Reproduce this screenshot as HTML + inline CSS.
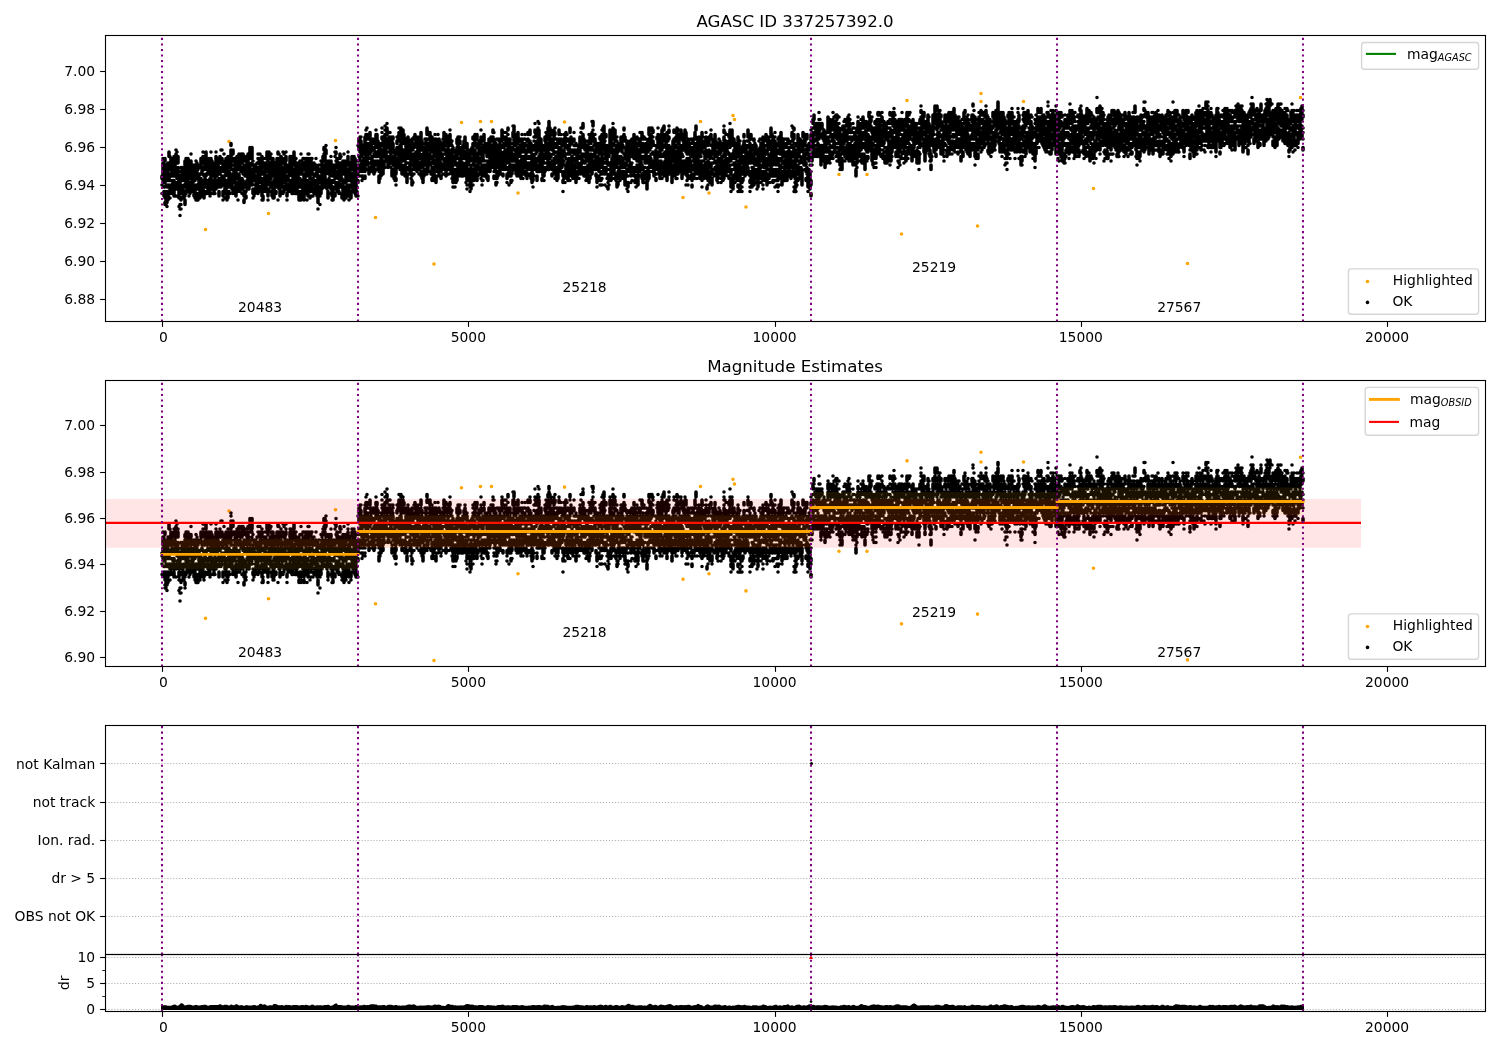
<!DOCTYPE html>
<html><head><meta charset="utf-8"><title>AGASC ID 337257392.0</title>
<style>html,body{margin:0;padding:0;background:#fff;overflow:hidden}svg{display:block}</style>
</head><body>
<svg width="1500" height="1050" viewBox="0 0 1500 1050" font-family="'DejaVu Sans', 'Liberation Sans', sans-serif" fill="#000">
<rect width="1500" height="1050" fill="#fff"/>
<defs>
<clipPath id="c0"><rect x="105.5" y="35.5" width="1380.0" height="286.0"/></clipPath>
<clipPath id="c1"><rect x="105.5" y="380.5" width="1380.0" height="286.0"/></clipPath>
<clipPath id="c2"><rect x="105.5" y="725.5" width="1380.0" height="229.0"/></clipPath>
<clipPath id="c3"><rect x="105.5" y="954.5" width="1380.0" height="57.0"/></clipPath>
</defs>
<g clip-path="url(#c0)">
<path d="M205.5 229.5h0M229 141.5h0M268.5 213.5h0M335.5 140.5h0M375.5 217.5h0M434 264h0M461.5 122.5h0M480.5 121.5h0M491.5 121.5h0M518 193h0M564.5 122h0M683 197.5h0M700.5 121.5h0M709 193h0M733 115.5h0M734.5 119.5h0M746 207h0M811 194h0M839 174.5h0M867 174.5h0M901.5 234h0M907 100.5h0M977.5 226h0M981 93.5h0M981 101.5h0M1023.5 101.5h0M1093.5 188.5h0M1187.5 263.5h0M1300.5 97.5h0" stroke="#ffa500" stroke-width="3.58" stroke-linecap="round" fill="none"/>
<path d="M162 176v2.5m0 6.5h0m0 8.5h0M163 158.5h0m0 4.5v11m0 6.5h0M164 163h0m0 6.5h0m0 4.5v4.5m0 4h0m0 4.5h0m0 4.5v4.5M165 158.5v2.5m0 4h0m0 6.5h0m0 11h0m0 4.5h0m0 9v2m0 4.5v2M166 165v4.5m0 4.5v6.5m0 4.5h0m0 6.5v4.5m0 4v4.5M167 165v9m0 4.5v2m0 4.5v2m0 6.5v2.5m0 4v2.5m0 4h0M168 163v2m0 6.5h0m0 4.5h0m0 4.5h0m0 6.5h0m0 4.5v8.5M169 152v4.5m0 6.5v2m0 4.5h0m0 4.5v6.5m0 4.5v2M170 156.5h0m0 6.5v6.5m0 4.5v2m0 4.5h0m0 6.5v2m0 4.5h0m0 4.5h0M171 158.5v4.5m0 4.5v2m0 6.5h0m0 4.5h0m0 4.5v8.5M172 161v13m0 13h0M173 165v2.5m0 4v4.5m0 4.5v6.5m0 4.5v2M174 156.5v4.5m0 4v2.5m0 4h0m0 4.5h0m0 4.5v2m0 4.5v9M175 158.5v17.5m0 9v2M176 150h0m0 4v4.5m0 4.5h0m0 8.5v4.5m0 9v4m0 7h0M177 152h0m0 9v2m0 6.5v2m0 4.5v2.5m0 4h0m0 4.5h0M178 156.5v6.5m0 4.5v11m0 4h0m0 4.5h0M179 180.5v4.5m0 4v9m0 8.5h0M180 176h0m0 4.5v4.5m0 6.5h0m0 6.5h0m0 6.5h0m0 4.5h0m0 6.5h0M181 167.5h0m0 4h0m0 4.5v4.5m0 4.5v2m0 11v2m0 4.5h0m0 4.5h0M182 167.5v8.5m0 4.5h0m0 8.5v4.5m0 4.5h0M183 167.5v2m0 4.5v6.5m0 6.5v4.5m0 4.5h0M184 171.5v9m0 4.5v2m0 4.5v6.5M185 161v4m0 4.5v6.5m0 9h0m0 6.5h0m0 4.5h0m0 4v4.5M186 158.5h0m0 4.5h0m0 4.5h0m0 4h0m0 4.5h0m0 6.5v4.5m0 4.5v2M187 158.5h0m0 4.5h0m0 6.5v2m0 4.5v15.5M188 158.5v11m0 4.5v2m0 4.5h0m0 4.5h0m0 4v2.5M189 161v6.5m0 4v2.5m0 4.5h0m0 4v9m0 4.5h0M190 161v2m0 4.5h0m0 4h0m0 4.5v2.5m0 13v2M191 154h0m0 7v4m0 4.5v2m0 7h0m0 4v6.5M192 165v2.5m0 6.5h0m0 4.5v2m0 4.5h0m0 4h0M193 167.5h0m0 8.5h0m0 4.5v2m0 4.5v4.5M194 165h0m0 4.5v4.5m0 4.5v2m0 4.5v4m0 4.5v2.5M195 165v15.5m0 11h0m0 4.5v2M196 161h0m0 4h0m0 4.5h0m0 6.5h0m0 9v4m0 4.5v6.5M197 163h0m0 4.5v4m0 7h0m0 6.5h0m0 4h0m0 4.5v6.5M198 165v4.5m0 4.5v2m0 9h0m0 4h0m0 7h0m0 4h0M199 174v2m0 4.5v8.5m0 4.5v2.5M200 165h0m0 9h0m0 4.5v2m0 4.5v2m0 4.5v6.5M201 158.5v9m0 11h0m0 4v13.5M202 161h0m0 6.5v6.5m0 6.5v4.5m0 4v4.5M203 152h0m0 4.5h0m0 4.5v2m0 4.5h0m0 6.5h0m0 11h0m0 4v2.5m0 4.5h0M204 158.5h0m0 9v2m0 6.5h0m0 4.5v6.5m0 6.5v4.5M205 163v6.5m0 6.5v4.5m0 4.5v2m0 4.5h0M206 152v11m0 4.5h0m0 6.5v2m0 4.5h0m0 4.5v2m0 6.5h0M207 158.5v11m0 4.5h0m0 6.5v2m0 11h0M208 161h0m0 4v2.5m0 4v2.5m0 6.5v2m0 4.5v4.5M209 158.5h0m0 4.5v4.5m0 17.5v8.5M210 161v4m0 4.5v4.5m0 4.5v2m0 4.5v6.5m0 4.5h0M211 152h0m0 6.5v2.5m0 4v4.5m0 6.5v2.5m0 4v4.5m0 6.5h0M212 161v4m0 4.5v2m0 4.5h0m0 6.5v6.5M213 163v11m0 6.5v2m0 6.5h0m0 4.5h0M214 169.5v2m0 4.5h0m0 4.5v13M215 163v2m0 4.5v4.5m0 4.5h0m0 4v2.5m0 4h0m0 4.5h0M216 152h0m0 4.5v17.5m0 8.5v2.5m0 4h0M217 161h0m0 4v11m0 4.5h0m0 4.5v2M218 158.5v9m0 4v2.5m0 6.5h0m0 6.5h0M219 169.5v4.5m0 4.5v8.5m0 4.5v4.5M220 156.5v6.5m0 4.5h0m0 4v2.5M221 150h0m0 11v2m0 8.5h0m0 9v6.5M222 150h0m0 8.5v2.5m0 6.5v2m0 6.5v9M223 161h0m0 4v6.5m0 13.5h0m0 6.5v4.5m0 4h0M224 154h0m0 9v2m0 6.5h0m0 4.5v4.5m0 4.5h0M225 163v4.5m0 4h0m0 4.5h0m0 6.5h0m0 4.5v6.5m0 4.5h0M226 158.5v2.5m0 4h0m0 4.5v4.5m0 6.5v8.5M227 161v13m0 6.5h0m0 11v8.5M228 156.5v11m0 8.5h0m0 6.5h0m0 4.5h0m0 4.5h0m0 4.5v2M229 158.5h0m0 6.5v2.5m0 4v2.5m0 4.5v8.5m0 4.5h0M230 158.5h0m0 4.5h0m0 4.5h0m0 11v8.5m0 6.5h0M231 143.5v2m0 4.5v6.5m0 4.5v8.5m0 4.5v4.5m0 6.5h0M232 152h0m0 6.5h0m0 11h0m0 6.5h0m0 4.5v8.5M233 150v4m0 4.5h0m0 15.5v4.5m0 4h0m0 4.5v6.5M234 158.5v2.5m0 4h0m0 4.5v4.5m0 4.5h0m0 4h0M235 158.5h0m0 4.5v4.5m0 11v2m0 6.5v6.5M236 158.5h0m0 4.5h0m0 6.5v2m0 4.5h0m0 6.5v13.5M237 156.5v8.5m0 9v4.5M238 167.5v2m0 4.5v2m0 9v6.5m0 8.5h0M239 154v7m0 8.5h0m0 4.5v8.5M240 163v6.5m0 11v11M241 154v4.5m0 4.5h0m0 4.5h0m0 4h0m0 7h0m0 6.5v4M242 154h0m0 4.5v4.5m0 4.5v2m0 9v4m0 11h0M243 154v4.5m0 9v2m0 4.5h0m0 6.5v8.5m0 4.5h0M244 158.5v2.5m0 4h0m0 4.5v4.5m0 8.5v2.5m0 6.5v4.5m0 4v2.5M245 156.5v4.5m0 6.5h0m0 6.5v2m0 6.5v2.5m0 6.5v2m0 4.5h0M246 161h0m0 4v2.5m0 6.5v2m0 6.5v4.5m0 4.5h0m0 4.5v2M247 158.5v15.5m0 6.5h0m0 6.5v2M248 154v2.5m0 4.5v8.5m0 6.5v6.5M249 163h0m0 4.5h0m0 6.5v15M250 147.5v11m0 6.5v13.5M251 150v4m0 4.5h0m0 6.5h0m0 6.5h0m0 4.5v9M252 147.5v11m0 4.5h0m0 8.5h0m0 4.5h0m0 6.5v2.5M253 161h0m0 4h0m0 4.5v6.5m0 4.5h0m0 8.5v4.5m0 4.5h0M254 165v2.5m0 4v7m0 13h0m0 4.5h0M255 165v2.5m0 4h0m0 4.5v2.5m0 6.5h0m0 4v4.5M256 165h0m0 4.5v2m0 4.5v6.5m0 4.5v4.5M257 163h0m0 4.5v4m0 4.5v2.5m0 4v4.5M258 154h0m0 4.5h0m0 4.5h0m0 8.5v2.5m0 4.5v2m0 4.5v8.5M259 161h0m0 6.5v4m0 4.5h0m0 4.5v2m0 4.5v4.5M260 154h0m0 4.5v6.5m0 4.5v2m0 4.5h0m0 4.5h0m0 6.5v2M261 161v13m0 4.5v4M262 156.5v4.5m0 4v2.5m0 6.5h0m0 6.5h0m0 4.5v2m0 4.5v4.5m0 4h0M263 165v2.5m0 4v2.5m0 4.5v2m0 8.5v2.5m0 4.5v4M264 163v4.5m0 4h0m0 7h0m0 4v6.5M265 158.5h0m0 4.5v19.5m0 4.5h0m0 4.5h0M266 158.5h0m0 4.5v4.5m0 4h0m0 7h0m0 4h0m0 4.5v2M267 152v6.5m0 6.5h0m0 4.5v2m0 4.5v9m0 4h0M268 156.5v4.5m0 4v4.5m0 6.5h0m0 4.5h0m0 8.5v7m0 4h0M269 152h0m0 4.5v2m0 6.5v2.5m0 6.5h0m0 4.5v6.5m0 4h0M270 154v2.5m0 6.5v4.5m0 4h0m0 4.5v4.5m0 4.5h0M271 154h0m0 9v2m0 4.5v9m0 4v4.5m0 4.5h0M272 158.5v2.5m0 4v4.5m0 4.5h0m0 8.5h0m0 4.5h0m0 4.5v4.5M273 158.5v13m0 13.5v6.5m0 6.5h0M274 165v2.5m0 8.5h0m0 4.5h0m0 4.5v13M275 163v15.5m0 4h0m0 9h0M276 167.5h0m0 6.5v8.5m0 4.5h0m0 4.5v2M277 158.5v11m0 4.5v11M278 152v2m0 4.5v2.5m0 4h0m0 4.5v2m0 4.5h0m0 9v2m0 13h0M279 154h0m0 4.5v9m0 8.5h0m0 4.5v2m0 6.5h0M280 171.5v9m0 4.5v11M281 156.5v13m0 6.5v4.5m0 4.5h0M282 167.5v2m0 4.5v13M283 152h0m0 6.5h0m0 4.5h0m0 8.5v11m0 4.5h0m0 4.5v2M284 154h0m0 7v2m0 8.5h0m0 4.5h0m0 4.5v2m0 4.5v4.5M285 161v19.5m0 6.5h0M286 152h0m0 4.5v4.5m0 4v2.5m0 8.5v2.5m0 4v6.5M287 165v6.5m0 9h0m0 6.5v2m0 4.5v2.5m0 4h0M288 176v4.5m0 4.5v6.5M289 165v11m0 9h0m0 6.5h0M290 156.5v6.5m0 6.5v2m0 9v4.5m0 4h0M291 156.5v11m0 4v2.5m0 6.5h0m0 6.5h0m0 4.5h0M292 161v2m0 4.5v2m0 6.5h0m0 9v8.5M293 156.5v2m0 4.5v2m0 6.5h0m0 7v15M294 152v13m0 4.5h0m0 4.5v2m0 6.5h0m0 4.5h0M295 161v2m0 6.5v17.5m0 4.5v2M296 158.5h0m0 4.5v6.5m0 4.5v2m0 6.5h0m0 4.5v6.5M297 174v19.5M298 163v2m0 4.5v11m0 4.5h0M299 163h0m0 4.5v4m0 7v8.5m0 6.5v6.5M300 161h0m0 4v9m0 4.5v8.5m0 4.5v2M301 154h0m0 7h0m0 4h0m0 6.5v2.5m0 6.5h0m0 11h0m0 4.5v4M302 161h0m0 4v9m0 6.5v4.5m0 8.5h0M303 158.5h0m0 4.5v4.5m0 6.5h0m0 6.5v11M304 158.5h0m0 4.5h0m0 6.5h0m0 6.5v2.5m0 4h0m0 4.5h0m0 4.5v8.5M305 163v6.5m0 4.5v17.5M306 158.5v15.5m0 6.5h0m0 4.5h0m0 4v4.5M307 158.5v2.5m0 4v4.5m0 6.5h0m0 6.5v2.5m0 6.5v2m0 6.5h0M308 154h0m0 9h0m0 4.5h0m0 13h0m0 4.5v11M309 154h0m0 4.5v17.5M310 165h0m0 4.5h0m0 4.5v4.5m0 4v9m0 6.5h0M311 158.5v2.5m0 4v2.5m0 11h0m0 4v9m0 4.5h0M312 158.5h0m0 4.5v4.5m0 4h0m0 7v4m0 4.5v2M313 165v4.5m0 4.5h0m0 4.5v6.5m0 11h0M314 163h0m0 4.5v2m0 4.5v2m0 4.5v4.5m0 4v4.5M315 169.5h0m0 4.5v2m0 4.5v4.5m0 4v4.5M316 158.5h0m0 6.5v4.5m0 6.5h0m0 4.5v2m0 4.5v2m0 4.5h0M317 167.5v8.5m0 6.5v13.5M318 167.5h0m0 4h0m0 4.5v2.5m0 6.5h0m0 6.5h0m0 6.5v4.5m0 6.5h0M319 165h0m0 4.5v2m0 4.5v4.5m0 8.5v4.5M320 169.5v2m0 7v4m0 4.5v4.5m0 4.5h0m0 8.5h0M321 161h0m0 8.5v2m0 4.5v6.5m0 4.5v6.5M322 163v11m0 4.5v6.5m0 4h0M323 156.5v2m0 6.5v11m0 4.5v6.5M324 147.5v2.5m0 4h0m0 7h0m0 8.5v4.5m0 4.5v4m0 4.5h0M325 147.5v11m0 6.5h0m0 4.5h0m0 4.5v6.5M326 145.5h0m0 4.5v4m0 7v2m0 4.5h0m0 4v2.5m0 8.5v2.5M327 161h0m0 6.5h0m0 4h0m0 9v2m0 4.5v2M328 165v4.5m0 11v4.5m0 6.5v6.5M329 161v4m0 4.5v4.5m0 4.5v2M330 167.5v8.5m0 6.5v4.5M331 156.5h0m0 4.5v10.5m0 13.5v4m0 4.5h0M332 165h0m0 4.5v6.5m0 4.5h0m0 8.5v7m0 4h0M333 167.5h0m0 6.5v2m0 6.5h0m0 4.5v13M334 165v11m0 4.5h0M335 152h0m0 4.5h0m0 11v2m0 4.5h0m0 4.5h0m0 4h0m0 4.5v2m0 4.5v2.5M336 147.5h0m0 4.5v2m0 7h0m0 4h0m0 9h0m0 8.5v2.5m0 4h0M337 158.5v4.5m0 8.5h0m0 4.5h0m0 9v2m0 4.5h0M338 163h0m0 4.5h0m0 4h0m0 7h0m0 4v9M339 163v15.5m0 4v4.5m0 4.5v2M340 154v4.5m0 4.5v2m0 4.5v2m0 4.5h0m0 4.5h0m0 4.5v2M341 156.5h0m0 6.5v4.5m0 4v9m0 4.5h0M342 163v8.5m0 7h0m0 6.5v2m0 6.5v4.5M343 161h0m0 4h0m0 6.5h0m0 9v15.5M344 154h0m0 9v2m0 4.5h0m0 4.5h0m0 6.5v2m0 9h0m0 4.5v4M345 161v10.5m0 9v2m0 6.5v4.5m0 4.5h0M346 163v4.5m0 4h0m0 4.5v2.5m0 4h0m0 4.5v4.5m0 4.5v2M347 165h0m0 6.5v2.5m0 4.5h0m0 6.5v8.5M348 152h0m0 4.5v6.5m0 6.5v4.5m0 4.5v2m0 6.5v2m0 4.5h0M349 163h0m0 8.5h0m0 4.5h0m0 4.5h0m0 4.5h0m0 4v7m0 4h0M350 163v11m0 4.5v2M351 174v2m0 4.5h0m0 4.5v2m0 4.5v6.5M352 156.5v6.5m0 4.5h0m0 6.5v4.5m0 4h0m0 4.5h0M353 161h0m0 4h0m0 4.5h0m0 6.5h0m0 4.5v11M354 156.5v17.5m0 4.5v4M355 158.5v6.5m0 4.5v6.5m0 9v8.5M356 167.5h0m0 4h0m0 4.5v9m0 4v7M357 167.5v2m0 4.5v2m0 6.5h0m0 4.5h0m0 4.5v4.5M358 145.5h0m0 15.5h0m0 4v4.5m0 4.5v2m0 4.5v2m0 13.5h0M359 139v11m0 6.5h0m0 4.5h0m0 4h0m0 4.5v2m0 4.5h0M360 137v2m0 4.5v8.5m0 4.5v2m0 6.5v2.5M361 137h0m0 4v6.5m0 6.5h0m0 7h0m0 8.5v2m0 4.5h0M362 145.5h0m0 4.5h0m0 4v2.5m0 4.5v4m0 11h0m0 4.5h0M363 145.5h0m0 6.5v2m0 7v6.5m0 4h0m0 4.5v2.5M364 145.5v6.5m0 6.5v6.5m0 4.5h0M365 137v8.5m0 4.5h0m0 4h0m0 11v2.5m0 4h0m0 4.5v2.5M366 130h0m0 4.5v2.5m0 6.5h0m0 4v13.5M367 128h0m0 6.5v4.5m0 4.5h0m0 4v2.5m0 4v9m0 6.5h0M368 139h0m0 4.5v8.5m0 4.5v2m0 6.5h0m0 4.5h0M369 145.5h0m0 4.5v4m0 4.5h0m0 4.5h0m0 4.5v6.5M370 132.5v6.5m0 6.5v2m0 6.5h0m0 4.5h0m0 4.5h0m0 4.5h0M371 139v8.5m0 4.5h0m0 11h0M372 150h0m0 6.5v15M373 139v4.5m0 4v2.5m0 15v4.5M374 141v2.5m0 4v2.5m0 4h0m0 9v4.5m0 4v2.5M375 139h0m0 4.5h0m0 4h0m0 4.5h0m0 4.5h0m0 4.5h0m0 4h0m0 4.5v2M376 130h0m0 4.5v13m0 4.5v4.5M377 134.5v4.5m0 6.5v2m0 4.5h0m0 4.5h0m0 4.5v2M378 141v6.5m0 4.5h0m0 4.5h0m0 4.5v8.5M379 150v4m0 9v2m0 6.5h0m0 4.5v6.5M380 147.5v6.5m0 9v2m0 4.5v2m0 7h0M381 143.5v2m0 6.5h0m0 4.5v4.5m0 4v11M382 128h0m0 4.5h0m0 4.5v2m0 4.5v2m0 4.5h0m0 8.5v2.5m0 6.5h0m0 4h0M383 137h0m0 4h0m0 9v4m0 9v11M384 139h0m0 4.5v4m0 4.5h0m0 4.5h0m0 6.5v4.5M385 126h0m0 4h0m0 4.5v6.5m0 6.5v4.5m0 9h0m0 6.5h0M386 145.5h0m0 4.5v11M387 123.5h0m0 4.5v6.5m0 4.5h0m0 4.5v2M388 141h0m0 4.5v2m0 9v11M389 132.5h0m0 4.5h0m0 4h0m0 11h0m0 4.5h0m0 4.5h0m0 4h0M390 132.5h0m0 4.5v8.5m0 4.5v2m0 4.5v2M391 141h0m0 4.5v2m0 4.5v6.5m0 4.5h0m0 4.5h0M392 137h0m0 4v6.5m0 4.5h0m0 4.5h0m0 4.5h0m0 8.5v6.5M393 137v2m0 4.5v8.5m0 6.5v6.5m0 9h0M394 150h0m0 6.5v8.5m0 9h0m0 4.5h0M395 152v4.5m0 4.5v2m0 4.5v13M396 150v4m0 4.5h0m0 4.5h0m0 4.5v6.5m0 4.5v2m0 4.5h0M397 137h0m0 4v2.5m0 4v6.5m0 4.5v2.5m0 4v2.5M398 139v2m0 6.5v6.5m0 4.5h0m0 4.5v2M399 128h0m0 4.5v6.5m0 11v11M400 134.5v4.5m0 6.5h0m0 11h0m0 6.5h0m0 4.5v2M401 128v4.5m0 4.5h0m0 4v11m0 6.5h0m0 6.5h0M402 134.5v2.5m0 6.5h0m0 6.5h0m0 4v7m0 4v9M403 130v11m0 9h0m0 4v7M404 134.5v2.5m0 4v2.5m0 6.5v4m0 4.5h0M405 152h0m0 4.5h0m0 4.5h0m0 4v11M406 139v8.5m0 6.5h0m0 4.5h0m0 4.5h0m0 6.5v2M407 145.5h0m0 4.5v2m0 4.5v2m0 4.5h0m0 4.5v2m0 4.5v8.5M408 137v8.5m0 6.5v2m0 9h0m0 4.5h0M409 141h0m0 4.5v13m0 9v2M410 141v11m0 6.5h0m0 4.5v11M411 143.5v4m0 9v4.5m0 8.5v4.5m0 4.5h0M412 139v6.5m0 4.5h0m0 4h0m0 4.5v2.5m0 4h0m0 4.5h0m0 6.5h0m0 4.5v4.5M413 143.5v2m0 4.5h0m0 4v7m0 4h0m0 17.5h0M414 137h0m0 8.5v2m0 6.5h0m0 4.5v11m0 4.5h0M415 134.5v4.5m0 4.5h0m0 10.5v2.5m0 6.5v6.5M416 137v6.5m0 8.5h0m0 4.5v2m0 4.5h0M417 139v8.5m0 4.5h0m0 4.5v4.5m0 8.5v2M418 137v2m0 4.5v10.5m0 7h0m0 4v4.5M419 141v11m0 4.5h0m0 6.5v6.5m0 4.5h0M420 145.5v4.5m0 4v4.5m0 4.5v6.5M421 132.5v6.5m0 6.5v4.5m0 6.5h0m0 6.5h0m0 4.5h0m0 4h0m0 4.5h0M422 141v9m0 8.5v6.5m0 9v4.5M423 154v2.5m0 6.5v4.5m0 4v11M424 147.5v11m0 6.5h0m0 4.5v6.5M425 139h0m0 4.5h0m0 4v17.5M426 139v8.5m0 4.5v2m0 7h0m0 8.5v2M427 128v6.5m0 4.5h0m0 6.5v2m0 4.5h0m0 6.5v4.5m0 4.5h0m0 6.5h0M428 150h0m0 6.5v2m0 6.5v6.5M429 132.5v2m0 4.5h0m0 4.5h0m0 4h0m0 6.5v7M430 132.5v8.5m0 4.5h0m0 8.5v2.5m0 6.5h0M431 143.5v2m0 4.5v2m0 4.5v2m0 4.5v2m0 6.5v2.5M432 137h0m0 4v9m0 8.5h0m0 9v4m0 7v2M433 139v8.5m0 4.5h0m0 6.5v4.5m0 13h0M434 143.5v4m0 4.5v4.5m0 11v6.5m0 4.5v2M435 134.5h0m0 4.5v4.5m0 4v9m0 4.5h0m0 4v4.5M436 139h0m0 6.5v4.5m0 4h0m0 9h0m0 6.5v2m0 4.5v6.5M437 141v4.5m0 4.5v11m0 4v4.5M438 134.5h0m0 6.5h0m0 6.5v2.5m0 4h0m0 4.5h0m0 4.5v6.5m0 6.5h0M439 139v2m0 6.5h0m0 4.5h0m0 4.5v8.5m0 6.5v2.5M440 141v13m0 4.5v2.5m0 4h0m0 4.5h0M441 156.5v2m0 4.5v8.5m0 4.5v2.5M442 143.5v6.5m0 4v4.5m0 9v2M443 139h0m0 4.5v4m0 6.5h0m0 4.5h0m0 6.5v4.5m0 4.5h0M444 132.5v17.5m0 8.5v2.5M445 134.5v9m0 6.5h0m0 4h0m0 7v8.5M446 134.5v2.5m0 4h0m0 9v2m0 6.5h0m0 6.5h0m0 4.5v6.5M447 141v4.5m0 4.5v8.5m0 4.5v4.5M448 137v2m0 6.5v2m0 4.5h0m0 4.5h0m0 4.5v2m0 4.5v2M449 139v2m0 9h0m0 6.5v13m0 4.5h0M450 130h0m0 4.5v11m0 6.5v2M451 141v2.5m0 6.5h0m0 4v4.5m0 4.5v8.5M452 141h0m0 4.5h0m0 6.5v4.5m0 4.5v13m0 4.5h0M453 147.5v4.5m0 6.5h0m0 6.5h0m0 6.5v11m0 4.5h0M454 150v2m0 4.5v8.5m0 4.5v2m0 11h0M455 156.5h0m0 4.5v2m0 6.5v11m0 6.5h0M456 154v2.5m0 6.5v2m0 4.5h0m0 4.5h0m0 4.5v4M457 139v4.5m0 4v11m0 11h0m0 4.5h0m0 4.5v2M458 137v8.5m0 6.5v2m0 4.5h0m0 4.5v4.5m0 4h0m0 4.5h0M459 137v2m0 4.5h0m0 10.5h0m0 4.5h0m0 4.5v13M460 137h0m0 4v2.5m0 4v2.5m0 8.5v2.5m0 4h0M461 152h0m0 4.5h0m0 4.5v15M462 147.5v2.5m0 4v4.5m0 6.5v4.5m0 4.5v2M463 145.5v8.5m0 4.5h0m0 4.5h0m0 4.5v8.5M464 141v6.5m0 4.5v6.5m0 6.5h0m0 4.5v4.5M465 137v10.5m0 4.5h0m0 6.5h0m0 6.5v9M466 143.5h0m0 8.5v6.5m0 4.5h0m0 4.5v8.5m0 6.5h0M467 143.5v6.5m0 6.5h0m0 4.5h0m0 6.5h0m0 8.5v4.5m0 4.5h0m0 4h0M468 150h0m0 4v11m0 4.5h0M469 169.5v11m0 4.5h0M470 150v11m0 4h0m0 4.5v4.5m0 8.5h0m0 4.5h0m0 4.5h0M471 152v2m0 4.5v2.5m0 6.5v2m0 4.5v2m0 6.5h0m0 4.5v2M472 147.5v2.5m0 4h0m0 4.5h0m0 6.5h0m0 6.5h0m0 4.5v4.5m0 4.5h0M473 137v2m0 4.5v4m0 4.5h0m0 6.5v2.5m0 4h0m0 4.5v6.5m0 4.5h0m0 4.5h0M474 145.5h0m0 4.5h0m0 4v11m0 6.5v9M475 134.5v11m0 4.5v2m0 6.5h0m0 9v2M476 137v2m0 6.5h0m0 11h0m0 4.5h0m0 8.5v6.5M477 134.5v4.5m0 6.5v2m0 6.5h0m0 4.5v2.5m0 4v4.5m0 4.5h0m0 4.5v2M478 143.5v2m0 11v2m0 4.5v6.5m0 4.5v2M479 141v13m0 7v2m0 6.5h0M480 147.5v2.5m0 4h0m0 4.5v4.5m0 4.5h0m0 4h0M481 130h0m0 7v6.5m0 4h0m0 4.5v2m0 4.5h0m0 15.5h0m0 4.5h0M482 150h0m0 4v2.5m0 4.5h0m0 4v11m0 4.5h0m0 4.5h0M483 145.5v15.5m0 6.5h0m0 4h0m0 9h0M484 134.5v6.5m0 6.5v4.5m0 13v2.5m0 6.5v2M485 143.5v8.5m0 9h0m0 4h0m0 4.5h0m0 6.5h0M486 145.5v6.5m0 13h0m0 4.5v6.5M487 143.5v4m0 6.5v2.5m0 4.5h0m0 4v2.5m0 4h0m0 4.5v2.5M488 145.5v11m0 6.5h0m0 13v4.5M489 139v2m0 4.5v6.5m0 9h0m0 4v6.5M490 143.5h0m0 4h0m0 4.5h0m0 4.5v15M491 137h0m0 4h0m0 4.5v8.5m0 4.5v4.5M492 137v4m0 4.5v11m0 4.5h0M493 130v2.5m0 4.5h0m0 4h0m0 9v2m0 4.5v4.5m0 4v2.5M494 132.5h0m0 6.5h0m0 4.5h0m0 4v9m0 6.5v2m0 6.5h0m0 4.5v2.5M495 141h0m0 4.5v2m0 6.5h0m0 4.5v2.5m0 4v6.5M496 143.5h0m0 4v6.5m0 4.5v4.5m0 4.5h0m0 4h0m0 4.5v2.5m0 4v2.5M497 139h0m0 6.5v6.5m0 4.5h0m0 4.5h0m0 6.5h0m0 4v7m0 4h0M498 145.5h0m0 8.5v4.5m0 4.5v4.5m0 4v4.5M499 139v2m0 4.5v2m0 4.5h0m0 4.5v4.5m0 4h0M500 143.5v8.5m0 4.5h0m0 4.5v13M501 139v2m0 4.5v2m0 4.5v4.5m0 4.5v8.5M502 130v11m0 4.5v2m0 11v2.5M503 158.5v11m0 4.5v2M504 132.5h0m0 4.5v2m0 4.5v4m0 4.5v6.5m0 4.5h0M505 150h0m0 4v15.5M506 132.5h0m0 4.5v6.5m0 6.5h0m0 6.5h0M507 143.5v2m0 4.5v8.5m0 4.5h0m0 6.5h0m0 4.5v4.5m0 4h0M508 128v2m0 4.5h0m0 4.5h0m0 4.5v4m0 4.5h0m0 9h0m0 6.5h0M509 141h0m0 4.5v6.5m0 11h0m0 6.5v6.5m0 9h0M510 139v2m0 4.5h0m0 6.5v9m0 4v6.5m0 4.5h0M511 143.5h0m0 4h0m0 4.5v6.5m0 6.5h0m0 4.5v2m0 4.5h0m0 4.5v2M512 147.5v2.5m0 6.5v4.5m0 4v9m0 6.5h0M513 126h0m0 6.5v4.5m0 6.5h0m0 4v2.5m0 4v7M514 126v6.5m0 4.5v4m0 4.5h0m0 4.5h0m0 6.5v2m0 6.5h0m0 4.5h0M515 134.5v2.5m0 6.5h0m0 6.5h0m0 11h0m0 6.5v2M516 143.5v2m0 6.5v6.5m0 6.5v9M517 139v2m0 6.5v2.5m0 4h0m0 4.5v13m0 4.5h0M518 132.5v4.5m0 4v2.5m0 6.5v2M519 154v2.5m0 6.5v13M520 139v2m0 4.5v8.5m0 7h0M521 163v15.5M522 134.5h0m0 4.5v11m0 6.5v4.5M523 147.5h0m0 4.5h0m0 6.5v11m0 4.5h0m0 4.5h0M524 139h0m0 4.5v6.5m0 6.5v2m0 4.5h0m0 4.5h0m0 4v2.5M525 134.5h0m0 4.5h0m0 4.5v2m0 4.5v2m0 4.5v11M526 145.5h0m0 8.5h0m0 4.5h0m0 6.5v2.5m0 4v4.5M527 141h0m0 4.5h0m0 4.5h0m0 6.5v2m0 4.5v6.5m0 9h0M528 132.5v2m0 4.5v2m0 4.5v2m0 4.5h0m0 11v6.5m0 4.5v2M529 141v4.5m0 4.5h0m0 6.5v2m0 4.5v6.5m0 4.5h0M530 130v4.5m0 6.5h0m0 4.5v2m0 4.5h0m0 4.5h0m0 6.5v4.5m0 6.5h0M531 143.5v2m0 4.5v2m0 4.5h0m0 6.5v2m0 4.5h0m0 4.5v4.5M532 145.5v4.5m0 4h0m0 4.5v4.5m0 4.5h0m0 4v11M533 147.5v2.5m0 6.5h0m0 4.5v6.5m0 6.5h0m0 4.5v2m0 6.5h0M534 137h0m0 4h0m0 4.5v4.5m0 6.5v2m0 4.5v2m0 4.5h0m0 6.5h0M535 123.5h0m0 6.5v2.5m0 4.5h0m0 8.5v2m0 6.5h0m0 7v2M536 132.5v4.5m0 6.5v2m0 4.5h0m0 4h0m0 4.5v4.5m0 4.5h0M537 130v2.5m0 4.5h0m0 4v2.5m0 8.5h0m0 6.5h0m0 6.5v6.5m0 4.5v4.5M538 121.5h0m0 6.5h0m0 4.5h0m0 4.5h0m0 4v9m0 8.5v2.5m0 6.5v4M539 123.5h0m0 6.5v9m0 4.5v6.5m0 6.5h0m0 8.5h0m0 4.5v2M540 154v17.5M541 139v13m0 9v2m0 4.5h0M542 145.5v2m0 4.5h0m0 4.5v2m0 6.5v6.5m0 7v2M543 145.5v4.5m0 4v7m0 8.5v6.5M544 145.5v2m0 9h0m0 6.5h0m0 4.5v8.5m0 4.5h0M545 137v4m0 4.5v4.5m0 4v2.5m0 6.5h0m0 4.5v4M546 132.5h0m0 4.5v15m0 6.5h0M547 134.5v2.5m0 8.5v13M548 128v2m0 4.5v4.5m0 4.5h0m0 4v4.5m0 6.5v11M549 121.5v6.5m0 4.5h0m0 6.5h0m0 6.5h0m0 4.5h0m0 15h0m0 4.5h0M550 128h0m0 4.5v4.5m0 4v2.5m0 4h0m0 6.5v4.5m0 4.5v4.5M551 130v4.5m0 4.5v2m0 4.5v2m0 9h0m0 6.5v2M552 143.5v6.5m0 11h0m0 4v4.5m0 4.5v2M553 132.5v2m0 4.5v4.5m0 4v2.5m0 4h0m0 7v8.5m0 4.5h0M554 130v7m0 8.5h0m0 6.5v2m0 4.5h0m0 4.5v8.5M555 128h0m0 4.5v2m0 9h0m0 8.5h0m0 6.5v2.5m0 8.5v4.5m0 4.5h0M556 139h0m0 4.5v4m0 4.5h0m0 4.5h0m0 6.5h0m0 4.5v4m0 4.5h0M557 139h0m0 4.5v2m0 11h0m0 4.5h0m0 8.5v4.5m0 6.5h0M558 141v2.5m0 4h0m0 4.5v6.5m0 4.5h0m0 6.5h0m0 4.5v4.5M559 130v4.5m0 4.5h0m0 4.5h0m0 4v2.5m0 15v4.5M560 154v17.5M561 134.5h0m0 4.5v2m0 6.5h0m0 6.5v7M562 143.5v2m0 4.5v13m0 4.5h0M563 145.5h0m0 6.5h0m0 9v4m0 6.5v4.5m0 4.5v2m0 9h0M564 134.5h0m0 4.5v4.5m0 6.5v6.5m0 4.5h0m0 13v4.5M565 137v10.5m0 9h0m0 17.5v2m0 6.5h0M566 132.5v2m0 4.5v2m0 4.5v2m0 6.5h0m0 4.5h0m0 6.5v6.5M567 134.5h0m0 4.5v2m0 4.5h0m0 8.5h0m0 9v6.5m0 4.5v4.5M568 139v2m0 4.5h0m0 4.5h0m0 11h0m0 6.5h0m0 6.5v6.5M569 145.5v8.5m0 4.5h0m0 4.5v8.5M570 128v4.5m0 6.5h0m0 4.5v2m0 4.5h0m0 4h0m0 7h0m0 6.5h0m0 6.5h0m0 6.5h0M571 137h0m0 4v2.5m0 6.5v2m0 6.5h0m0 4.5h0m0 4.5v2m0 6.5h0M572 139h0m0 4.5h0m0 6.5v2m0 4.5v8.5m0 6.5v4.5M573 158.5h0m0 6.5v13.5M574 132.5h0m0 6.5v2m0 4.5h0m0 4.5v4m0 4.5v2.5m0 4h0M575 145.5h0m0 4.5v2m0 6.5v2.5m0 4h0m0 4.5h0m0 4.5h0M576 143.5v2m0 6.5v2m0 9h0m0 4.5h0m0 4h0m0 4.5v6.5M577 145.5h0m0 4.5v6.5m0 4.5h0m0 4h0m0 9v2M578 145.5h0m0 6.5v6.5m0 4.5h0M579 147.5v4.5m0 4.5v2m0 6.5v9m0 4.5h0M580 137v8.5m0 4.5v2m0 4.5h0M581 128h0m0 4.5h0m0 8.5v2.5m0 4h0m0 9v2m0 4.5v11M582 139v4.5m0 4h0m0 6.5v9m0 4.5v4M583 123.5v4.5m0 6.5v2.5m0 4v6.5m0 9h0M584 139v4.5m0 4h0m0 6.5h0m0 7v2m0 4.5v2m0 4.5v2M585 143.5v6.5m0 4h0m0 7v2m0 4.5h0m0 4v4.5M586 145.5v4.5m0 4v4.5m0 9v2m0 4.5h0m0 6.5h0M587 141h0m0 4.5h0m0 4.5v6.5m0 4.5h0m0 8.5v2m0 4.5v2.5M588 145.5v2m0 6.5h0m0 4.5v2.5m0 4v9M589 134.5h0m0 6.5v2.5m0 4v2.5m0 4v4.5m0 6.5h0m0 6.5h0m0 4.5v6.5M590 137v4m0 6.5v2.5m0 6.5h0m0 6.5h0m0 4.5v4m0 4.5v2.5M591 134.5v4.5m0 4.5h0m0 4h0m0 6.5h0m0 7v4M592 121.5h0m0 11h0m0 4.5v4m0 6.5v2.5m0 8.5h0m0 4.5v11M593 121.5v4.5m0 4h0m0 4.5v6.5m0 9h0m0 6.5h0m0 4.5v2m0 6.5h0M594 145.5h0m0 4.5h0m0 4v2.5m0 4.5v6.5M595 134.5h0m0 4.5v6.5m0 6.5v4.5m0 4.5h0m0 6.5v2M596 143.5h0m0 4h0m0 4.5h0m0 4.5v4.5m0 4v4.5m0 4.5v2M597 143.5v2m0 4.5h0m0 8.5h0m0 4.5h0m0 13v6.5m0 4.5h0M598 143.5v8.5m0 4.5v2m0 4.5h0m0 4.5h0M599 152v2m0 4.5v2.5m0 4v6.5m0 4.5h0M600 137v2m0 4.5v8.5m0 9h0m0 4h0m0 6.5h0m0 7v2m0 4.5h0M601 137h0m0 4h0m0 4.5v8.5m0 9h0m0 11h0m0 4.5v2m0 4.5h0M602 130h0m0 4.5v4.5m0 6.5h0m0 11v11m0 4v2.5m0 4.5h0m0 6.5h0M603 128v2m0 4.5h0m0 4.5h0m0 4.5v4m0 6.5h0m0 7v2m0 4.5h0M604 126v6.5m0 4.5v6.5m0 4v2.5m0 8.5h0m0 4.5h0m0 4.5v2m0 4.5h0M605 137h0m0 4h0m0 4.5v2m0 4.5h0m0 6.5h0m0 4.5h0m0 4.5h0m0 4v2.5m0 11h0M606 134.5v2.5m0 13h0m0 4v4.5m0 4.5h0m0 4.5v4M607 145.5v2m0 4.5v11m0 11h0m0 4.5h0m0 8.5h0M608 150v4m0 9v2m0 4.5h0m0 6.5h0m0 6.5h0m0 4.5v2M609 145.5v11m0 6.5v2m0 11v4.5m0 4.5h0M610 130v15.5m0 6.5h0m0 11h0m0 11v4.5M611 141v4.5m0 4.5v2m0 13v15.5M612 137v2m0 4.5h0m0 4h0m0 11v13M613 123.5h0m0 4.5v6.5m0 9v2m0 8.5v4.5m0 4.5h0m0 4.5h0m0 6.5h0M614 132.5v4.5m0 6.5h0m0 6.5v6.5m0 6.5v11m0 4.5h0M615 130v4.5m0 4.5v2m0 4.5h0m0 6.5h0m0 4.5v4.5M616 141h0m0 6.5h0m0 4.5h0m0 4.5h0m0 8.5v2.5m0 6.5v6.5M617 137h0m0 4h0m0 4.5v4.5m0 4h0m0 4.5h0m0 4.5v2m0 9v2m0 6.5v4.5M618 143.5v2m0 4.5v2m0 4.5v6.5m0 8.5h0m0 11v2.5M619 163h0m0 4.5v11M620 145.5v4.5m0 6.5v2m0 4.5h0m0 8.5v9M621 137v10.5m0 9v11m0 4h0M622 137v2m0 4.5h0m0 6.5v2m0 6.5h0m0 4.5v4.5m0 4v2.5M623 137v4m0 4.5h0m0 13v9m0 4v7M624 128v2m0 4.5v2.5m0 4h0m0 6.5h0m0 6.5h0m0 9v2m0 6.5v2.5M625 137v4m0 15.5v2m0 6.5v2.5m0 8.5v9M626 147.5v4.5m0 4.5v2m0 4.5h0m0 8.5v2.5m0 8.5v2.5M627 141v6.5m0 4.5v2m0 4.5v2.5m0 8.5v2m0 4.5h0m0 6.5v2.5m0 4h0M628 152h0m0 4.5v2m0 6.5h0m0 4.5h0m0 6.5h0m0 6.5v4.5m0 4.5h0M629 147.5v13.5m0 4v2.5m0 4h0M630 141v15.5m0 8.5h0M631 152h0m0 4.5h0m0 6.5v6.5m0 4.5v2m0 6.5h0M632 139v4.5m0 4v2.5m0 6.5h0m0 6.5h0m0 4.5v4m0 9h0M633 145.5h0m0 4.5v6.5m0 13h0m0 4.5h0M634 134.5v2.5m0 6.5v4m0 6.5h0m0 4.5h0m0 9h0m0 4v4.5M635 139v13m0 6.5h0m0 11h0m0 6.5h0m0 4.5v2M636 150v8.5m0 9h0m0 8.5v2.5m0 4h0m0 4.5h0M637 137v2m0 4.5v4m0 4.5h0m0 4.5v4.5m0 4h0m0 6.5h0m0 7h0M638 143.5h0m0 6.5v2m0 6.5v2.5m0 6.5v2m0 4.5v11M639 139v2m0 9h0m0 4v7m0 4h0m0 4.5h0M640 132.5h0m0 6.5v6.5m0 4.5h0m0 4h0m0 9h0m0 4.5v4m0 4.5h0M641 139h0m0 8.5v4.5m0 4.5v8.5m0 11h0M642 132.5v6.5m0 4.5h0m0 6.5h0m0 8.5h0m0 6.5v2.5m0 6.5h0m0 4.5h0M643 143.5v2m0 4.5v2m0 4.5h0m0 13h0m0 4.5v8.5M644 137v2m0 8.5h0m0 9h0m0 11h0m0 4v2.5m0 4.5h0m0 4h0M645 145.5h0m0 4.5v2m0 4.5v6.5m0 4.5h0m0 6.5v4.5M646 139h0m0 4.5v6.5m0 4v4.5m0 4.5h0m0 8.5v2.5m0 4.5h0m0 4h0M647 143.5v2m0 4.5v2m0 6.5h0m0 13v4.5m0 4.5v8.5M648 141v6.5m0 4.5h0m0 6.5v4.5m0 4.5v2m0 4.5h0m0 6.5h0M649 128v6.5m0 4.5v2m0 15.5v2m0 9h0m0 6.5v4.5M650 137h0m0 6.5h0m0 6.5h0m0 6.5v11m0 4h0M651 128v2m0 4.5v4.5m0 4.5v4m0 6.5h0m0 4.5h0M652 128v2m0 11h0m0 4.5h0m0 15.5v6.5m0 4h0M653 130v2.5m0 4.5h0m0 4v4.5m0 6.5v2m0 7h0m0 4v2.5M654 163h0m0 4.5v8.5M655 145.5h0m0 6.5v6.5m0 4.5h0m0 4.5h0M656 150h0m0 11v8.5m0 4.5h0m0 4.5v2M657 137v2m0 6.5v2m0 4.5h0m0 6.5h0m0 4.5v4.5m0 6.5h0M658 128h0m0 6.5h0m0 4.5v4.5m0 10.5v2.5m0 6.5h0m0 4.5v2M659 137h0m0 4v2.5m0 8.5v4.5m0 4.5v10.5M660 137v2m0 6.5v11m0 8.5h0m0 4.5v9M661 134.5h0m0 4.5v8.5m0 9h0m0 4.5h0m0 4v4.5m0 4.5h0M662 130v2.5m0 4.5v8.5m0 4.5h0m0 6.5h0m0 6.5h0m0 4.5h0m0 6.5h0m0 4.5h0M663 128h0m0 6.5v6.5m0 4.5v2m0 6.5h0m0 9v4.5m0 4h0M664 126v4m0 4.5v2.5m0 8.5h0m0 11h0m0 13h0m0 6.5h0M665 134.5v6.5m0 4.5h0m0 6.5v2m0 7h0m0 4v9M666 139v8.5m0 6.5v4.5m0 4.5v4.5m0 4v4.5M667 132.5v4.5m0 8.5v4.5m0 6.5h0m0 8.5v2.5m0 4v9M668 137v4m0 4.5v6.5m0 9v10.5M669 126h0m0 4v2.5m0 4.5v2m0 6.5v2m0 6.5h0m0 4.5h0m0 6.5h0m0 4.5h0m0 4.5h0M670 154v20M671 147.5v15.5m0 4.5h0m0 4v2.5M672 154v4.5m0 6.5h0m0 4.5v13M673 141v6.5m0 11v2.5m0 6.5v2m0 6.5h0M674 130v2.5m0 6.5v4.5m0 6.5v8.5M675 154v4.5m0 4.5v13M676 137v4m0 4.5v2m0 4.5h0m0 4.5v8.5m0 13.5h0M677 128v11m0 8.5h0m0 6.5v2.5m0 11h0m0 4v2.5m0 4.5h0M678 134.5v4.5m0 4.5h0m0 4v2.5m0 6.5v17.5M679 130h0m0 4.5h0m0 4.5v4.5m0 6.5v6.5m0 4.5h0m0 4h0M680 145.5v2m0 9v15M681 130v9m0 8.5h0m0 4.5h0m0 11v8.5M682 139h0m0 6.5v4.5m0 4v2.5m0 6.5v2m0 6.5v7M683 134.5v6.5m0 6.5h0m0 9h0m0 4.5h0m0 4h0m0 4.5h0M684 134.5v11m0 4.5h0m0 11v10.5M685 130v4.5m0 6.5v9m0 11h0m0 6.5v6.5M686 132.5v4.5m0 4h0m0 6.5v4.5m0 9h0m0 10.5v2.5m0 11h0M687 141v2.5m0 10.5h0m0 4.5h0m0 4.5v13m0 4.5h0M688 139h0m0 4.5v6.5m0 8.5h0m0 9h0m0 8.5v2.5m0 6.5h0M689 141h0m0 4.5v8.5m0 4.5v2.5m0 4v2.5m0 4h0m0 4.5v2.5M690 150h0m0 8.5h0m0 4.5v8.5m0 4.5h0M691 139h0m0 4.5h0m0 4v9m0 4.5h0m0 6.5v4M692 165h0m0 4.5h0m0 4.5v6.5m0 4.5v2M693 139v4.5m0 4v6.5m0 7h0M694 139h0m0 4.5h0m0 13v4.5m0 4v4.5m0 4.5v2M695 132.5v6.5m0 6.5v2m0 4.5v2m0 9h0m0 4.5v4m0 7h0M696 126v4m0 7h0m0 6.5v2m0 4.5v4m0 4.5h0m0 6.5h0m0 4.5h0M697 152v15.5m0 4v2.5m0 4.5h0M698 139v8.5m0 4.5v6.5m0 4.5v4.5M699 137v6.5m0 4v4.5m0 13v4.5M700 143.5h0m0 8.5v4.5m0 4.5v2m0 6.5v9M701 139v8.5m0 4.5h0m0 4.5h0m0 6.5h0m0 4.5h0m0 4h0M702 132.5v4.5m0 8.5v4.5m0 11h0m0 4h0m0 9v6.5m0 6.5h0M703 137h0m0 4v2.5m0 4h0m0 4.5h0m0 9h0m0 6.5v8.5M704 145.5v2m0 4.5v2m0 7h0m0 4v13.5M705 143.5v4m0 4.5v6.5m0 6.5h0m0 4.5v6.5M706 132.5h0m0 4.5v6.5m0 6.5v2m0 6.5h0m0 4.5v6.5m0 4.5h0M707 141h0m0 15.5h0m0 8.5v2.5m0 4v7m0 8.5v2M708 145.5h0m0 8.5v2.5m0 4.5v4m0 4.5h0m0 4.5v2m0 4.5h0m0 4.5h0M709 137v6.5m0 6.5v2m0 11v2m0 6.5v4.5M710 154v4.5m0 4.5h0m0 4.5h0m0 4v11M711 130h0m0 4.5v4.5m0 6.5h0m0 6.5v4.5m0 8.5v2.5M712 152v2m0 9h0m0 6.5v4.5m0 4.5v6.5M713 141v13m0 4.5h0m0 4.5h0M714 139h0m0 4.5v4m0 4.5h0m0 6.5h0m0 4.5h0m0 6.5h0m0 4.5v2M715 134.5v9m0 4v2.5m0 4v2.5m0 4.5h0m0 6.5v2M716 141v2.5m0 4h0m0 4.5h0m0 11h0m0 6.5v2m0 4.5h0M717 145.5h0m0 6.5v4.5m0 4.5h0m0 4v9m0 4.5v2M718 143.5v4m0 4.5h0m0 6.5v2.5m0 4h0m0 6.5v7m0 4h0M719 139h0m0 4.5v6.5m0 4h0m0 4.5v6.5m0 6.5h0M720 141v4.5m0 4.5v4m0 4.5h0m0 6.5v6.5M721 143.5v4m0 4.5h0m0 6.5v4.5m0 6.5h0m0 4.5h0m0 4.5h0m0 4h0M722 147.5h0m0 9v2m0 4.5v15.5M723 143.5v2m0 4.5h0m0 6.5h0m0 4.5h0m0 6.5v13M724 126h0m0 4v2.5m0 4.5v4m0 4.5v4.5m0 4v2.5m0 4.5v2m0 6.5h0m0 4.5h0m0 4.5h0M725 132.5h0m0 11v4m0 4.5v4.5m0 4.5v4m0 6.5v4.5M726 134.5h0m0 6.5v2.5m0 8.5h0m0 6.5v4.5m0 4.5v2m0 4.5h0M727 145.5v8.5m0 4.5v4.5m0 4.5v2M728 134.5h0m0 9v4m0 4.5v2m0 7v6.5m0 4h0m0 4.5h0M729 134.5v2.5m0 4v4.5m0 13v2.5m0 4v6.5m0 4.5v2.5M730 123.5h0m0 6.5v11m0 4.5v2m0 6.5v4.5M731 161h0m0 4h0m0 4.5v4.5m0 4.5v8.5m0 4.5h0M732 130v13.5m0 10.5v4.5m0 11h0M733 141h0m0 4.5h0m0 11h0m0 19.5v13M734 139v4.5m0 6.5v8.5m0 4.5v2m0 4.5h0m0 9h0M735 147.5h0m0 4.5v2m0 4.5h0m0 4.5v4.5m0 6.5v4.5m0 4h0M736 143.5v2m0 4.5v2m0 6.5h0m0 11v9M737 143.5v8.5m0 4.5h0m0 4.5h0m0 4v2.5m0 6.5h0m0 6.5h0M738 137v4m0 6.5v2.5m0 4v2.5m0 4.5h0m0 8.5v2m0 4.5h0m0 9v2m0 4.5h0M739 143.5v4m0 4.5h0m0 11h0m0 6.5v4.5m0 4.5v2M740 141h0m0 6.5v2.5m0 6.5v2m0 6.5v4.5m0 4.5v6.5m0 4.5h0m0 4v2.5M741 147.5h0m0 6.5v7m0 6.5v4m0 7h0m0 4h0M742 150v2m0 11h0m0 4.5v6.5m0 6.5v2m0 4.5h0m0 4.5h0M743 145.5v6.5m0 4.5h0m0 6.5h0m0 6.5v4.5m0 4.5v2M744 134.5v2.5m0 4v4.5m0 4.5v2m0 6.5v2.5m0 4v2.5m0 4h0M745 156.5v2m0 6.5v11M746 145.5v19.5m0 6.5h0M747 141h0m0 4.5v2m0 4.5v6.5m0 6.5v9M748 130v7m0 4h0m0 17.5h0m0 9v6.5M749 141h0m0 4.5v2m0 4.5v2m0 7v2m0 8.5v2.5M750 139h0m0 4.5v2m0 4.5h0m0 4v4.5m0 4.5h0m0 11v2m0 4.5v2m0 4.5h0m0 4.5h0M751 134.5v4.5m0 6.5v6.5m0 6.5v4.5m0 8.5h0m0 7h0M752 158.5v2.5m0 6.5h0m0 4v2.5m0 4.5v8.5M753 145.5h0m0 4.5h0m0 4v2.5m0 4.5v2m0 4.5v13M754 139v2m0 4.5v4.5m0 6.5v2m0 4.5h0m0 11v2m0 4.5v4.5M755 143.5h0m0 4v6.5m0 7v4m0 4.5v2M756 145.5v8.5m0 9v2m0 4.5v4.5m0 4.5h0m0 4h0M757 150h0m0 8.5v4.5m0 8.5h0m0 4.5v2.5m0 4h0m0 6.5h0M758 150v11m0 8.5h0m0 6.5h0m0 4.5v6.5M759 141h0m0 9h0m0 6.5h0m0 4.5v17.5m0 4h0M760 139h0m0 8.5v9m0 4.5h0m0 8.5v9M761 143.5v8.5m0 4.5v4.5m0 6.5h0m0 4v7m0 4h0M762 139h0m0 4.5v17.5m0 4h0m0 11h0M763 137v8.5m0 13h0m0 13v9m0 4.5h0m0 4h0M764 147.5v20m0 4v2.5M765 145.5h0m0 4.5v2m0 11v4.5m0 4v2.5m0 4.5v2M766 134.5v6.5m0 4.5h0m0 8.5h0m0 4.5h0m0 6.5h0m0 6.5v7M767 141h0m0 4.5h0m0 4.5v4m0 7v2m0 4.5v2m0 4.5h0m0 4.5v6.5M768 137v13M769 143.5v2m0 11v2m0 4.5v2m0 4.5h0m0 4.5v4.5M770 137h0m0 4h0m0 4.5v2m0 6.5v9m0 6.5v2m0 4.5h0m0 6.5h0M771 128v6.5m0 6.5h0m0 6.5v2.5m0 4h0m0 4.5h0m0 6.5v2.5M772 134.5v2.5m0 6.5h0m0 6.5v6.5m0 4.5h0m0 10.5v4.5M773 139v2m0 4.5h0m0 8.5h0m0 7v4m0 4.5v6.5m0 4.5v2M774 137h0m0 4h0m0 4.5v2m0 4.5v11m0 6.5v2M775 132.5h0m0 4.5h0m0 4v4.5m0 4.5v2m0 4.5h0m0 6.5h0m0 8.5h0m0 4.5h0m0 4.5h0m0 6.5h0M776 145.5v2m0 4.5h0m0 4.5v8.5m0 4.5v4.5m0 6.5h0M777 145.5h0m0 4.5h0m0 4h0m0 4.5v2.5m0 8.5h0m0 4.5v2m0 4.5h0m0 4.5h0M778 139h0m0 4.5v2m0 6.5h0m0 6.5h0m0 4.5v2m0 9h0m0 4.5v2m0 4.5v2m0 4.5h0M779 137h0m0 4v2.5m0 6.5v2m0 9h0m0 4h0m0 4.5v9m0 6.5h0M780 139v4.5m0 4v2.5m0 4h0m0 4.5v2.5m0 4v6.5M781 132.5v13m0 8.5h0m0 4.5v2.5m0 4h0m0 6.5h0M782 143.5h0m0 6.5v2m0 6.5h0m0 9h0m0 4v13.5M783 139v4.5m0 4v9m0 4.5v2m0 4.5h0m0 4h0m0 4.5h0M784 139h0m0 6.5v2m0 4.5v4.5m0 4.5v2m0 8.5v4.5m0 4.5h0M785 154h0m0 7v19.5M786 139h0m0 4.5v4m0 4.5v9m0 4v2.5M787 152h0m0 9h0m0 4v2.5m0 4v9M788 139v4.5m0 4h0m0 6.5h0m0 4.5v6.5M789 141v2.5m0 6.5v6.5m0 6.5h0m0 4.5v4M790 143.5h0m0 4h0m0 6.5v2.5m0 6.5v2m0 9v2M791 154v7m0 4h0m0 6.5v7M792 126h0m0 6.5v4.5m0 4h0m0 4.5v2m0 4.5h0m0 4.5h0m0 4.5v2m0 4.5h0M793 128h0m0 6.5h0m0 4.5v2m0 11v2m0 9v2m0 4.5v6.5M794 128v2m0 4.5v4.5m0 4.5h0m0 4v2.5m0 6.5h0m0 6.5h0m0 4.5h0m0 6.5v2m0 11h0m0 4.5h0M795 152v2m0 4.5v9m0 4h0m0 7h0m0 4h0m0 6.5v2.5M796 143.5v2m0 8.5v2.5m0 4.5h0m0 13v2m0 4.5v6.5m0 4.5h0M797 145.5h0m0 4.5h0m0 4v7m0 6.5v4m0 9h0m0 4.5h0M798 134.5v6.5m0 6.5h0m0 13.5h0m0 4h0m0 4.5v4.5m0 4.5v2M799 139v4.5m0 4v6.5m0 13.5v4m0 7h0M800 139v8.5m0 4.5h0m0 4.5h0m0 6.5h0m0 4.5h0m0 4h0m0 4.5v2.5M801 141v2.5m0 6.5h0m0 8.5v2.5m0 6.5v2m0 4.5h0m0 4.5h0M802 141v2.5m0 4h0m0 11h0m0 11v15.5M803 132.5v4.5m0 4v6.5m0 4.5h0m0 4.5v2m0 4.5h0M804 143.5h0m0 6.5h0m0 4v11M805 134.5v9m0 6.5h0m0 4v2.5m0 4.5h0m0 4h0m0 4.5h0M806 139h0m0 6.5h0m0 8.5h0m0 9v2m0 4.5v2m0 7v2M807 134.5v4.5m0 8.5v6.5m0 4.5h0m0 9v2m0 4.5h0M808 169.5v9m0 4v4.5m0 4.5h0M809 143.5v6.5m0 4v7m0 8.5h0m0 4.5h0m0 6.5v2M810 150h0m0 4v4.5m0 6.5h0m0 6.5v7m0 4v6.5M811 130h0m0 4.5v6.5m0 4.5h0m0 11h0m0 15h0m0 9v4.5m0 8.5v2.5M812 137h0m0 4h0m0 6.5h0m0 6.5v7m0 4h0M813 119.5v4m0 4.5h0m0 4.5v4.5m0 4v2.5m0 8.5h0m0 4.5h0M814 115v4.5m0 8.5h0m0 11h0m0 6.5v8.5M815 123.5v2.5m0 8.5h0m0 6.5h0m0 4.5h0m0 4.5v6.5M816 123.5v9m0 6.5h0m0 6.5h0m0 4.5v2M817 123.5h0m0 4.5v2m0 4.5v2.5m0 4h0m0 9h0m0 4v2.5M818 123.5v6.5m0 4.5h0m0 4.5h0m0 4.5v8.5M819 112.5h0m0 7h0m0 4h0m0 6.5v2.5m0 4.5v2m0 8.5v9M820 119.5h0m0 6.5v4m0 4.5v2.5m0 8.5v4.5m0 4h0M821 123.5v4.5m0 6.5h0m0 11h0m0 8.5v11M822 123.5v4.5m0 6.5v2.5m0 8.5h0m0 4.5v11M823 132.5v6.5m0 6.5v8.5M824 130v2.5m0 4.5h0m0 4h0m0 4.5h0m0 4.5v2m0 4.5v4.5M825 134.5h0m0 4.5v4.5m0 4h0m0 9h0m0 4.5v6.5M826 132.5h0m0 4.5v10.5m0 4.5h0m0 4.5h0m0 4.5v2M827 132.5h0m0 4.5v2m0 11v2m0 4.5v6.5M828 117v15.5m0 6.5v2M829 119.5h0m0 4v2.5m0 11h0m0 6.5h0m0 4v4.5m0 9h0M830 119.5h0m0 6.5h0m0 6.5h0m0 4.5h0m0 8.5v2m0 4.5v6.5m0 4.5h0M831 121.5h0m0 4.5v4m0 4.5v2.5m0 4h0m0 6.5h0m0 4.5v6.5M832 123.5v6.5m0 7h0m0 4h0m0 6.5h0m0 6.5v2.5M833 112.5h0m0 7v2m0 4.5v2m0 6.5h0m0 4.5v2m0 4.5v2m0 4.5v2m0 4.5h0M834 117h0m0 6.5h0m0 4.5v2m0 4.5h0m0 6.5v6.5M835 117h0m0 4.5v2m0 4.5h0m0 4.5v4.5m0 6.5h0m0 4v4.5M836 115v2m0 4.5h0m0 4.5v6.5m0 11h0m0 4h0m0 9h0M837 115h0m0 4.5h0m0 4v4.5m0 4.5h0m0 4.5v2m0 4.5h0m0 4h0m0 6.5h0m0 7h0M838 128v11m0 4.5h0m0 4h0m0 4.5h0m0 4.5h0m0 4.5h0M839 117h0m0 6.5h0m0 4.5v2m0 4.5v6.5m0 6.5v4.5m0 4.5v2M840 132.5h0m0 4.5v6.5m0 4v2.5m0 4v2.5m0 4.5v4m0 4.5h0M841 130h0m0 4.5v15.5m0 4h0m0 13.5h0M842 128h0m0 9v2m0 8.5h0m0 6.5h0m0 4.5v11M843 126v4m0 4.5v6.5m0 4.5v6.5M844 121.5h0m0 4.5v2m0 4.5v4.5m0 4v2.5m0 4v2.5m0 4h0M845 119.5h0m0 6.5h0m0 4h0m0 4.5v4.5m0 13v4.5m0 4.5h0M846 126h0m0 4h0m0 4.5v2.5m0 4h0m0 9v2m0 4.5v2M847 121.5v4.5m0 4v4.5m0 4.5v2m0 4.5v4.5M848 117v2.5m0 4h0m0 13.5h0m0 6.5v2m0 4.5v4m0 4.5h0M849 115h0m0 6.5h0m0 4.5v2m0 9v2m0 8.5v2.5m0 4v7M850 119.5h0m0 4v2.5m0 4v2.5m0 4.5h0m0 6.5v2m0 6.5v6.5M851 130v2.5m0 4.5v2m0 6.5v6.5m0 4.5h0m0 4.5h0M852 137h0m0 4h0m0 4.5v15.5M853 123.5h0m0 4.5h0m0 4.5h0m0 4.5v2m0 8.5v2.5m0 4v2.5m0 4.5v4M854 128h0m0 4.5h0m0 6.5h0m0 6.5v2m0 4.5h0m0 4.5v2M855 132.5v6.5m0 4.5v6.5m0 8.5h0m0 4.5v2M856 139v2m0 6.5h0m0 4.5v4.5m0 8.5h0m0 4.5v6.5M857 128v4.5m0 4.5h0m0 4v4.5m0 6.5h0m0 4.5v6.5m0 4.5h0M858 117h0m0 4.5v6.5m0 4.5h0m0 4.5h0m0 4h0m0 9h0m0 4v2.5m0 4.5h0M859 128h0m0 4.5v2m0 4.5v2m0 4.5v6.5m0 4.5h0M860 130v4.5m0 4.5v4.5m0 4v2.5m0 4v2.5m0 4.5h0M861 119.5h0m0 4v4.5m0 6.5v2.5m0 4h0m0 4.5v4.5m0 6.5h0M862 134.5v4.5m0 6.5v2m0 6.5v9M863 117v6.5m0 4.5h0m0 4.5v4.5m0 6.5h0m0 4h0M864 121.5h0m0 4.5v2m0 4.5v6.5m0 6.5v2m0 6.5v4.5M865 121.5v2m0 4.5h0m0 6.5h0m0 4.5h0m0 4.5h0m0 4h0m0 9v13M866 121.5v11m0 6.5v2m0 6.5v2.5M867 130h0m0 4.5v4.5m0 4.5v8.5m0 4.5h0m0 4.5h0M868 123.5v6.5m0 4.5v6.5m0 6.5h0m0 4.5h0m0 4.5v2M869 112.5v4.5m0 4.5v4.5m0 4h0m0 7h0m0 6.5v2M870 112.5h0m0 4.5v6.5m0 6.5h0m0 7v2m0 4.5v6.5M871 117v4.5m0 4.5v4m0 9v6.5M872 117h0m0 11h0m0 4.5h0m0 13v15.5M873 130v9m0 4.5h0m0 6.5h0m0 4v2.5m0 6.5v2M874 128v6.5m0 4.5h0m0 6.5h0m0 4.5h0m0 4h0m0 4.5h0m0 4.5h0m0 4.5h0M875 121.5v2m0 4.5v6.5m0 6.5h0m0 4.5h0m0 6.5h0M876 137v4m0 4.5v13m0 4.5h0m0 4.5h0M877 119.5v6.5m0 4v7m0 10.5h0M878 112.5v2.5m0 4.5v8.5m0 4.5v2m0 4.5h0m0 4.5v4M879 112.5h0m0 7h0m0 10.5h0m0 7h0m0 4v13M880 115h0m0 6.5v6.5m0 4.5h0m0 6.5v2m0 4.5h0m0 4.5h0M881 134.5v4.5m0 4.5v2m0 4.5h0m0 4v2.5M882 112.5h0m0 4.5v4.5m0 4.5h0m0 4v9M883 134.5h0m0 6.5v4.5m0 4.5h0m0 4v4.5M884 121.5v15.5m0 4v2.5m0 8.5h0M885 147.5h0m0 4.5h0m0 4.5v6.5M886 123.5v15.5m0 13h0M887 137h0m0 10.5v15.5M888 121.5v2m0 4.5h0m0 6.5v6.5m0 11v4.5M889 128h0m0 4.5v4.5m0 4v11m0 4.5v2M890 112.5v2.5m0 4.5h0m0 4h0m0 4.5h0m0 6.5h0m0 11v2m0 4.5h0m0 9h0m0 4h0M891 130v2.5m0 4.5h0m0 4h0m0 4.5v2m0 4.5v2m0 4.5v2.5M892 121.5v2m0 11h0m0 4.5v4.5m0 4v4.5m0 4.5h0M893 112.5v9m0 4.5h0m0 6.5h0m0 4.5h0m0 4v6.5M894 108.5h0m0 4v2.5m0 4.5v2m0 8.5v2.5m0 6.5v2M895 115h0m0 4.5h0m0 4v4.5m0 4.5h0m0 13v2M896 130h0m0 7h0m0 4v6.5m0 4.5v4.5M897 121.5v4.5m0 4v15.5M898 128v2m0 4.5v2.5m0 4h0m0 4.5v4.5m0 4v2.5m0 4.5h0m0 6.5h0M899 119.5v6.5m0 4v2.5m0 13h0m0 4.5v2m0 4.5h0m0 4.5v2M900 119.5h0m0 4v4.5m0 11v4.5m0 4v4.5m0 4.5h0m0 8.5h0M901 119.5v10.5m0 4.5h0m0 4.5h0m0 4.5v2m0 11v2M902 112.5h0m0 7v6.5m0 4h0m0 15.5v2m0 6.5h0m0 4.5h0M903 126h0m0 4h0m0 7v10.5m0 4.5h0M904 121.5v2m0 4.5v2m0 4.5v2.5m0 4h0m0 4.5h0m0 4.5v2m0 6.5h0m0 4.5h0M905 119.5h0m0 10.5v2.5m0 6.5h0m0 4.5v2m0 6.5v2m0 4.5h0M906 123.5v2.5m0 6.5v2m0 6.5h0m0 6.5h0m0 4.5v9M907 112.5v13.5m0 4v13.5m0 10.5h0M908 121.5h0m0 4.5v6.5m0 8.5h0m0 6.5v6.5m0 4.5h0M909 112.5v2.5m0 4.5v2m0 4.5v6.5m0 6.5h0m0 4.5h0m0 4h0M910 112.5h0m0 9h0m0 6.5v9m0 8.5v8.5M911 121.5h0m0 4.5v4m0 9h0m0 6.5v8.5M912 121.5v6.5m0 6.5h0m0 17.5v9M913 119.5v2m0 4.5v8.5m0 6.5h0m0 6.5v4.5m0 4.5h0M914 123.5h0m0 4.5h0m0 4.5v15M915 123.5v2.5m0 4v4.5m0 6.5v2.5m0 8.5v4.5M916 123.5v9m0 4.5v2m0 4.5h0m0 8.5v2M917 128h0m0 4.5v2m0 6.5h0m0 9v13M918 123.5h0m0 9v8.5m0 6.5h0M919 128h0m0 9h0m0 6.5h0m0 8.5v11m0 6.5h0M920 119.5v4m0 4.5v6.5m0 4.5v8.5m0 6.5h0M921 106h0m0 4.5v2m0 4.5h0m0 4.5v2m0 9h0m0 6.5h0m0 4.5v2M922 117v2.5m0 4v2.5m0 4v9M923 112.5v15.5m0 11h0M924 112.5v4.5m0 6.5h0m0 9h0m0 8.5v11M925 126v2m0 6.5h0m0 6.5v4.5m0 4.5v11M926 121.5h0m0 4.5v17.5m0 4v4.5M927 123.5v9m0 4.5v2m0 4.5v2M928 115v6.5m0 4.5h0m0 6.5h0m0 4.5h0m0 8.5v4.5M929 117h0m0 6.5v4.5m0 4.5h0m0 4.5v13m0 4h0M930 128v2m0 4.5v4.5m0 4.5h0m0 6.5v6.5m0 4.5h0M931 130h0m0 4.5v6.5m0 13h0m0 4.5v2.5m0 4v4.5M932 126v11m0 6.5v2m0 11h0M933 115v17.5m0 6.5v2M934 121.5h0m0 6.5h0m0 6.5h0m0 6.5v11M935 106v17.5m0 4.5h0M936 139v11m0 4v2.5M937 106v4.5m0 4.5v11m0 4h0m0 4.5h0M938 115h0m0 8.5h0m0 4.5h0m0 4.5v15M939 110.5v9m0 4h0m0 9v2M940 110.5h0m0 4.5v11m0 8.5v2.5m0 4v4.5M941 115v2m0 4.5v4.5m0 4h0m0 11h0m0 6.5v6.5M942 123.5v6.5m0 7h0m0 6.5v2m0 4.5v4M943 134.5v6.5m0 4.5v2m0 4.5v2M944 121.5h0m0 4.5h0m0 6.5v6.5m0 4.5v2m0 4.5h0m0 6.5h0m0 4.5h0M945 115v6.5m0 6.5v4.5m0 6.5h0m0 4.5h0M946 119.5h0m0 4h0m0 6.5v9m0 6.5h0M947 115h0m0 6.5h0m0 4.5v2m0 9h0m0 13v6.5M948 117v4.5m0 4.5v6.5m0 6.5v2m0 6.5v2.5M949 112.5v2.5m0 6.5h0m0 11v11m0 4v6.5M950 115v4.5m0 4h0m0 6.5v2.5m0 4.5h0m0 13h0m0 4h0M951 112.5h0m0 4.5v13m0 7h0m0 6.5v2M952 112.5h0m0 7h0m0 4v2.5m0 15v6.5m0 6.5h0M953 115v4.5m0 4v6.5m0 4.5v2.5m0 4h0m0 4.5h0m0 4.5h0M954 108.5v4m0 7v4m0 13.5h0m0 6.5v6.5M955 115v15m0 4.5h0m0 13h0m0 4.5h0M956 117v4.5m0 8.5h0m0 4.5v2.5m0 4v6.5M957 121.5v11m0 6.5h0m0 4.5h0M958 117v2.5m0 4h0m0 4.5h0m0 4.5v2m0 4.5v2m0 6.5h0m0 4.5v2M959 117h0m0 6.5v2.5m0 6.5h0m0 6.5h0m0 4.5v4M960 121.5h0m0 4.5v8.5m0 4.5h0m0 6.5h0M961 132.5h0m0 6.5v13m0 4.5v4.5M962 119.5h0m0 4v13.5M963 123.5h0m0 9v4.5m0 4v6.5m0 4.5v4.5M964 112.5v7m0 4h0m0 4.5h0m0 4.5v6.5m0 6.5v2M965 110.5v2m0 4.5v4.5m0 6.5v4.5m0 4.5v4M966 119.5h0m0 4v2.5m0 4v2.5m0 4.5h0m0 4v9M967 117h0m0 4.5v2m0 4.5h0m0 4.5v6.5m0 4.5v4m0 4.5h0M968 115h0m0 4.5v2m0 6.5h0m0 6.5h0m0 11v8.5M969 123.5v2.5m0 4h0m0 7v13M970 128v2m0 7v2m0 4.5h0m0 4v9M971 119.5h0m0 6.5v4m0 7h0m0 6.5v2M972 115v6.5m0 4.5h0m0 8.5v4.5m0 4.5h0m0 4v2.5M973 104v2m0 9v2m0 6.5v2.5m0 4v9m0 4.5h0M974 110.5h0m0 6.5v4.5m0 4.5v2m0 4.5h0m0 4.5v2m0 4.5v6.5M975 117v6.5m0 4.5v2m0 9h0m0 13v4.5m0 8.5h0M976 119.5h0m0 4v4.5m0 4.5v4.5m0 8.5h0m0 11v2M977 123.5v6.5m0 9v4.5m0 4v2.5m0 4h0M978 145.5v4.5m0 4v4.5M979 112.5h0m0 4.5v9m0 4v4.5m0 4.5v2M980 128h0m0 4.5v15M981 110.5v4.5m0 4.5h0m0 4h0m0 9h0m0 8.5h0m0 6.5h0m0 4.5h0M982 115h0m0 4.5v4m0 4.5h0m0 4.5v4.5m0 4h0m0 9h0M983 112.5v2.5m0 4.5h0m0 4h0m0 4.5v15.5M984 112.5h0m0 13.5v6.5m0 6.5v8.5M985 115v2m0 4.5v2m0 6.5v9m0 6.5h0M986 106h0m0 4.5v6.5m0 4.5v2m0 6.5v7M987 115v19.5m0 4.5h0m0 4.5h0M988 117h0m0 9h0m0 4v13.5m0 6.5v2M989 134.5v4.5m0 6.5v8.5M990 119.5v13m0 6.5h0M991 126v6.5m0 6.5h0m0 4.5v8.5m0 4.5h0M992 132.5h0m0 4.5v10.5m0 4.5h0M993 112.5v4.5m0 4.5h0m0 4.5v2m0 4.5v6.5M994 117v9m0 8.5v4.5m0 4.5v6.5M995 119.5v2m0 11v13m0 4.5h0M996 110.5v11m0 8.5v2.5M997 112.5v7m0 4v6.5m0 4.5v2.5M998 102v10.5m0 4.5h0m0 6.5h0m0 11h0m0 6.5h0M999 115v13m0 9v6.5M1000 121.5h0m0 4.5h0m0 6.5h0m0 6.5h0m0 4.5v8.5M1001 112.5v20m0 4.5h0M1002 123.5h0m0 11h0m0 4.5h0m0 4.5v8.5m0 4.5h0M1003 112.5v2.5m0 4.5v2m0 4.5h0m0 4v2.5m0 6.5h0m0 4.5v4M1004 117v4.5m0 6.5h0m0 11v4.5m0 4v4.5M1005 119.5v6.5m0 6.5v4.5m0 4v2.5m0 8.5h0m0 6.5h0m0 6.5h0M1006 128v6.5m0 4.5v6.5m0 4.5v4m0 9h0M1007 134.5h0m0 9v2m0 6.5v6.5m0 4.5h0m0 6.5h0M1008 115v2m0 4.5v2m0 9v6.5m0 4.5h0m0 4h0M1009 112.5h0m0 7v2m0 4.5v6.5m0 4.5h0m0 4h0m0 4.5v4.5m0 4h0M1010 115h0m0 4.5v2m0 4.5v2m0 6.5h0m0 4.5h0m0 4.5v4m0 11h0M1011 112.5v7m0 4h0m0 4.5v6.5m0 4.5v4.5m0 6.5h0M1012 108.5h0m0 4v2.5m0 4.5h0m0 4h0m0 9h0m0 6.5v11M1013 117h0m0 4.5v2m0 4.5h0m0 4.5v2m0 4.5v8.5M1014 117h0m0 4.5v11m0 4.5v2M1015 137h0m0 4v2.5m0 4v4.5m0 6.5h0M1016 121.5v15.5m0 4h0M1017 126h0m0 4v2.5m0 4.5v15M1018 108.5h0m0 4h0m0 7v24M1019 115v6.5m0 4.5h0m0 6.5v4.5m0 4h0m0 6.5v2.5m0 8.5h0M1020 128h0m0 4.5v2m0 4.5h0m0 4.5v8.5M1021 128h0m0 4.5v6.5m0 4.5h0m0 4v2.5m0 6.5v8.5M1022 130v4.5m0 4.5h0m0 4.5v2m0 4.5h0m0 6.5v4.5m0 4h0M1023 108.5h0m0 6.5h0m0 4.5h0m0 6.5v2m0 4.5v4.5m0 8.5h0m0 6.5h0M1024 112.5v4.5m0 4.5h0m0 4.5v4m0 7h0m0 4v2.5m0 6.5v2M1025 112.5v4.5m0 6.5h0m0 4.5h0m0 4.5h0m0 4.5h0m0 4v2.5m0 4h0m0 9h0M1026 119.5v2m0 4.5h0m0 11v2m0 4.5v10.5M1027 117h0m0 4.5v2m0 9v8.5M1028 110.5v4.5m0 4.5v2m0 11h0m0 4.5v2m0 4.5v4M1029 115v8.5m0 4.5h0m0 4.5v4.5m0 4h0M1030 123.5h0m0 6.5v4.5m0 9v8.5M1031 115h0m0 6.5v4.5m0 4v2.5m0 4.5v8.5M1032 117h0m0 9v13M1033 137h0m0 6.5v10.5m0 4.5h0M1034 132.5v4.5m0 6.5v4m0 4.5v2m0 4.5h0M1035 119.5h0m0 4h0m0 4.5h0m0 15.5v4m0 4.5v9m0 6.5h0M1036 115h0m0 4.5v4m0 4.5v6.5m0 9h0m0 4v6.5M1037 121.5v4.5m0 8.5v9m0 4h0M1038 108.5v4m0 4.5v2.5m0 4h0m0 4.5v2m0 7h0m0 4h0M1039 123.5v6.5m0 4.5v4.5m0 8.5h0M1040 110.5v2m0 4.5v4.5m0 4.5h0m0 4v11M1041 108.5v4m0 4.5v2.5m0 4v6.5M1042 117h0m0 4.5h0m0 4.5v2m0 4.5v11M1043 115v4.5m0 4v4.5m0 11h0m0 4.5v2M1044 115v11m0 4v4.5m0 4.5h0m0 4.5v4M1045 119.5h0m0 8.5v4.5m0 6.5v11M1046 123.5h0m0 6.5v9m0 6.5v6.5M1047 112.5h0m0 4.5h0m0 4.5v2m0 4.5v4.5m0 4.5h0m0 4v6.5M1048 102h0m0 4h0m0 6.5v4.5m0 4.5h0m0 4.5h0m0 4v2.5m0 6.5h0m0 6.5h0m0 6.5h0M1049 115h0m0 6.5v4.5m0 4v4.5m0 4.5v8.5m0 4.5h0M1050 128h0m0 4.5v4.5m0 4v2.5m0 4h0m0 4.5v2M1051 110.5h0m0 4.5v8.5m0 6.5h0m0 9h0m0 4.5v2m0 6.5v2M1052 117h0m0 4.5v8.5m0 4.5h0m0 4.5h0m0 4.5v6.5M1053 110.5v9m0 4v2.5m0 4h0m0 7v2M1054 126v17.5M1055 117v13m0 4.5v2.5m0 4v4.5M1056 106h0m0 4.5h0m0 4.5h0m0 4.5v2m0 6.5v2m0 4.5v6.5m0 6.5v6.5M1057 112.5h0m0 9v6.5m0 4.5h0m0 4.5v2m0 4.5h0M1058 112.5v2.5m0 4.5v4m0 6.5h0m0 4.5v2.5m0 4h0m0 4.5v4.5m0 8.5h0M1059 112.5v7m0 8.5v2m0 4.5v2.5m0 6.5v4m0 4.5v2m0 7h0M1060 121.5h0m0 4.5v2m0 6.5v4.5m0 4.5v6.5M1061 112.5h0m0 4.5h0m0 4.5v4.5m0 6.5h0m0 4.5v2m0 4.5v2m0 6.5h0m0 4.5h0M1062 115v2m0 6.5h0m0 11h0m0 4.5v2m0 4.5v8.5m0 4.5v2.5M1063 123.5v2.5m0 4v7m0 4h0m0 4.5h0M1064 123.5v4.5m0 9v2m0 4.5v2m0 8.5v9M1065 115h0m0 4.5v4m0 4.5h0m0 4.5v4.5m0 6.5h0m0 10.5h0m0 4.5h0m0 4.5h0M1066 123.5v4.5m0 9h0m0 8.5h0m0 4.5v2m0 4.5h0M1067 126v2m0 4.5v4.5m0 6.5h0m0 4v4.5M1068 115v13m0 4.5v4.5m0 8.5h0M1069 115v2m0 11h0m0 6.5v4.5m0 4.5v4m0 4.5v2m0 4.5h0M1070 104h0m0 6.5v2m0 4.5h0m0 4.5v2m0 4.5h0m0 11h0m0 4.5v6.5M1071 115h0m0 4.5h0m0 8.5v2m0 4.5v9M1072 110.5h0m0 4.5v2m0 4.5v2m0 11h0m0 4.5v2m0 6.5v4.5M1073 112.5v2.5m0 4.5v2m0 4.5h0m0 4v4.5m0 4.5v2m0 9v2M1074 117v2.5m0 8.5h0m0 9h0m0 4v9m0 8.5h0M1075 112.5h0m0 4.5h0m0 4.5h0m0 4.5h0m0 4v7m0 13h0m0 4v2.5M1076 126v2m0 6.5v6.5m0 4.5v6.5M1077 128v2m0 7h0m0 6.5v8.5m0 4.5h0M1078 115v2m0 4.5h0m0 4.5h0m0 8.5v6.5m0 4.5v2M1079 115v2m0 6.5v2.5m0 11h0m0 4v4.5m0 4.5v6.5M1080 108.5v2m0 4.5h0m0 4.5v4m0 4.5v13M1081 106h0m0 4.5v4.5m0 8.5v4.5m0 6.5v9M1082 115v2m0 6.5v2.5m0 4v2.5m0 8.5v2.5m0 8.5h0M1083 119.5v13m0 4.5h0m0 4v2.5m0 6.5h0M1084 117v6.5m0 6.5h0m0 11v6.5m0 6.5h0m0 4.5h0M1085 126v2m0 6.5h0m0 6.5h0m0 6.5v6.5M1086 115v6.5m0 6.5v4.5m0 6.5v2m0 11v4.5M1087 108.5v6.5m0 4.5v4m0 6.5h0m0 13.5h0m0 4h0m0 4.5h0M1088 115h0m0 4.5h0m0 4h0m0 4.5v13m0 4.5h0M1089 110.5v2m0 4.5v4.5m0 11h0m0 4.5h0m0 4h0m0 11v4.5M1090 112.5v7m0 8.5h0m0 6.5v2.5m0 4h0m0 6.5v4.5m0 4.5v4.5M1091 112.5v2.5m0 4.5h0m0 6.5h0m0 6.5h0m0 4.5h0m0 6.5h0m0 4v9M1092 115h0m0 4.5v8.5m0 6.5v4.5m0 8.5h0M1093 132.5v6.5m0 6.5v4.5m0 4v4.5M1094 117v4.5m0 6.5v4.5m0 11h0m0 6.5h0m0 4v2.5m0 6.5h0M1095 121.5v4.5m0 6.5v2m0 6.5v4.5m0 4.5v2M1096 119.5v6.5m0 6.5v2m0 6.5v6.5m0 11h0M1097 97.5h0m0 11v4m0 15.5h0m0 4.5v6.5m0 6.5v4.5M1098 108.5h0m0 4h0m0 4.5v2.5m0 4v6.5m0 7v2m0 6.5v2M1099 110.5v2m0 4.5h0m0 6.5v6.5m0 4.5v4.5m0 4.5h0M1100 106v2.5m0 8.5h0m0 4.5h0m0 8.5v2.5m0 8.5v9m0 4h0M1101 110.5v13m0 6.5v7m0 6.5h0M1102 108.5h0m0 4v11m0 4.5h0m0 4.5v2M1103 112.5v7m0 6.5h0m0 4h0m0 4.5v6.5m0 4.5h0M1104 115h0m0 4.5h0m0 4v9m0 6.5h0m0 4.5h0m0 8.5h0m0 9h0M1105 123.5v6.5m0 7v4m0 9v4m0 4.5h0M1106 123.5v15.5m0 4.5v2M1107 119.5h0m0 4v13.5m0 4v4.5m0 4.5v2m0 4.5v2M1108 117h0m0 4.5v4.5m0 4v4.5m0 9v4m0 6.5v4.5M1109 115v2m0 6.5v2.5m0 6.5h0m0 4.5v8.5m0 8.5h0M1110 119.5h0m0 4v22M1111 115v2m0 6.5h0m0 4.5v4.5m0 6.5h0m0 4.5v6.5m0 4h0m0 7h0M1112 110.5v4.5m0 4.5v4m0 9v4.5m0 4h0m0 4.5h0M1113 110.5v4.5m0 4.5h0m0 4h0m0 4.5h0m0 4.5v4.5m0 4v2.5m0 10.5h0M1114 110.5h0m0 11v4.5m0 6.5v11M1115 112.5h0m0 4.5v9m0 4v2.5m0 6.5h0m0 6.5v2M1116 112.5v9m0 11v4.5m0 4h0m0 4.5h0m0 4.5h0M1117 119.5v2m0 11h0m0 6.5h0m0 4.5v4m0 6.5v2.5M1118 110.5v2m0 4.5h0m0 4.5v2m0 6.5h0m0 11h0m0 4.5v11M1119 112.5v2.5m0 4.5v2m0 4.5v2m0 6.5v4.5m0 4.5v2m0 4.5v2m0 4.5h0M1120 117h0m0 4.5v4.5m0 4h0m0 4.5v2.5m0 4v2.5m0 4h0M1121 115v2m0 9h0m0 6.5h0m0 8.5v9M1122 115h0m0 4.5v10.5m0 7v2m0 4.5v2M1123 119.5v6.5m0 4v11m0 4.5h0M1124 119.5h0m0 4h0m0 9v8.5m0 4.5v6.5m0 4.5h0M1125 112.5v7m0 4v2.5m0 4v2.5m0 4.5h0m0 4h0m0 4.5h0m0 4.5v2M1126 123.5h0m0 11h0m0 4.5v4.5m0 4v6.5M1127 117h0m0 6.5v11M1128 119.5h0m0 6.5h0m0 6.5v11m0 4v2.5m0 6.5h0M1129 112.5v11m0 4.5h0m0 9v2m0 6.5v2M1130 130h0m0 4.5h0m0 4.5h0m0 4.5v6.5m0 4h0M1131 117v17.5M1132 132.5v6.5m0 4.5v4m0 4.5v2M1133 112.5h0m0 4.5v11m0 4.5h0m0 4.5h0M1134 117v2.5m0 4v2.5m0 4v13.5M1135 106v6.5m0 7v2m0 13v2.5m0 6.5v2M1136 119.5v2m0 4.5v4m0 4.5h0m0 4.5v2m0 6.5v2.5m0 6.5h0M1137 117v6.5m0 4.5h0m0 4.5v2m0 6.5h0m0 6.5h0m0 4.5v6.5m0 6.5h0M1138 117v4.5m0 6.5v2m0 4.5h0m0 4.5h0m0 4.5v4m0 4.5v4.5M1139 119.5v2m0 4.5h0m0 4h0m0 4.5v4.5m0 4.5h0m0 4h0m0 6.5v4.5M1140 117v2.5m0 8.5v2m0 11h0m0 6.5h0m0 4.5v4.5m0 4.5h0M1141 115v11m0 4h0m0 4.5v2.5m0 6.5v4M1142 126v4m0 4.5h0m0 4.5v11M1143 117h0m0 4.5v6.5m0 4.5v2m0 13v2.5M1144 102h0m0 6.5v2m0 4.5h0m0 6.5h0m0 4.5h0m0 8.5h0m0 6.5v6.5m0 4.5h0M1145 102h0m0 8.5h0m0 15.5v2m0 4.5v17.5M1146 112.5v4.5m0 9h0m0 4v2.5M1147 128v15.5m0 4h0M1148 112.5v15.5m0 6.5h0M1149 130h0m0 4.5v2.5m0 4v13M1150 117v13m0 9v4.5M1151 130v4.5m0 6.5v9M1152 112.5h0m0 4.5v6.5m0 4.5v2m0 9h0m0 4.5h0M1153 112.5h0m0 4.5h0m0 4.5v4.5m0 8.5h0m0 9v10.5M1154 119.5v6.5m0 4v2.5m0 4.5h0m0 4v4.5M1155 115v8.5m0 4.5v4.5m0 6.5v2M1156 112.5v4.5m0 4.5h0m0 6.5v2m0 7h0m0 4v4.5m0 4.5h0M1157 121.5v4.5m0 4h0m0 4.5v2.5m0 6.5v2M1158 110.5h0m0 4.5v6.5m0 4.5v6.5m0 4.5h0M1159 115v6.5m0 4.5v2m0 9h0m0 4v11M1160 121.5h0m0 4.5v2m0 6.5v2.5m0 4v4.5m0 4.5h0m0 4v2.5M1161 117v9m0 4h0m0 13.5h0m0 8.5h0M1162 115v4.5m0 4v6.5m0 13.5h0M1163 126v6.5m0 4.5h0m0 4h0m0 4.5v8.5M1164 119.5v8.5m0 6.5h0m0 6.5v9M1165 117h0m0 9v15M1166 115v13m0 4.5h0m0 8.5h0M1167 128v6.5m0 4.5h0m0 6.5v4.5m0 4h0M1168 110.5v4.5m0 4.5v4m0 4.5v2M1169 132.5v2m0 6.5v13m0 4.5h0M1170 112.5v13.5m0 6.5h0m0 4.5h0m0 6.5h0m0 4h0M1171 117v6.5m0 4.5h0m0 15.5h0m0 4v9m0 4.5h0M1172 121.5v4.5m0 4h0m0 4.5v4.5m0 4.5v4m0 4.5h0M1173 102h0m0 10.5h0m0 4.5v2.5m0 6.5h0m0 6.5h0m0 13h0m0 4.5v4M1174 119.5h0m0 4v6.5m0 9v8.5M1175 110.5v4.5m0 4.5v2m0 6.5v2m0 4.5v2.5m0 6.5v2m0 4.5h0M1176 110.5h0m0 4.5v4.5m0 8.5h0m0 11v6.5m0 4.5v2M1177 110.5v4.5m0 6.5h0m0 4.5h0m0 6.5v2m0 9v6.5M1178 123.5v2.5m0 4v4.5m0 4.5h0m0 6.5v6.5M1179 115h0m0 4.5v2m0 4.5h0m0 4v2.5m0 4.5v2m0 6.5v2m0 4.5h0M1180 117v15.5m0 6.5h0m0 4.5h0M1181 121.5v2m0 4.5v2m0 4.5v9M1182 123.5v2.5m0 4h0m0 4.5v13M1183 110.5v6.5m0 6.5v2.5m0 6.5h0m0 6.5h0m0 4.5h0m0 4h0M1184 117v2.5m0 4v2.5m0 6.5h0m0 8.5v2.5m0 4v4.5m0 4.5h0M1185 121.5v8.5m0 4.5v2.5M1186 110.5v6.5m0 4.5h0m0 13h0m0 4.5v6.5M1187 117v6.5m0 4.5v2m0 4.5v9M1188 110.5v2m0 4.5v11m0 4.5h0m0 4.5h0M1189 130v7m0 4v4.5M1190 119.5v4m0 4.5v2m0 7v2m0 4.5h0m0 6.5h0m0 4v4.5M1191 117v4.5m0 6.5v2m0 4.5v4.5m0 4.5v4M1192 115v4.5m0 4v17.5M1193 117v2.5m0 4v4.5m0 6.5h0m0 6.5v4.5m0 4.5v2M1194 128v9m0 4v2.5m0 4v2.5m0 4v2.5M1195 123.5v4.5m0 4.5h0m0 4.5h0m0 4v2.5m0 4h0m0 4.5h0M1196 112.5v13.5m0 4h0m0 4.5v4.5M1197 110.5v2m0 4.5h0m0 4.5h0m0 4.5h0m0 8.5h0m0 6.5v9m0 4h0M1198 115h0m0 4.5h0m0 4v2.5m0 4v9m0 4.5h0M1199 106h0m0 6.5v2.5m0 6.5v2m0 9h0m0 4.5v6.5m0 4h0M1200 110.5v13m0 4.5v2m0 7v2M1201 112.5v2.5m0 4.5h0m0 4v2.5m0 4v2.5m0 6.5v4.5m0 4v2.5M1202 110.5v4.5m0 4.5h0m0 4v4.5m0 4.5v8.5m0 4.5h0M1203 108.5h0m0 4v9m0 6.5h0m0 13h0M1204 112.5h0m0 7v2m0 13v6.5m0 9h0M1205 112.5v2.5m0 4.5v4m0 4.5h0m0 6.5v2.5m0 4h0m0 4.5h0m0 6.5h0M1206 102v6.5m0 13v4.5m0 11v4M1207 106v2.5m0 4v4.5m0 9v15M1208 102h0m0 4h0m0 4.5v2m0 4.5v4.5m0 8.5v2.5m0 6.5v2m0 4.5v2M1209 112.5v15.5m0 6.5h0m0 6.5v2.5m0 4h0M1210 117h0m0 4.5v2m0 4.5v11m0 6.5h0M1211 108.5h0m0 4v4.5m0 4.5v2m0 11v6.5m0 6.5h0m0 4.5h0M1212 115v2m0 4.5v2m0 4.5h0m0 4.5v8.5m0 4.5v2M1213 119.5v4m0 9v11m0 4h0M1214 119.5v6.5m0 4v2.5m0 4.5h0m0 6.5v2M1215 117v11m0 4.5h0m0 4.5v2m0 4.5h0M1216 115v2m0 4.5v2m0 6.5v4.5m0 6.5v11m0 4.5h0M1217 108.5v11m0 6.5v11M1218 108.5h0m0 4v2.5m0 4.5h0m0 4h0m0 6.5v11M1219 115v11m0 4v2.5m0 4.5h0M1220 117h0m0 4.5v4.5m0 6.5h0m0 6.5v8.5m0 4.5v2M1221 115h0m0 6.5h0m0 4.5v2m0 6.5v9m0 4h0M1222 134.5v11M1223 110.5h0m0 4.5v2m0 4.5v11m0 6.5h0M1224 121.5v17.5m0 4.5v2M1225 108.5v15m0 4.5h0m0 4.5v2M1226 110.5v13m0 4.5v4.5M1227 108.5h0m0 6.5h0m0 6.5h0m0 4.5h0m0 4v2.5m0 4.5v6.5M1228 110.5v22M1229 115h0m0 4.5v2m0 6.5v13M1230 110.5h0m0 4.5v2m0 11v19.5M1231 117v4.5m0 4.5v15m0 6.5h0M1232 110.5v2m0 4.5v4.5m0 4.5h0m0 4v4.5m0 6.5h0m0 4.5h0m0 4.5h0M1233 121.5h0m0 4.5v8.5m0 6.5v2.5M1234 128h0m0 6.5v11M1235 110.5v6.5m0 4.5v2m0 11h0m0 6.5v9M1236 106h0m0 4.5v2m0 4.5h0m0 4.5h0m0 4.5v2m0 4.5h0m0 4.5h0M1237 106v4.5m0 4.5h0m0 11v6.5m0 4.5v2M1238 104h0m0 4.5v2m0 4.5v4.5m0 6.5h0m0 4v2.5m0 6.5h0M1239 106h0m0 6.5v9m0 13v11M1240 112.5h0m0 4.5v4.5m0 4.5h0m0 4v2.5m0 4.5v6.5M1241 106v13.5m0 10.5v4.5M1242 106h0m0 4.5v2m0 9h0m0 4.5v2m0 4.5v6.5M1243 112.5h0m0 7h0m0 4h0m0 11h0m0 4.5v13M1244 112.5v4.5m0 4.5h0m0 4.5h0m0 4v4.5m0 4.5h0m0 4.5h0M1245 115h0m0 4.5v2m0 4.5v13m0 4.5h0m0 4h0M1246 117v11m0 6.5v6.5m0 6.5h0M1247 115v11m0 6.5h0M1248 115v2m0 4.5h0m0 4.5h0m0 4h0m0 7v4m0 4.5h0m0 4.5v4M1249 112.5h0m0 4.5h0m0 4.5h0m0 4.5v2m0 4.5v11M1250 110.5v6.5m0 6.5v2.5m0 4v2.5m0 4.5h0m0 6.5h0M1251 104h0m0 4.5v8.5m0 4.5v2m0 4.5v4.5m0 4.5h0M1252 97.5h0m0 6.5v8.5m0 7h0m0 4h0m0 4.5h0m0 6.5h0M1253 104v8.5m0 9v2m0 4.5v2m0 4.5h0M1254 115h0m0 4.5h0m0 4v6.5m0 4.5h0m0 4.5v4.5M1255 110.5v4.5m0 11h0m0 6.5v6.5M1256 115v4.5m0 4v2.5m0 4v2.5m0 4.5h0m0 4h0M1257 108.5v2m0 4.5h0m0 4.5v4m0 4.5v13M1258 115v2m0 4.5h0m0 4.5h0m0 6.5h0m0 4.5v10.5M1259 110.5v9m0 4v2.5m0 4h0m0 4.5v2.5m0 8.5h0M1260 115v6.5m0 4.5h0m0 6.5v6.5m0 4.5v2M1261 104v6.5m0 4.5h0m0 4.5v2m0 4.5h0m0 4h0M1262 119.5v2m0 8.5v9M1263 115v13m0 11h0M1264 132.5h0m0 6.5v6.5M1265 110.5v11m0 8.5v7m0 4h0M1266 104h0m0 4.5h0m0 4h0m0 4.5v2.5m0 8.5h0m0 4.5h0m0 4.5h0m0 4h0M1267 99.5h0m0 4.5v2m0 4.5h0m0 11v4.5m0 4h0m0 4.5v4.5M1268 102h0m0 8.5h0m0 4.5h0m0 4.5v4m0 6.5v2.5m0 4.5v2M1269 106v9m0 13v9M1270 99.5v6.5m0 6.5v4.5m0 6.5v4.5m0 4.5h0M1271 115v17.5M1272 104h0m0 8.5v7m0 8.5v6.5M1273 110.5v4.5m0 6.5v2m0 6.5h0m0 4.5v2.5m0 4v4.5M1274 110.5h0m0 4.5h0m0 6.5v11m0 4.5h0m0 6.5h0M1275 112.5h0m0 4.5v2.5m0 8.5v2m0 9h0m0 4.5v4M1276 108.5v4m0 7h0m0 4v4.5m0 4.5h0m0 4.5v8.5M1277 108.5v6.5m0 11h0m0 4h0m0 4.5h0m0 4.5v6.5M1278 104v19.5m0 4.5v2m0 4.5h0M1279 112.5v4.5m0 4.5v2m0 6.5v9M1280 104h0m0 4.5v8.5m0 6.5h0m0 6.5h0M1281 104h0m0 6.5h0m0 9v6.5m0 4v7M1282 110.5v11m0 4.5h0m0 8.5v2.5M1283 117h0m0 4.5v4.5m0 4v2.5m0 4.5v4M1284 115v8.5m0 4.5v2M1285 108.5h0m0 4h0m0 4.5h0m0 9h0m0 4v7m0 4v2.5M1286 119.5v8.5m0 4.5v6.5m0 4.5h0M1287 108.5v2m0 4.5v4.5m0 6.5v2m0 9h0m0 4h0M1288 110.5h0m0 9v8.5m0 6.5v11M1289 121.5v4.5m0 6.5v2m0 4.5v6.5m0 4.5v2m0 4.5h0M1290 119.5v2m0 6.5v2m0 4.5h0m0 4.5v2m0 4.5v4.5M1291 112.5v11m0 4.5h0m0 6.5v2.5m0 6.5v2M1292 104h0m0 6.5h0m0 4.5h0m0 4.5h0m0 10.5h0m0 4.5v2.5m0 4h0m0 6.5h0M1293 112.5h0m0 4.5v2.5m0 6.5h0m0 6.5h0m0 4.5h0m0 4v2.5m0 8.5h0M1294 110.5h0m0 4.5v6.5m0 6.5v2m0 4.5v11M1295 119.5h0m0 4v2.5m0 4v2.5m0 8.5v4.5m0 4.5h0M1296 115v4.5m0 4v2.5m0 8.5h0m0 6.5v4.5M1297 110.5h0m0 4.5v6.5m0 4.5v2m0 4.5v2m0 6.5h0M1298 126v2m0 6.5v9m0 4h0M1299 110.5h0m0 4.5v6.5m0 4.5v2m0 4.5h0m0 4.5h0M1300 119.5v19.5M1301 108.5v11m0 6.5h0m0 4v2.5M1302 106v6.5m0 7h0m0 6.5v2m0 4.5v4.5M1303 110.5h0m0 4.5v2m0 11h0m0 4.5h0m0 6.5h0m0 8.5v2.5" stroke="#000" stroke-width="3.58" stroke-linecap="round" fill="none"/>
<path d="M162 321.5V35.5M358 321.5V35.5M811 321.5V35.5M1057 321.5V35.5M1303 321.5V35.5" stroke="#800080" stroke-width="2.083" stroke-dasharray="2.083 3.4375" fill="none"/>
</g>
<text x="260.1" y="311.78" font-size="13.889" text-anchor="middle">20483</text>
<text x="584.6" y="291.76" font-size="13.889" text-anchor="middle">25218</text>
<text x="934.1" y="271.74" font-size="13.889" text-anchor="middle">25219</text>
<text x="1179.21" y="311.78" font-size="13.889" text-anchor="middle">27567</text>
<rect x="105.5" y="35.5" width="1380.0" height="286.0" fill="none" stroke="#000" stroke-width="1.111"/>
<path d="M162.5 321.5V326.86" stroke="#000" stroke-width="1.111"/>
<text x="163.3" y="341.78" font-size="13.889" text-anchor="middle">0</text>
<path d="M468.5 321.5V326.86" stroke="#000" stroke-width="1.111"/>
<text x="468.35" y="341.78" font-size="13.889" text-anchor="middle">5000</text>
<path d="M775.5 321.5V326.86" stroke="#000" stroke-width="1.111"/>
<text x="774.6" y="341.78" font-size="13.889" text-anchor="middle">10000</text>
<path d="M1081.5 321.5V326.86" stroke="#000" stroke-width="1.111"/>
<text x="1080.85" y="341.78" font-size="13.889" text-anchor="middle">15000</text>
<path d="M1387.5 321.5V326.86" stroke="#000" stroke-width="1.111"/>
<text x="1387.1" y="341.78" font-size="13.889" text-anchor="middle">20000</text>
<path d="M100.14 299.5H105.5" stroke="#000" stroke-width="1.111"/>
<text x="95.2" y="304.2" font-size="13.889" text-anchor="end">6.88</text>
<path d="M100.14 261.5H105.5" stroke="#000" stroke-width="1.111"/>
<text x="95.2" y="266.2" font-size="13.889" text-anchor="end">6.90</text>
<path d="M100.14 223.5H105.5" stroke="#000" stroke-width="1.111"/>
<text x="95.2" y="228.2" font-size="13.889" text-anchor="end">6.92</text>
<path d="M100.14 185.5H105.5" stroke="#000" stroke-width="1.111"/>
<text x="95.2" y="190.2" font-size="13.889" text-anchor="end">6.94</text>
<path d="M100.14 147.5H105.5" stroke="#000" stroke-width="1.111"/>
<text x="95.2" y="152.2" font-size="13.889" text-anchor="end">6.96</text>
<path d="M100.14 109.5H105.5" stroke="#000" stroke-width="1.111"/>
<text x="95.2" y="114.2" font-size="13.889" text-anchor="end">6.98</text>
<path d="M100.14 71.5H105.5" stroke="#000" stroke-width="1.111"/>
<text x="95.2" y="76.2" font-size="13.889" text-anchor="end">7.00</text>
<text x="795.05" y="26.9" font-size="16.667" text-anchor="middle">AGASC ID 337257392.0</text>
<rect x="1348.4" y="268.9" width="130.2" height="45.4" rx="2.78" ry="2.78" fill="#fff" fill-opacity="0.8" stroke="#ccc" stroke-opacity="0.8" stroke-width="1.389"/>
<circle cx="1367.5" cy="281.5" r="1.79" fill="#ffa500"/>
<circle cx="1367.5" cy="302.4" r="1.79" fill="#000"/>
<text x="1392.8" y="284.7" font-size="13.889" text-anchor="start">Highlighted</text>
<text x="1392.43" y="305.9" font-size="13.889" text-anchor="start">OK</text>
<rect x="1361.6" y="42.5" width="117" height="26.7" rx="2.78" ry="2.78" fill="#fff" fill-opacity="0.8" stroke="#ccc" stroke-opacity="0.8" stroke-width="1.389"/>
<path d="M1366.94 53.9H1394.96" stroke="#008000" stroke-width="2.083" stroke-linecap="square"/>
<text x="1407" y="59.44" font-size="13.889">mag<tspan dy="2.0" font-size="9.722" font-style="oblique">AGASC</tspan></text>
<g clip-path="url(#c1)">
<path d="M205.5 618.37h0M229 510.92h0M268.5 598.83h0M335.5 509.7h0M375.5 603.72h0M434 660.5h0M461.5 487.72h0M480.5 486.5h0M491.5 486.5h0M518 573.8h0M564.5 487.11h0M683 579.3h0M700.5 486.5h0M709 573.8h0M733 479.17h0M734.5 484.05h0M746 590.9h0M811 575.02h0M839 551.21h0M867 551.21h0M901.5 623.87h0M907 460.85h0M977.5 614.1h0M981 452.31h0M981 462.08h0M1023.5 462.08h0M1093.5 568.31h0M1187.5 659.89h0M1300.5 457.19h0" stroke="#ffa500" stroke-width="3.58" stroke-linecap="round" fill="none"/>
<path d="M162 553h0m0 3h0m0 8h0m0 10.5h0M163 532h0m0 5h0m0 3v5m0 3v2.5m0 8h0M164 537h0m0 8h0m0 5.5v2.5m0 3h0m0 5h0m0 5.5h0m0 5.5v5M165 532v2.5m0 5.5h0m0 8h0m0 13h0m0 5.5h0m0 10.5h0m0 3h0m0 5h0m0 3h0M166 540v5m0 5.5v2.5m0 3v2.5m0 5.5h0m0 8v5m0 5.5v2.5m0 3h0M167 540v5m0 3v2.5m0 5.5v2.5m0 5.5v2.5m0 8v2.5m0 5.5v2.5m0 5.5h0M168 537h0m0 3h0m0 8h0m0 5h0m0 5.5h0m0 8h0m0 5.5v5m0 3v2.5M169 524v5m0 8h0m0 3h0m0 5h0m0 5.5v2.5m0 3v2.5m0 5.5v2.5M170 529h0m0 8h0m0 3v5m0 5.5v2.5m0 5.5h0m0 8v2.5m0 5.5h0m0 5.5h0M171 532v5m0 5.5v2.5m0 8h0m0 5.5h0m0 5.5v5m0 3v2.5M172 534.5v2.5m0 3v5m0 3v2.5m0 16h0M173 540v2.5m0 5.5v5m0 5.5v2.5m0 3v2.5m0 5.5v2.5M174 529h0m0 3v2.5m0 5.5v2.5m0 5.5h0m0 5h0m0 5.5v2.5m0 5.5v2.5m0 3v5M175 532v5m0 3v5m0 3v5m0 11v2.5M176 521h0m0 5.5v2.5m0 3h0m0 5h0m0 11v5m0 11v5m0 8h0M177 524h0m0 10.5v2.5m0 8h0m0 3h0m0 5h0m0 3h0m0 5h0m0 5.5h0M178 529h0m0 3v5m0 5.5v2.5m0 3v5m0 3h0m0 5h0m0 5.5h0M179 558.5v2.5m0 3h0m0 5h0m0 3v5m0 3h0m0 10.5h0M180 553h0m0 5.5v2.5m0 3h0m0 8h0m0 8h0m0 8h0m0 5h0m0 8h0M181 542.5h0m0 5.5h0m0 5h0m0 3v2.5m0 5.5v2.5m0 13.5v2.5m0 5.5h0m0 5h0M182 542.5v2.5m0 3v5m0 5.5h0m0 10.5h0m0 3v2.5m0 5.5h0M183 542.5v2.5m0 5.5v2.5m0 3v2.5m0 8v2.5m0 3h0m0 5h0M184 548v5m0 3v2.5m0 5.5v2.5m0 5.5v5m0 3h0M185 534.5v2.5m0 3h0m0 5h0m0 3v5m0 11h0m0 8h0m0 5h0m0 5.5v2.5m0 3h0M186 532h0m0 5h0m0 5.5h0m0 5.5h0m0 5h0m0 8h0m0 3v2.5m0 5.5v2.5M187 532h0m0 5h0m0 8h0m0 3h0m0 5h0m0 3v5m0 3v5m0 3h0M188 532v5m0 3v5m0 5.5v2.5m0 5.5h0m0 5.5h0m0 5h0m0 3h0M189 534.5v2.5m0 3v2.5m0 5.5v2.5m0 5.5h0m0 5h0m0 3v5m0 3h0m0 5h0M190 534.5v2.5m0 5.5h0m0 5.5h0m0 5h0m0 3h0m0 16v2.5M191 526.5h0m0 8v2.5m0 3h0m0 5h0m0 3h0m0 8h0m0 5h0m0 3v5M192 540v2.5m0 8h0m0 5.5v2.5m0 5.5h0m0 5h0M193 542.5h0m0 10.5h0m0 5.5v2.5m0 5.5v2.5m0 3h0M194 540h0m0 5h0m0 3v2.5m0 5.5v2.5m0 5.5v5m0 5.5v2.5M195 540v5m0 3v5m0 3v2.5m0 13.5h0m0 5h0m0 3h0M196 534.5h0m0 5.5h0m0 5h0m0 8h0m0 11v5m0 5.5v2.5m0 3v2.5M197 537h0m0 5.5v2.5m0 3h0m0 8h0m0 8h0m0 5h0m0 5.5v2.5m0 3v2.5M198 540v5m0 5.5v2.5m0 11h0m0 5h0m0 8h0m0 5.5h0M199 550.5v2.5m0 5.5v2.5m0 3v5m0 5.5v2.5M200 540h0m0 10.5h0m0 5.5v2.5m0 5.5v2.5m0 5.5v5m0 3h0M201 532v5m0 3v2.5m0 13.5h0m0 5h0m0 3v5m0 3v5M202 534.5h0m0 8v2.5m0 3v2.5m0 8v2.5m0 3h0m0 5h0m0 3v2.5M203 524h0m0 5h0m0 5.5v2.5m0 5.5h0m0 8h0m0 13.5h0m0 5h0m0 3h0m0 5h0M204 532h0m0 10.5v2.5m0 8h0m0 5.5v2.5m0 3v2.5m0 8v2.5m0 3h0M205 537h0m0 3v5m0 8h0m0 3v2.5m0 5.5v2.5m0 5.5h0M206 524v5m0 3v5m0 5.5h0m0 8v2.5m0 5.5h0m0 5.5v2.5m0 8h0M207 532v5m0 3v5m0 5.5h0m0 8v2.5m0 13.5h0M208 534.5h0m0 5.5v2.5m0 5.5v2.5m0 8v2.5m0 5.5v2.5m0 3h0M209 532h0m0 5h0m0 3v2.5m0 21.5v5m0 3v2.5M210 534.5v2.5m0 3h0m0 5h0m0 3v2.5m0 5.5v2.5m0 5.5v5m0 3h0m0 5h0M211 524h0m0 8v2.5m0 5.5v5m0 8h0m0 3h0m0 5h0m0 3v2.5m0 8h0M212 534.5v2.5m0 3h0m0 5h0m0 3h0m0 5h0m0 8h0m0 3v5M213 537h0m0 3v5m0 3v2.5m0 8v2.5m0 8h0m0 5.5h0M214 545h0m0 3h0m0 5h0m0 5.5v2.5m0 3v5m0 3v2.5M215 537h0m0 3h0m0 5h0m0 3v2.5m0 5.5h0m0 5h0m0 3h0m0 5h0m0 5.5h0M216 524h0m0 5h0m0 3v5m0 3v5m0 3v2.5m0 10.5h0m0 3h0m0 5h0M217 534.5h0m0 5.5v5m0 3v5m0 5.5h0m0 5.5v2.5M218 532v5m0 3v2.5m0 5.5v2.5m0 8h0m0 8h0M219 545h0m0 3v2.5m0 5.5v5m0 3v2.5m0 5.5v5M220 529h0m0 3v5m0 5.5h0m0 5.5v2.5M221 521h0m0 13.5v2.5m0 11h0m0 10.5v2.5m0 3v2.5M222 521h0m0 11v2.5m0 8v2.5m0 8h0m0 3v5m0 3h0M223 534.5h0m0 5.5v5m0 3h0m0 16h0m0 8v5m0 5.5h0M224 526.5h0m0 10.5h0m0 3h0m0 8h0m0 5h0m0 3v2.5m0 5.5h0M225 537h0m0 3v2.5m0 5.5h0m0 5h0m0 8h0m0 5.5v2.5m0 3v2.5m0 5.5h0M226 532v2.5m0 5.5h0m0 5h0m0 3v2.5m0 8v2.5m0 3v5M227 534.5v2.5m0 3v5m0 3v2.5m0 8h0m0 13.5v5m0 3v2.5M228 529h0m0 3v5m0 3v2.5m0 10.5h0m0 8h0m0 5.5h0m0 5.5h0m0 5h0m0 3h0M229 532h0m0 8v2.5m0 5.5v2.5m0 5.5v5m0 3v2.5m0 5.5h0M230 532h0m0 5h0m0 5.5h0m0 13.5v5m0 3v2.5m0 8h0M231 513h0m0 3h0m0 5h0m0 3v5m0 5.5v2.5m0 3v5m0 5.5v2.5m0 3h0m0 8h0M232 524h0m0 8h0m0 13h0m0 8h0m0 5.5v2.5m0 3v5M233 521h0m0 3v2.5m0 5.5h0m0 18.5v2.5m0 3h0m0 5h0m0 5.5v2.5m0 3v2.5M234 532v2.5m0 5.5h0m0 5h0m0 3v2.5m0 5.5h0m0 5h0M235 532h0m0 5h0m0 3v2.5m0 13.5v2.5m0 8v2.5m0 3v2.5M236 532h0m0 5h0m0 8h0m0 3h0m0 5h0m0 8h0m0 3v5m0 3v5M237 529h0m0 3v5m0 3h0m0 10.5v2.5m0 3h0M238 542.5v2.5m0 5.5v2.5m0 11v5m0 3h0m0 10.5h0M239 526.5v2.5m0 3v2.5m0 10.5h0m0 5.5v2.5m0 3v5M240 537h0m0 3v5m0 13.5v2.5m0 3v5m0 3h0M241 526.5v2.5m0 3h0m0 5h0m0 5.5h0m0 5.5h0m0 8h0m0 8v5M242 526.5h0m0 5.5v5m0 5.5v2.5m0 11v5m0 13.5h0M243 526.5v2.5m0 3h0m0 10.5v2.5m0 5.5h0m0 8v2.5m0 3v5m0 5.5h0M244 532v2.5m0 5.5h0m0 5h0m0 3v2.5m0 10.5h0m0 3h0m0 8v5m0 5.5v2.5M245 529h0m0 3v2.5m0 8h0m0 8v2.5m0 8h0m0 3h0m0 8v2.5m0 5.5h0M246 534.5h0m0 5.5v2.5m0 8v2.5m0 8h0m0 3v2.5m0 5.5h0m0 5h0m0 3h0M247 532v5m0 3v5m0 3v2.5m0 8h0m0 8v2.5M248 526.5v2.5m0 5.5v2.5m0 3v5m0 8h0m0 3v5M249 537h0m0 5.5h0m0 8v2.5m0 3v5m0 3v5M250 518.5v2.5m0 3v5m0 3h0m0 8v5m0 3v5m0 3h0M251 521h0m0 3v2.5m0 5.5h0m0 8h0m0 8h0m0 5h0m0 3v5m0 3h0M252 518.5v2.5m0 3v5m0 3h0m0 5h0m0 11h0m0 5h0m0 8h0m0 3h0M253 534.5h0m0 5.5h0m0 5h0m0 3v5m0 5.5h0m0 10.5h0m0 3v2.5m0 5.5h0M254 540v2.5m0 5.5v5m0 3h0m0 16h0m0 5h0M255 540v2.5m0 5.5h0m0 5h0m0 3h0m0 8h0m0 5h0m0 3v2.5M256 540h0m0 5h0m0 3h0m0 5h0m0 3v5m0 5.5v2.5m0 3h0M257 537h0m0 5.5v2.5m0 3h0m0 5h0m0 3h0m0 5h0m0 3v2.5M258 526.5h0m0 5.5h0m0 5h0m0 11v2.5m0 5.5v2.5m0 5.5v5m0 3v2.5M259 534.5h0m0 8v2.5m0 3h0m0 5h0m0 5.5v2.5m0 5.5v2.5m0 3h0M260 526.5h0m0 5.5v5m0 3h0m0 5h0m0 3h0m0 5h0m0 5.5h0m0 8v2.5M261 534.5v2.5m0 3v5m0 3v2.5m0 5.5v5M262 529h0m0 3v2.5m0 5.5v2.5m0 8h0m0 8h0m0 5.5v2.5m0 5.5v5m0 5.5h0M263 540v2.5m0 5.5v2.5m0 5.5v2.5m0 10.5h0m0 3h0m0 5h0m0 3v2.5M264 537h0m0 3v2.5m0 5.5h0m0 8h0m0 5h0m0 3v5M265 532h0m0 5h0m0 3v5m0 3v5m0 3v5m0 5.5h0m0 5.5h0M266 532h0m0 5h0m0 3v2.5m0 5.5h0m0 8h0m0 5h0m0 5.5v2.5M267 524v5m0 3h0m0 8h0m0 5h0m0 3h0m0 5h0m0 3v5m0 3h0m0 5h0M268 529h0m0 3v2.5m0 5.5v5m0 8h0m0 5.5h0m0 10.5h0m0 3v5m0 5.5h0M269 524h0m0 5h0m0 3h0m0 8v2.5m0 8h0m0 5.5v5m0 3h0m0 5h0M270 526.5v2.5m0 8h0m0 3v2.5m0 5.5h0m0 5h0m0 3v2.5m0 5.5h0M271 526.5h0m0 10.5h0m0 3h0m0 5h0m0 3v5m0 3h0m0 5h0m0 3v2.5m0 5.5h0M272 532v2.5m0 5.5v5m0 5.5h0m0 10.5h0m0 5.5h0m0 5.5v5M273 532v5m0 3v5m0 3h0m0 16v5m0 3h0m0 8h0M274 540v2.5m0 10.5h0m0 5.5h0m0 5.5v5m0 3v5m0 3h0M275 537h0m0 3v5m0 3v5m0 3h0m0 5h0m0 11h0M276 542.5h0m0 8v2.5m0 3v5m0 5.5h0m0 5.5v2.5M277 532v5m0 3v5m0 5.5v2.5m0 3v5m0 3h0M278 524v2.5m0 5.5v2.5m0 5.5h0m0 5h0m0 3h0m0 5h0m0 11v2.5m0 16h0M279 526.5h0m0 5.5v5m0 3v2.5m0 10.5h0m0 5.5v2.5m0 8h0M280 548v5m0 3v2.5m0 5.5v5m0 3v5M281 529h0m0 3v5m0 3v5m0 8h0m0 3v2.5m0 5.5h0M282 542.5v2.5m0 5.5v2.5m0 3v5m0 3v2.5M283 524h0m0 8h0m0 5h0m0 11v5m0 3v5m0 5.5h0m0 5.5v2.5M284 526.5h0m0 8v2.5m0 11h0m0 5h0m0 5.5v2.5m0 5.5v2.5m0 3h0M285 534.5v2.5m0 3v5m0 3v5m0 3v2.5m0 8h0M286 524h0m0 5h0m0 3v2.5m0 5.5v2.5m0 10.5h0m0 3h0m0 5h0m0 3v5M287 540v5m0 3h0m0 10.5h0m0 8v2.5m0 5.5v2.5m0 5.5h0M288 553h0m0 3v2.5m0 5.5v5m0 3h0M289 540v5m0 3v5m0 11h0m0 8h0M290 529h0m0 3v5m0 8h0m0 3h0m0 10.5v2.5m0 3h0m0 5h0M291 529h0m0 3v5m0 3v2.5m0 5.5v2.5m0 8h0m0 8h0m0 5.5h0M292 534.5v2.5m0 5.5v2.5m0 8h0m0 11v5m0 3v2.5M293 529h0m0 3h0m0 5h0m0 3h0m0 8h0m0 8v5m0 3v5m0 3v2.5M294 524v5m0 3v5m0 3h0m0 5h0m0 5.5v2.5m0 8h0m0 5.5h0M295 534.5v2.5m0 8h0m0 3v5m0 3v5m0 3v2.5m0 5.5v2.5M296 532h0m0 5h0m0 3v5m0 5.5v2.5m0 8h0m0 5.5v2.5m0 3v2.5M297 550.5v2.5m0 3v5m0 3v5m0 3v2.5M298 537h0m0 3h0m0 5h0m0 3v5m0 3v2.5m0 5.5h0M299 537h0m0 5.5v2.5m0 3h0m0 8v5m0 3v2.5m0 8v2.5m0 3v2.5M300 534.5h0m0 5.5v5m0 3v2.5m0 5.5v5m0 3v2.5m0 5.5v2.5M301 526.5h0m0 8h0m0 5.5h0m0 8v2.5m0 8h0m0 13.5h0m0 5h0m0 3v2.5M302 534.5h0m0 5.5v5m0 3v2.5m0 8v2.5m0 3h0m0 10.5h0M303 532h0m0 5h0m0 3v2.5m0 8h0m0 8v2.5m0 3v5m0 3h0M304 532h0m0 5h0m0 8h0m0 8h0m0 3h0m0 5h0m0 5.5h0m0 5.5v5m0 3v2.5M305 537h0m0 3v5m0 5.5v2.5m0 3v5m0 3v5m0 3h0M306 532v5m0 3v5m0 3v2.5m0 8h0m0 5.5h0m0 5h0m0 3v2.5M307 532v2.5m0 5.5v5m0 8h0m0 8h0m0 3h0m0 8v2.5m0 8h0M308 526.5h0m0 10.5h0m0 5.5h0m0 16h0m0 5.5v5m0 3v5M309 526.5h0m0 5.5v5m0 3v5m0 3v5M310 540h0m0 5h0m0 5.5v2.5m0 3h0m0 5h0m0 3v5m0 3h0m0 8h0M311 532v2.5m0 5.5v2.5m0 13.5h0m0 5h0m0 3v5m0 3h0m0 5h0M312 532h0m0 5h0m0 3v2.5m0 5.5h0m0 8v5m0 5.5v2.5M313 540v5m0 5.5h0m0 5.5v5m0 3h0m0 13h0M314 537h0m0 5.5v2.5m0 5.5v2.5m0 5.5v2.5m0 3h0m0 5h0m0 3v2.5M315 545h0m0 5.5v2.5m0 5.5v2.5m0 3h0m0 5h0m0 3v2.5M316 532h0m0 8v5m0 8h0m0 5.5v2.5m0 5.5v2.5m0 5.5h0M317 542.5v2.5m0 3v5m0 8h0m0 3v5m0 3v5M318 542.5h0m0 5.5h0m0 5h0m0 3h0m0 8h0m0 8h0m0 8v5m0 8h0M319 540h0m0 5h0m0 3h0m0 5h0m0 3v2.5m0 10.5h0m0 3v2.5M320 545h0m0 3h0m0 8v5m0 5.5v2.5m0 3h0m0 5h0m0 11h0M321 534.5h0m0 10.5h0m0 3h0m0 5h0m0 3v5m0 5.5v2.5m0 3v2.5M322 537h0m0 3v5m0 3v2.5m0 5.5v5m0 3h0m0 5h0M323 529h0m0 3h0m0 8v5m0 3v5m0 5.5v2.5m0 3v2.5M324 518.5v2.5m0 5.5h0m0 8h0m0 10.5h0m0 3v2.5m0 5.5v5m0 5.5h0M325 518.5v2.5m0 3v5m0 3h0m0 8h0m0 5h0m0 5.5v2.5m0 3v2.5M326 516h0m0 5h0m0 3v2.5m0 8v2.5m0 5.5h0m0 5.5v2.5m0 10.5h0m0 3h0M327 534.5h0m0 8h0m0 5.5h0m0 10.5v2.5m0 5.5v2.5M328 540v5m0 13.5v2.5m0 3h0m0 8v5m0 3h0M329 534.5v2.5m0 3h0m0 5h0m0 3v2.5m0 5.5v2.5M330 542.5v2.5m0 3v5m0 8h0m0 3v2.5M331 529h0m0 5.5v2.5m0 3v5m0 3h0m0 16v5m0 5.5h0M332 540h0m0 5h0m0 3v5m0 5.5h0m0 10.5h0m0 3v5m0 5.5h0M333 542.5h0m0 8v2.5m0 8h0m0 5.5v2.5m0 3v5m0 3v2.5M334 540v5m0 3v5m0 5.5h0M335 524h0m0 5h0m0 13.5v2.5m0 5.5h0m0 5.5h0m0 5h0m0 5.5v2.5m0 5.5v2.5M336 518.5h0m0 5.5v2.5m0 8h0m0 5.5h0m0 10.5h0m0 10.5h0m0 3h0m0 5h0M337 532v5m0 11h0m0 5h0m0 11v2.5m0 5.5h0M338 537h0m0 5.5h0m0 5.5h0m0 8h0m0 5h0m0 3v5m0 3h0M339 537h0m0 3v5m0 3v5m0 3h0m0 5h0m0 3v2.5m0 5.5v2.5M340 526.5v2.5m0 3h0m0 5h0m0 3h0m0 5h0m0 3h0m0 5h0m0 5.5h0m0 5.5v2.5M341 529h0m0 8h0m0 3v2.5m0 5.5v5m0 3v2.5m0 5.5h0M342 537h0m0 3v5m0 3h0m0 8h0m0 8v2.5m0 8v2.5m0 3h0M343 534.5h0m0 5.5h0m0 8h0m0 10.5v2.5m0 3v5m0 3v5M344 526.5h0m0 10.5h0m0 3h0m0 5h0m0 5.5h0m0 8v2.5m0 11h0m0 5h0m0 3v2.5M345 534.5v2.5m0 3v5m0 3h0m0 10.5v2.5m0 8h0m0 3v2.5m0 5.5h0M346 537h0m0 3v2.5m0 5.5h0m0 5h0m0 3h0m0 5h0m0 5.5v2.5m0 3h0m0 5h0m0 3h0M347 540h0m0 8v2.5m0 5.5h0m0 8v5m0 3v2.5M348 524h0m0 5h0m0 3v5m0 8h0m0 3v2.5m0 5.5v2.5m0 8v2.5m0 5.5h0M349 537h0m0 11h0m0 5h0m0 5.5h0m0 5.5h0m0 5h0m0 3v5m0 5.5h0M350 537h0m0 3v5m0 3v2.5m0 5.5v2.5M351 550.5v2.5m0 5.5h0m0 5.5v2.5m0 5.5v5m0 3h0M352 529h0m0 3v5m0 5.5h0m0 8v2.5m0 3h0m0 5h0m0 5.5h0M353 534.5h0m0 5.5h0m0 5h0m0 8h0m0 5.5v2.5m0 3v5m0 3h0M354 529h0m0 3v5m0 3v5m0 3v2.5m0 5.5v5M355 532v5m0 3h0m0 5h0m0 3v5m0 11v5m0 3v2.5M356 542.5h0m0 5.5h0m0 5h0m0 3v5m0 3h0m0 5h0m0 3v5M357 542.5v2.5m0 5.5v2.5m0 8h0m0 5.5h0m0 5.5v5M358 516h0m0 18.5h0m0 5.5v5m0 5.5v2.5m0 5.5v2.5m0 16h0M359 508v5m0 3v5m0 8h0m0 5.5h0m0 5.5h0m0 5h0m0 3h0m0 5h0M360 505h0m0 3h0m0 5h0m0 3v5m0 3h0m0 5h0m0 3h0m0 8v2.5M361 505h0m0 5.5v2.5m0 3v2.5m0 8h0m0 8h0m0 10.5h0m0 3h0m0 5h0M362 516h0m0 5h0m0 5.5v2.5m0 5.5v2.5m0 3h0m0 13h0m0 5.5h0M363 516h0m0 8v2.5m0 8v2.5m0 3v2.5m0 5.5h0m0 5h0m0 3h0M364 516v5m0 3h0m0 8v5m0 3h0m0 5h0M365 505h0m0 3v5m0 3h0m0 5h0m0 5.5h0m0 13.5v2.5m0 5.5h0m0 5h0m0 3h0M366 497h0m0 5.5v2.5m0 8h0m0 5.5v2.5m0 3v5m0 3v2.5M367 494.5h0m0 8v2.5m0 3h0m0 5h0m0 5.5v2.5m0 5.5v2.5m0 3v5m0 8h0M368 508h0m0 5h0m0 3v5m0 3h0m0 5h0m0 3h0m0 8h0m0 5h0M369 516h0m0 5h0m0 3v2.5m0 5.5h0m0 5h0m0 5.5v2.5m0 3v2.5M370 500v5m0 3h0m0 8v2.5m0 8h0m0 5.5h0m0 5h0m0 5.5h0M371 508v5m0 3v2.5m0 5.5h0m0 13h0M372 521h0m0 8h0m0 3v5m0 3v5m0 3h0M373 508v5m0 5.5v2.5m0 19v5M374 510.5v2.5m0 5.5v2.5m0 5.5h0m0 10.5h0m0 3v2.5m0 5.5v2.5M375 508h0m0 5h0m0 5.5h0m0 5.5h0m0 5h0m0 5.5h0m0 5.5h0m0 5h0m0 3h0M376 497h0m0 5.5v2.5m0 3v5m0 3v2.5m0 5.5v5M377 502.5v2.5m0 3h0m0 8v2.5m0 5.5h0m0 5h0m0 5.5v2.5M378 510.5v2.5m0 3v2.5m0 5.5h0m0 5h0m0 5.5v2.5m0 3v5M379 521h0m0 3v2.5m0 10.5h0m0 3h0m0 8h0m0 5h0m0 3v5M380 518.5v2.5m0 3v2.5m0 10.5h0m0 3h0m0 5h0m0 3h0m0 8h0M381 513h0m0 3h0m0 8h0m0 5h0m0 3v2.5m0 5.5v5m0 3v5M382 494.5h0m0 5.5h0m0 5h0m0 3h0m0 5h0m0 3h0m0 5h0m0 11v2.5m0 8h0m0 5.5h0M383 505h0m0 5.5h0m0 10.5h0m0 3v2.5m0 10.5h0m0 3v5m0 3v2.5M384 508h0m0 5h0m0 3v2.5m0 5.5h0m0 5h0m0 8h0m0 3v2.5M385 492h0m0 5h0m0 5.5v2.5m0 3v2.5m0 8v2.5m0 3h0m0 10.5h0m0 8h0M386 516h0m0 5h0m0 3v5m0 3v2.5M387 489h0m0 5.5v2.5m0 3v2.5m0 5.5h0m0 5h0m0 3h0M388 510.5h0m0 5.5v2.5m0 10.5h0m0 3v5m0 3v2.5M389 500h0m0 5h0m0 5.5h0m0 13.5h0m0 5h0m0 5.5h0m0 5.5h0M390 500h0m0 5h0m0 3v5m0 3h0m0 5h0m0 3h0m0 5h0m0 3h0M391 510.5h0m0 5.5v2.5m0 5.5v5m0 3h0m0 5h0m0 5.5h0M392 505h0m0 5.5v2.5m0 3v2.5m0 5.5h0m0 5h0m0 5.5h0m0 10.5h0m0 3v5M393 505h0m0 3h0m0 5h0m0 3v5m0 3h0m0 8v5m0 3h0m0 10.5h0M394 521h0m0 8h0m0 3v5m0 3h0m0 10.5h0m0 5.5h0M395 524v5m0 5.5v2.5m0 5.5v2.5m0 3v5m0 3v2.5M396 521h0m0 3v2.5m0 5.5h0m0 5h0m0 5.5v2.5m0 3v2.5m0 5.5v2.5m0 5.5h0M397 505h0m0 5.5v2.5m0 5.5v2.5m0 3v2.5m0 5.5v2.5m0 5.5v2.5M398 508v2.5m0 8v2.5m0 3v2.5m0 5.5h0m0 5h0m0 3h0M399 494.5h0m0 5.5v5m0 3h0m0 13h0m0 3v5m0 3v2.5M400 502.5v2.5m0 3h0m0 8h0m0 13h0m0 8h0m0 5.5v2.5M401 494.5v2.5m0 3h0m0 5h0m0 5.5v2.5m0 3v5m0 3h0m0 8h0m0 8h0M402 502.5v2.5m0 8h0m0 8h0m0 5.5v2.5m0 3v2.5m0 5.5v5m0 3v2.5M403 497h0m0 3v5m0 3v2.5m0 10.5h0m0 5.5v2.5m0 3v2.5M404 502.5v2.5m0 5.5v2.5m0 8h0m0 3v2.5m0 5.5h0M405 524h0m0 5h0m0 5.5h0m0 5.5v5m0 3v5M406 508v5m0 3v2.5m0 8h0m0 5.5h0m0 5h0m0 8h0m0 3h0M407 516h0m0 5h0m0 3h0m0 5h0m0 3h0m0 5h0m0 5.5v2.5m0 5.5v2.5m0 3v5M408 505h0m0 3v5m0 3h0m0 8v2.5m0 10.5h0m0 5.5h0M409 510.5h0m0 5.5v5m0 3v5m0 3h0m0 10.5v2.5M410 510.5v2.5m0 3v5m0 3h0m0 8h0m0 5h0m0 3v5m0 3v2.5M411 513h0m0 3v2.5m0 10.5h0m0 3v2.5m0 10.5h0m0 3v2.5m0 5.5h0M412 508v5m0 3h0m0 5h0m0 5.5h0m0 5.5v2.5m0 5.5h0m0 5h0m0 8h0m0 5.5v2.5m0 3h0M413 513h0m0 3h0m0 5h0m0 5.5v2.5m0 3v2.5m0 5.5h0m0 21h0M414 505h0m0 11v2.5m0 8h0m0 5.5v5m0 3v5m0 5.5h0M415 502.5v2.5m0 3h0m0 5h0m0 13.5v2.5m0 8h0m0 3v5M416 505h0m0 3v5m0 11h0m0 5h0m0 3h0m0 5h0M417 508v5m0 3v2.5m0 5.5h0m0 5h0m0 3v2.5m0 10.5h0m0 3h0M418 505h0m0 3h0m0 5h0m0 3v5m0 3v2.5m0 8h0m0 5.5v5M419 510.5v2.5m0 3v5m0 3h0m0 5h0m0 8h0m0 3v5m0 5.5h0M420 516v5m0 5.5v2.5m0 3h0m0 5h0m0 3v5M421 500v5m0 3h0m0 8v5m0 8h0m0 8h0m0 5.5h0m0 5.5h0m0 5h0M422 510.5v2.5m0 3v5m0 11v5m0 3h0m0 10.5v2.5m0 3h0M423 526.5v2.5m0 8h0m0 3v2.5m0 5.5v5m0 3v5M424 518.5v2.5m0 3v5m0 3h0m0 8h0m0 5h0m0 3v5M425 508h0m0 5h0m0 5.5v2.5m0 3v5m0 3v5m0 3h0M426 508v5m0 3v2.5m0 5.5v2.5m0 8h0m0 10.5h0m0 3h0M427 494.5v2.5m0 3v2.5m0 5.5h0m0 8v2.5m0 5.5h0m0 8v5m0 5.5h0m0 8h0M428 521h0m0 8h0m0 3h0m0 8v5m0 3h0M429 500v2.5m0 5.5h0m0 5h0m0 5.5h0m0 8v2.5m0 3v2.5M430 500v5m0 3v2.5m0 5.5h0m0 10.5v2.5m0 8h0M431 513h0m0 3h0m0 5h0m0 3h0m0 5h0m0 3h0m0 5h0m0 3h0m0 8v2.5M432 505h0m0 5.5v2.5m0 3v5m0 11h0m0 10.5v2.5m0 3h0m0 8v2.5M433 508v5m0 3v2.5m0 5.5h0m0 8v5m0 16h0M434 513h0m0 3v2.5m0 5.5v5m0 13.5v2.5m0 3v2.5m0 5.5v2.5M435 502.5h0m0 5.5v5m0 5.5v2.5m0 3v5m0 5.5h0m0 5.5v5M436 508h0m0 8v5m0 5.5h0m0 10.5h0m0 8h0m0 3h0m0 5h0m0 3v5M437 510.5v2.5m0 3h0m0 5h0m0 3v5m0 3v2.5m0 5.5v5M438 502.5h0m0 8h0m0 8v2.5m0 5.5h0m0 5.5h0m0 5h0m0 3v5m0 8h0M439 508v2.5m0 8h0m0 5.5h0m0 5h0m0 3v5m0 3h0m0 8v2.5M440 510.5v2.5m0 3v5m0 3v2.5m0 5.5v2.5m0 5.5h0m0 5h0M441 529h0m0 3h0m0 5h0m0 3v5m0 3h0m0 5h0m0 3h0M442 513h0m0 3v5m0 5.5v2.5m0 3h0m0 10.5v2.5M443 508h0m0 5h0m0 3v2.5m0 8h0m0 5.5h0m0 8v5m0 5.5h0M444 500v5m0 3v5m0 3v5m0 11v2.5M445 502.5v2.5m0 3v5m0 8h0m0 5.5h0m0 8v2.5m0 3v5M446 502.5v2.5m0 5.5h0m0 10.5h0m0 3h0m0 8h0m0 8h0m0 5h0m0 3v5M447 510.5v2.5m0 3h0m0 5h0m0 3v5m0 3h0m0 5h0m0 3v2.5M448 505h0m0 3h0m0 8v2.5m0 5.5h0m0 5h0m0 5.5v2.5m0 5.5v2.5M449 508v2.5m0 10.5h0m0 8h0m0 3v5m0 3v5m0 5.5h0M450 497h0m0 5.5v2.5m0 3v5m0 3h0m0 8v2.5M451 510.5v2.5m0 8h0m0 5.5v2.5m0 3h0m0 5h0m0 3v5m0 3h0M452 510.5h0m0 5.5h0m0 8v5m0 5.5v2.5m0 3v5m0 3v2.5m0 5.5h0M453 518.5v2.5m0 3h0m0 8h0m0 8h0m0 8v5m0 3v5m0 5.5h0M454 521h0m0 3h0m0 5h0m0 3v5m0 3h0m0 5h0m0 3h0m0 13h0M455 529h0m0 5.5v2.5m0 8h0m0 3v5m0 3v2.5m0 8h0M456 526.5v2.5m0 8h0m0 3h0m0 5h0m0 5.5h0m0 5.5v5M457 508v5m0 5.5v2.5m0 3v5m0 3h0m0 13h0m0 5.5h0m0 5.5v2.5M458 505h0m0 3v5m0 3h0m0 8v2.5m0 5.5h0m0 5h0m0 3v2.5m0 5.5h0m0 5h0M459 505h0m0 3h0m0 5h0m0 13.5h0m0 5.5h0m0 5h0m0 3v5m0 3v5M460 505h0m0 5.5v2.5m0 5.5v2.5m0 11v2.5m0 5.5h0M461 524h0m0 5h0m0 5.5v2.5m0 3v5m0 3v5M462 518.5v2.5m0 5.5v2.5m0 3h0m0 8v5m0 5.5v2.5M463 516v5m0 3v2.5m0 5.5h0m0 5h0m0 5.5v2.5m0 3v5M464 510.5v2.5m0 3v2.5m0 5.5v5m0 3h0m0 8h0m0 5h0m0 3v2.5M465 505h0m0 3v5m0 3v2.5m0 5.5h0m0 8h0m0 8v5m0 3v2.5M466 513h0m0 11v5m0 3h0m0 5h0m0 5.5v2.5m0 3v5m0 8h0M467 513h0m0 3v5m0 8h0m0 5.5h0m0 8h0m0 10.5h0m0 3v2.5m0 5.5h0m0 5h0M468 521h0m0 5.5v2.5m0 3v5m0 3h0m0 5h0M469 545h0m0 3v5m0 3v2.5m0 5.5h0M470 521h0m0 3v5m0 3v2.5m0 5.5h0m0 5h0m0 3v2.5m0 10.5h0m0 5.5h0m0 5.5h0M471 524v2.5m0 5.5v2.5m0 8v2.5m0 5.5v2.5m0 8h0m0 5.5v2.5M472 518.5v2.5m0 5.5h0m0 5.5h0m0 8h0m0 8h0m0 5h0m0 3v2.5m0 5.5h0M473 505h0m0 3h0m0 5h0m0 3v2.5m0 5.5h0m0 8v2.5m0 5.5h0m0 5h0m0 3v5m0 5.5h0m0 5.5h0M474 516h0m0 5h0m0 5.5v2.5m0 3v5m0 3h0m0 8v5m0 3v2.5M475 502.5v2.5m0 3v5m0 3h0m0 5h0m0 3h0m0 8h0m0 10.5v2.5M476 505h0m0 3h0m0 8h0m0 13h0m0 5.5h0m0 10.5h0m0 3v5M477 502.5v2.5m0 3h0m0 8v2.5m0 8h0m0 5.5v2.5m0 5.5v5m0 5.5h0m0 5.5v2.5M478 513h0m0 3h0m0 13h0m0 3h0m0 5h0m0 3v5m0 5.5v2.5M479 510.5v2.5m0 3v5m0 3v2.5m0 8v2.5m0 8h0M480 518.5v2.5m0 5.5h0m0 5.5v5m0 5.5h0m0 5.5h0M481 497h0m0 8h0m0 3v5m0 5.5h0m0 5.5v2.5m0 5.5h0m0 18.5h0m0 5.5h0M482 521h0m0 5.5v2.5m0 5.5h0m0 5.5v5m0 3v5m0 5.5h0m0 5.5h0M483 516v5m0 3v5m0 3v2.5m0 8h0m0 5.5h0m0 10.5h0M484 502.5v2.5m0 3v2.5m0 8v2.5m0 3h0m0 16v2.5m0 8v2.5M485 513h0m0 3v5m0 3h0m0 10.5h0m0 5.5h0m0 5h0m0 8h0M486 516v5m0 3h0m0 16h0m0 5h0m0 3v5M487 513h0m0 3v2.5m0 8v2.5m0 5.5h0m0 5.5v2.5m0 5.5h0m0 5h0m0 3h0M488 516v5m0 3v5m0 8h0m0 16h0m0 3v2.5M489 508v2.5m0 5.5v5m0 3h0m0 10.5h0m0 5.5v5m0 3h0M490 513h0m0 5.5h0m0 5.5h0m0 5h0m0 3v5m0 3v5m0 3h0M491 505h0m0 5.5h0m0 5.5v5m0 3v2.5m0 5.5v5M492 505h0m0 3v2.5m0 5.5v5m0 3v5m0 5.5h0M493 497h0m0 3h0m0 5h0m0 5.5h0m0 10.5h0m0 3h0m0 5h0m0 3v2.5m0 5.5v2.5M494 500h0m0 8h0m0 5h0m0 5.5v2.5m0 3v5m0 8h0m0 3h0m0 8h0m0 5h0m0 3h0M495 510.5h0m0 5.5v2.5m0 8h0m0 5.5v2.5m0 5.5v5m0 3h0M496 513h0m0 5.5v2.5m0 3v2.5m0 5.5v5m0 5.5h0m0 5.5h0m0 5h0m0 3h0m0 5h0m0 3h0M497 508h0m0 8v5m0 3h0m0 5h0m0 5.5h0m0 8h0m0 5.5v5m0 3h0m0 5h0M498 516h0m0 10.5v2.5m0 3h0m0 5h0m0 3v2.5m0 5.5v5M499 508v2.5m0 5.5v2.5m0 5.5h0m0 5h0m0 3v2.5m0 5.5h0M500 513h0m0 3v5m0 3h0m0 5h0m0 5.5v2.5m0 3v5m0 3v2.5M501 508v2.5m0 5.5v2.5m0 5.5v5m0 5.5v2.5m0 3v5M502 497h0m0 3v5m0 3v2.5m0 5.5v2.5m0 13.5v2.5M503 532v5m0 3v5m0 5.5v2.5M504 500h0m0 5h0m0 3h0m0 5h0m0 3v2.5m0 5.5v5m0 3h0m0 5h0M505 521h0m0 5.5v2.5m0 3v5m0 3v5M506 500h0m0 5h0m0 3v5m0 8h0m0 8h0M507 513h0m0 3h0m0 5h0m0 3v5m0 3h0m0 5h0m0 8h0m0 5.5v2.5m0 3h0m0 5h0M508 494.5v2.5m0 5.5h0m0 5.5h0m0 5h0m0 3v2.5m0 5.5h0m0 10.5h0m0 8h0M509 510.5h0m0 5.5v5m0 3h0m0 13h0m0 8h0m0 3v5m0 11h0M510 508v2.5m0 5.5h0m0 8v5m0 3v2.5m0 5.5v5m0 3h0m0 5h0M511 513h0m0 5.5h0m0 5.5v5m0 3h0m0 8h0m0 5h0m0 3h0m0 5h0m0 5.5v2.5M512 518.5v2.5m0 8h0m0 3v2.5m0 5.5v5m0 3v2.5m0 8h0M513 492h0m0 8v5m0 8h0m0 5.5v2.5m0 5.5v2.5m0 3v2.5M514 492v5m0 3h0m0 5h0m0 3v2.5m0 5.5h0m0 5h0m0 8h0m0 3h0m0 8h0m0 5h0M515 502.5v2.5m0 8h0m0 8h0m0 13.5h0m0 8v2.5M516 513h0m0 3h0m0 8v5m0 3h0m0 8v5m0 3v2.5M517 508v2.5m0 8v2.5m0 5.5h0m0 5.5v5m0 3v5m0 3h0m0 5h0M518 500v5m0 5.5v2.5m0 8h0m0 3h0M519 526.5v2.5m0 8h0m0 3v5m0 3v5M520 508v2.5m0 5.5v5m0 3v2.5m0 8h0M521 537h0m0 3v5m0 3v5m0 3h0M522 502.5h0m0 5.5v5m0 3v5m0 8h0m0 3v2.5M523 518.5h0m0 5.5h0m0 8v5m0 3v5m0 5.5h0m0 5.5h0M524 508h0m0 5h0m0 3v5m0 8h0m0 3h0m0 5h0m0 5.5h0m0 5.5v2.5M525 502.5h0m0 5.5h0m0 5h0m0 3h0m0 5h0m0 3h0m0 5h0m0 3v5m0 3v2.5M526 516h0m0 10.5h0m0 5.5h0m0 8v2.5m0 5.5v5M527 510.5h0m0 5.5h0m0 5h0m0 8h0m0 3h0m0 5h0m0 3v5m0 11h0M528 500v2.5m0 5.5v2.5m0 5.5v2.5m0 5.5h0m0 13h0m0 3v5m0 5.5v2.5M529 510.5v2.5m0 3h0m0 5h0m0 8h0m0 3h0m0 5h0m0 3v5m0 5.5h0M530 497h0m0 3v2.5m0 8h0m0 5.5v2.5m0 5.5h0m0 5h0m0 8h0m0 3v2.5m0 8h0M531 513h0m0 3h0m0 5h0m0 3h0m0 5h0m0 8h0m0 3h0m0 5h0m0 5.5v2.5m0 3h0M532 516v5m0 5.5h0m0 5.5v5m0 5.5h0m0 5.5v5m0 3v5M533 518.5v2.5m0 8h0m0 5.5v2.5m0 3v2.5m0 8h0m0 5.5v2.5m0 8h0M534 505h0m0 5.5h0m0 5.5v5m0 8h0m0 3h0m0 5h0m0 3h0m0 5h0m0 8h0M535 489h0m0 8h0m0 3h0m0 5h0m0 11v2.5m0 8h0m0 8v2.5M536 500v5m0 8h0m0 3h0m0 5h0m0 5.5h0m0 5.5v5m0 5.5h0M537 497h0m0 3h0m0 5h0m0 5.5v2.5m0 11h0m0 8h0m0 8v5m0 3h0m0 5h0m0 3v2.5M538 486.5h0m0 8h0m0 5.5h0m0 5h0m0 5.5v2.5m0 3v5m0 11v2.5m0 8v2.5m0 3h0M539 489h0m0 8h0m0 3v5m0 3h0m0 5h0m0 3v5m0 8h0m0 11h0m0 5h0m0 3h0M540 526.5v2.5m0 3v5m0 3v5m0 3h0M541 508v5m0 3v5m0 3h0m0 10.5v2.5m0 5.5h0M542 516v2.5m0 5.5h0m0 5h0m0 3h0m0 8v5m0 3h0m0 8v2.5M543 516v5m0 5.5v2.5m0 3v2.5m0 10.5h0m0 3v5M544 516v2.5m0 10.5h0m0 8h0m0 5.5v2.5m0 3v5m0 5.5h0M545 505h0m0 3v2.5m0 5.5v5m0 5.5v2.5m0 8h0m0 5.5v2.5m0 3h0M546 500h0m0 5h0m0 3v5m0 3v5m0 3h0m0 8h0M547 502.5v2.5m0 11v5m0 3v5m0 3h0M548 494.5v2.5m0 5.5v2.5m0 3h0m0 5h0m0 5.5v2.5m0 3h0m0 8v5m0 3v5M549 486.5v2.5m0 3v2.5m0 5.5h0m0 8h0m0 8h0m0 5h0m0 19h0m0 5h0M550 494.5h0m0 5.5v5m0 5.5v2.5m0 5.5h0m0 8v2.5m0 3h0m0 5h0m0 3v2.5M551 497h0m0 3v2.5m0 5.5v2.5m0 5.5v2.5m0 10.5h0m0 8h0m0 3h0M552 513h0m0 3v5m0 13.5h0m0 5.5v5m0 5.5v2.5M553 500v2.5m0 5.5v5m0 5.5v2.5m0 5.5h0m0 8v2.5m0 3v5m0 5.5h0M554 497h0m0 3v5m0 11h0m0 8v2.5m0 5.5h0m0 5h0m0 3v5m0 3h0M555 494.5h0m0 5.5v2.5m0 10.5h0m0 11h0m0 8v2.5m0 10.5h0m0 3v2.5m0 5.5h0M556 508h0m0 5h0m0 3v2.5m0 5.5h0m0 5h0m0 8h0m0 5.5v2.5m0 3h0m0 5h0M557 508h0m0 5h0m0 3h0m0 13h0m0 5.5h0m0 10.5h0m0 3v2.5m0 8h0M558 510.5v2.5m0 5.5h0m0 5.5v5m0 3h0m0 5h0m0 8h0m0 5.5v2.5m0 3h0M559 497h0m0 3v2.5m0 5.5h0m0 5h0m0 5.5v2.5m0 19v5M560 526.5v2.5m0 3v5m0 3v5m0 3h0M561 502.5h0m0 5.5v2.5m0 8h0m0 8v2.5m0 3v2.5M562 513h0m0 3h0m0 5h0m0 3v5m0 3v5m0 5.5h0M563 516h0m0 8h0m0 10.5v2.5m0 3h0m0 8v5m0 5.5v2.5m0 11h0M564 502.5h0m0 5.5v5m0 8h0m0 3v5m0 5.5h0m0 16v2.5m0 3h0M565 505h0m0 3v5m0 3v2.5m0 10.5h0m0 21.5v2.5m0 8h0M566 500v2.5m0 5.5v2.5m0 5.5v2.5m0 8h0m0 5.5h0m0 8v5m0 3h0M567 502.5h0m0 5.5v2.5m0 5.5h0m0 10.5h0m0 10.5h0m0 3v5m0 5.5v2.5m0 3h0M568 508v2.5m0 5.5h0m0 5h0m0 13.5h0m0 8h0m0 8v2.5m0 3v2.5M569 516v5m0 3v2.5m0 5.5h0m0 5h0m0 3v5m0 3h0M570 494.5v2.5m0 3h0m0 8h0m0 5h0m0 3h0m0 5h0m0 5.5h0m0 8h0m0 8h0m0 8h0m0 8h0M571 505h0m0 5.5v2.5m0 8h0m0 3h0m0 8h0m0 5h0m0 5.5v2.5m0 8h0M572 508h0m0 5h0m0 8h0m0 3h0m0 5h0m0 3v5m0 3h0m0 8v5M573 532h0m0 8v5m0 3v5m0 3h0M574 500h0m0 8v2.5m0 5.5h0m0 5h0m0 3v2.5m0 5.5v2.5m0 5.5h0M575 516h0m0 5h0m0 3h0m0 8v2.5m0 5.5h0m0 5h0m0 5.5h0M576 513h0m0 3h0m0 8v2.5m0 10.5h0m0 5.5h0m0 5.5h0m0 5h0m0 3v5M577 516h0m0 5h0m0 3v5m0 5.5h0m0 5.5h0m0 10.5v2.5M578 516h0m0 8v5m0 3h0m0 5h0M579 518.5v2.5m0 3h0m0 5h0m0 3h0m0 8v5m0 3v2.5m0 5.5h0M580 505h0m0 3v5m0 3h0m0 5h0m0 3h0m0 5h0M581 494.5h0m0 5.5h0m0 10.5v2.5m0 5.5h0m0 10.5h0m0 3h0m0 5h0m0 3v5m0 3v2.5M582 508v5m0 5.5h0m0 8v2.5m0 3v5m0 5.5v2.5m0 3h0M583 489h0m0 3v2.5m0 8v2.5m0 5.5v2.5m0 3v2.5m0 10.5h0M584 508v5m0 5.5h0m0 8h0m0 8v2.5m0 5.5v2.5m0 5.5v2.5M585 513h0m0 3v5m0 5.5h0m0 8v2.5m0 5.5h0m0 5.5v5M586 516v5m0 5.5v2.5m0 3h0m0 10.5v2.5m0 5.5h0m0 8h0M587 510.5h0m0 5.5h0m0 5h0m0 3v5m0 5.5h0m0 10.5h0m0 3h0m0 5h0m0 3h0M588 516v2.5m0 8h0m0 5.5v2.5m0 5.5v5m0 3v2.5M589 502.5h0m0 8v2.5m0 5.5v2.5m0 5.5v2.5m0 3h0m0 8h0m0 8h0m0 5h0m0 3v5M590 505h0m0 3v2.5m0 8v2.5m0 8h0m0 8h0m0 5.5v2.5m0 3h0m0 5h0m0 3h0M591 502.5v2.5m0 3h0m0 5h0m0 5.5h0m0 8h0m0 8v2.5m0 3h0M592 486.5h0m0 13.5h0m0 5h0m0 3v2.5m0 8v2.5m0 11h0m0 5h0m0 3v5m0 3v2.5M593 486.5v2.5m0 3h0m0 5h0m0 5.5v2.5m0 3v2.5m0 10.5h0m0 8h0m0 5.5v2.5m0 8h0M594 516h0m0 5h0m0 5.5v2.5m0 5.5v2.5m0 3v2.5M595 502.5h0m0 5.5v5m0 3h0m0 8v5m0 5.5h0m0 8v2.5M596 513h0m0 5.5h0m0 5.5h0m0 5h0m0 3v2.5m0 5.5v5m0 5.5v2.5M597 513h0m0 3h0m0 5h0m0 11h0m0 5h0m0 16h0m0 3v5m0 5.5h0M598 513h0m0 3v5m0 3h0m0 5h0m0 3h0m0 5h0m0 5.5h0M599 524v2.5m0 5.5v2.5m0 5.5v5m0 3h0m0 5h0M600 505h0m0 3h0m0 5h0m0 3v5m0 3h0m0 10.5h0m0 5.5h0m0 8h0m0 8v2.5m0 5.5h0M601 505h0m0 5.5h0m0 5.5v5m0 3v2.5m0 10.5h0m0 13.5h0m0 5.5v2.5m0 5.5h0M602 497h0m0 5.5v2.5m0 3h0m0 8h0m0 13h0m0 3v5m0 3v2.5m0 5.5v2.5m0 5.5h0m0 8h0M603 494.5v2.5m0 5.5h0m0 5.5h0m0 5h0m0 3v2.5m0 8h0m0 8v2.5m0 5.5h0M604 492v5m0 3h0m0 5h0m0 3v5m0 5.5v2.5m0 11h0m0 5h0m0 5.5v2.5m0 5.5h0M605 505h0m0 5.5h0m0 5.5v2.5m0 5.5h0m0 8h0m0 5h0m0 5.5h0m0 5.5v2.5m0 13.5h0M606 502.5v2.5m0 16h0m0 5.5v2.5m0 3h0m0 5h0m0 5.5v2.5m0 3h0M607 516v2.5m0 5.5v5m0 3v5m0 13.5h0m0 5.5h0m0 10.5h0M608 521h0m0 3v2.5m0 10.5h0m0 3h0m0 5h0m0 8h0m0 8h0m0 5.5v2.5M609 516v5m0 3v5m0 8h0m0 3h0m0 13h0m0 3v2.5m0 5.5h0M610 497h0m0 3v5m0 3v5m0 3h0m0 8h0m0 13h0m0 13.5v2.5m0 3h0M611 510.5v2.5m0 3h0m0 5h0m0 3h0m0 16v5m0 3v5m0 3v2.5M612 505h0m0 3h0m0 5h0m0 5.5h0m0 13.5v5m0 3v5m0 3h0M613 489h0m0 5.5v2.5m0 3v2.5m0 10.5h0m0 3h0m0 10.5v2.5m0 3h0m0 5h0m0 5.5h0m0 8h0M614 500v5m0 8h0m0 8h0m0 3v5m0 8h0m0 3v5m0 3v2.5m0 5.5h0M615 497h0m0 3v2.5m0 5.5v2.5m0 5.5h0m0 8h0m0 5h0m0 3v2.5M616 510.5h0m0 8h0m0 5.5h0m0 5h0m0 11v2.5m0 8v2.5m0 3v2.5M617 505h0m0 5.5h0m0 5.5v5m0 5.5h0m0 5.5h0m0 5h0m0 3h0m0 10.5v2.5m0 8h0m0 3v2.5M618 513h0m0 3h0m0 5h0m0 3h0m0 5h0m0 3v5m0 11h0m0 13h0m0 3h0M619 537h0m0 5.5v2.5m0 3v5m0 3h0M620 516v5m0 8h0m0 3h0m0 5h0m0 11v5m0 3v2.5M621 505h0m0 3v5m0 3v2.5m0 10.5h0m0 3v5m0 3v2.5m0 5.5h0M622 505h0m0 3h0m0 5h0m0 8h0m0 3h0m0 8h0m0 5h0m0 3v2.5m0 5.5v2.5M623 505h0m0 3v2.5m0 5.5h0m0 16v5m0 3v2.5m0 5.5v5m0 3h0M624 494.5v2.5m0 5.5v2.5m0 5.5h0m0 8h0m0 8h0m0 10.5h0m0 3h0m0 8v2.5M625 505h0m0 3v2.5m0 18.5h0m0 3h0m0 8v2.5m0 10.5h0m0 3v5m0 3h0M626 518.5v2.5m0 3h0m0 5h0m0 3h0m0 5h0m0 11v2.5m0 10.5h0m0 3h0M627 510.5v2.5m0 3v2.5m0 5.5v2.5m0 5.5v2.5m0 10.5h0m0 3h0m0 5h0m0 8h0m0 3h0m0 5h0M628 524h0m0 5h0m0 3h0m0 8h0m0 5h0m0 8h0m0 8h0m0 3v2.5m0 5.5h0M629 518.5v2.5m0 3v5m0 3v2.5m0 5.5v2.5m0 5.5h0M630 510.5v2.5m0 3v5m0 3v5m0 11h0M631 524h0m0 5h0m0 8h0m0 3v5m0 5.5v2.5m0 8h0M632 508v5m0 5.5v2.5m0 8h0m0 8h0m0 5.5v2.5m0 3h0m0 10.5h0M633 516h0m0 5h0m0 3v5m0 16h0m0 5.5h0M634 502.5v2.5m0 8h0m0 3v2.5m0 8h0m0 5.5h0m0 10.5h0m0 5.5v5M635 508v5m0 3v5m0 3h0m0 8h0m0 13h0m0 8h0m0 5.5v2.5M636 521h0m0 3v5m0 3h0m0 10.5h0m0 10.5h0m0 3h0m0 5h0m0 5.5h0M637 505h0m0 3h0m0 5h0m0 3v2.5m0 5.5h0m0 5h0m0 3v2.5m0 5.5h0m0 8h0m0 8h0M638 513h0m0 8h0m0 3h0m0 8v2.5m0 8v2.5m0 5.5v2.5m0 3v5m0 3h0M639 508v2.5m0 10.5h0m0 5.5v2.5m0 3v2.5m0 5.5h0m0 5h0M640 500h0m0 8v5m0 3h0m0 5h0m0 5.5h0m0 10.5h0m0 5.5v2.5m0 3h0m0 5h0M641 508h0m0 10.5v2.5m0 3h0m0 5h0m0 3v5m0 3h0m0 13h0M642 500v5m0 3h0m0 5h0m0 8h0m0 11h0m0 8v2.5m0 8h0m0 5.5h0M643 513h0m0 3h0m0 5h0m0 3h0m0 5h0m0 16h0m0 5.5v2.5m0 3v5M644 505h0m0 3h0m0 10.5h0m0 10.5h0m0 13.5h0m0 5.5v2.5m0 5.5h0m0 5h0M645 516h0m0 5h0m0 3h0m0 5h0m0 3v5m0 5.5h0m0 8v2.5m0 3h0M646 508h0m0 5h0m0 3v5m0 5.5v2.5m0 3h0m0 5h0m0 11v2.5m0 5.5h0m0 5h0M647 513h0m0 3h0m0 5h0m0 3h0m0 8h0m0 16v5m0 5.5v2.5m0 3v5M648 510.5v2.5m0 3v2.5m0 5.5h0m0 8v5m0 5.5v2.5m0 5.5h0m0 8h0M649 494.5v2.5m0 3v2.5m0 5.5v2.5m0 18.5h0m0 3h0m0 10.5h0m0 8v2.5m0 3h0M650 505h0m0 8h0m0 8h0m0 8h0m0 3v5m0 3v2.5m0 5.5h0M651 494.5v2.5m0 5.5v2.5m0 3h0m0 5h0m0 3v2.5m0 8h0m0 5.5h0M652 494.5v2.5m0 13.5h0m0 5.5h0m0 18.5v2.5m0 3v2.5m0 5.5h0M653 497h0m0 3h0m0 5h0m0 5.5v2.5m0 3h0m0 8v2.5m0 8h0m0 5.5v2.5M654 537h0m0 5.5v2.5m0 3v5M655 516h0m0 8v5m0 3h0m0 5h0m0 5.5h0M656 521h0m0 13.5v2.5m0 3v5m0 5.5h0m0 5.5v2.5M657 505h0m0 3h0m0 8v2.5m0 5.5h0m0 8h0m0 5h0m0 3v2.5m0 8h0M658 494.5h0m0 8h0m0 5.5v5m0 13.5v2.5m0 8h0m0 5.5v2.5M659 505h0m0 5.5v2.5m0 11v5m0 5.5v2.5m0 3v5m0 3h0M660 505h0m0 3h0m0 8v5m0 3v5m0 11h0m0 5h0m0 3v5m0 3h0M661 502.5h0m0 5.5v5m0 3v2.5m0 10.5h0m0 5.5h0m0 5.5v5m0 5.5h0M662 497h0m0 3h0m0 5h0m0 3v5m0 3h0m0 5h0m0 8h0m0 8h0m0 5.5h0m0 8h0m0 5.5h0M663 494.5h0m0 8v2.5m0 3v2.5m0 5.5v2.5m0 8h0m0 10.5h0m0 3v2.5m0 5.5h0M664 492v5m0 5.5v2.5m0 11h0m0 13h0m0 16h0m0 8h0M665 502.5v2.5m0 3v2.5m0 5.5h0m0 8v2.5m0 8h0m0 5.5v5m0 3v2.5M666 508v5m0 3v2.5m0 8v2.5m0 3h0m0 5h0m0 3v2.5m0 5.5v5M667 500v5m0 11v5m0 8h0m0 11v2.5m0 5.5v5m0 3v2.5M668 505h0m0 3v2.5m0 5.5v5m0 3h0m0 10.5v2.5m0 3v5m0 3h0M669 492h0m0 5h0m0 3h0m0 5h0m0 3h0m0 8v2.5m0 8h0m0 5.5h0m0 8h0m0 5h0m0 5.5h0M670 526.5v2.5m0 3v5m0 3v5m0 3v2.5M671 518.5v2.5m0 3v5m0 3v5m0 5.5h0m0 5.5v2.5M672 526.5v2.5m0 3h0m0 8h0m0 5h0m0 3v5m0 3v5M673 510.5v2.5m0 3v2.5m0 13.5v2.5m0 8v2.5m0 8h0M674 497h0m0 3h0m0 8v5m0 8h0m0 3v5m0 3h0M675 526.5v2.5m0 3h0m0 5h0m0 3v5m0 3v5M676 505h0m0 3v2.5m0 5.5v2.5m0 5.5h0m0 5h0m0 3v5m0 3h0m0 16h0M677 494.5v2.5m0 3v5m0 3h0m0 10.5h0m0 8v2.5m0 13.5h0m0 5.5v2.5m0 5.5h0M678 502.5v2.5m0 3h0m0 5h0m0 5.5v2.5m0 8h0m0 3v5m0 3v5m0 3v2.5M679 497h0m0 5.5h0m0 5.5v5m0 8h0m0 3v5m0 5.5h0m0 5.5h0M680 516v2.5m0 10.5h0m0 3v5m0 3v5m0 3h0M681 497h0m0 3v5m0 3h0m0 10.5h0m0 5.5h0m0 13h0m0 3v5m0 3h0M682 508h0m0 8v5m0 5.5v2.5m0 8h0m0 3h0m0 8v5m0 3h0M683 502.5v2.5m0 3v2.5m0 8h0m0 10.5h0m0 5.5h0m0 5.5h0m0 5h0M684 502.5v2.5m0 3v5m0 3h0m0 5h0m0 13.5v2.5m0 3v5m0 3h0M685 497h0m0 3v2.5m0 8v2.5m0 3v5m0 13.5h0m0 8v2.5m0 3v2.5M686 500v5m0 5.5h0m0 8v2.5m0 3h0m0 10.5h0m0 13.5v2.5m0 13.5h0M687 510.5v2.5m0 13.5h0m0 5.5h0m0 5h0m0 3v5m0 3v5m0 5.5h0M688 508h0m0 5h0m0 3v5m0 11h0m0 10.5h0m0 10.5h0m0 3h0m0 8h0M689 510.5h0m0 5.5v5m0 3v2.5m0 5.5v2.5m0 5.5v2.5m0 5.5h0m0 5h0m0 3h0M690 521h0m0 11h0m0 5h0m0 3v5m0 3h0m0 5h0M691 508h0m0 5h0m0 5.5v2.5m0 3v5m0 5.5h0m0 8v2.5m0 3h0M692 540h0m0 5h0m0 5.5v2.5m0 3v2.5m0 5.5v2.5M693 508v5m0 5.5v2.5m0 3v2.5m0 8h0M694 508h0m0 5h0m0 16h0m0 3v2.5m0 5.5v5m0 5.5v2.5M695 500v5m0 3h0m0 8v2.5m0 5.5v2.5m0 10.5h0m0 5.5v2.5m0 3h0m0 8h0M696 492v5m0 8h0m0 8h0m0 3h0m0 5h0m0 3v2.5m0 5.5h0m0 8h0m0 5h0M697 524v5m0 3v5m0 3v2.5m0 5.5v2.5m0 5.5h0M698 508v5m0 3v2.5m0 5.5v5m0 3h0m0 5h0m0 3v2.5M699 505h0m0 3v5m0 5.5v2.5m0 3h0m0 16v5M700 513h0m0 11v5m0 5.5v2.5m0 8h0m0 3v5m0 3h0M701 508v5m0 3v2.5m0 5.5h0m0 5h0m0 8h0m0 5.5h0m0 5.5h0M702 500v5m0 11v5m0 13.5h0m0 5.5h0m0 10.5v2.5m0 3v2.5m0 8h0M703 505h0m0 5.5v2.5m0 5.5h0m0 5.5h0m0 10.5h0m0 8v2.5m0 3v5M704 516v2.5m0 5.5v2.5m0 8h0m0 5.5v5m0 3v5m0 3h0M705 513h0m0 3v2.5m0 5.5v5m0 3h0m0 8h0m0 5h0m0 3v5M706 500h0m0 5h0m0 3v5m0 8h0m0 3h0m0 8h0m0 5h0m0 3v5m0 5.5h0M707 510.5h0m0 18.5h0m0 11v2.5m0 5.5v5m0 3h0m0 10.5v2.5M708 516h0m0 10.5v2.5m0 5.5v2.5m0 3h0m0 5h0m0 5.5v2.5m0 5.5h0m0 5.5h0M709 505h0m0 3v5m0 8h0m0 3h0m0 13h0m0 3h0m0 8v5M710 526.5v2.5m0 3h0m0 5h0m0 5.5h0m0 5.5v5m0 3v5M711 497h0m0 5.5v2.5m0 3h0m0 8h0m0 8v5m0 11v2.5M712 524v2.5m0 10.5h0m0 8h0m0 3v2.5m0 5.5v5m0 3h0M713 510.5v2.5m0 3v5m0 3v2.5m0 5.5h0m0 5h0M714 508h0m0 5h0m0 3v2.5m0 5.5h0m0 8h0m0 5h0m0 8h0m0 5.5v2.5M715 502.5v2.5m0 3v5m0 5.5v2.5m0 5.5v2.5m0 5.5h0m0 8v2.5M716 510.5v2.5m0 5.5h0m0 5.5h0m0 13h0m0 8h0m0 3h0m0 5h0M717 516h0m0 8v5m0 5.5h0m0 5.5v5m0 3v2.5m0 5.5v2.5M718 513h0m0 3v2.5m0 5.5h0m0 8v2.5m0 5.5h0m0 8v5m0 3h0m0 5h0M719 508h0m0 5h0m0 3v5m0 5.5h0m0 5.5v5m0 3h0m0 8h0M720 510.5v2.5m0 3h0m0 5h0m0 3v2.5m0 5.5h0m0 8v5m0 3h0M721 513h0m0 3v2.5m0 5.5h0m0 8v5m0 8h0m0 5.5h0m0 5.5h0m0 5h0M722 518.5h0m0 10.5h0m0 3h0m0 5h0m0 3v5m0 3v5m0 3h0M723 513h0m0 3h0m0 5h0m0 8h0m0 5.5h0m0 8v2.5m0 3v5m0 3v2.5M724 492h0m0 5h0m0 3h0m0 5h0m0 3v2.5m0 5.5v5m0 5.5v2.5m0 5.5v2.5m0 8h0m0 5.5h0m0 5.5h0M725 500h0m0 13h0m0 3v2.5m0 5.5v5m0 5.5v2.5m0 3h0m0 8v5M726 502.5h0m0 8v2.5m0 11h0m0 8v5m0 5.5v2.5m0 5.5h0M727 516v5m0 3v2.5m0 5.5v5m0 5.5v2.5M728 502.5h0m0 10.5h0m0 3v2.5m0 5.5v2.5m0 8v2.5m0 3v2.5m0 5.5h0m0 5h0M729 502.5v2.5m0 5.5v2.5m0 3h0m0 16v2.5m0 5.5v5m0 3h0m0 5h0m0 3h0M730 489h0m0 8h0m0 3v5m0 3v2.5m0 5.5v2.5m0 8v2.5m0 3h0M731 534.5h0m0 5.5h0m0 5h0m0 3v2.5m0 5.5v5m0 3v2.5m0 5.5h0M732 497h0m0 3v5m0 3v5m0 13.5v2.5m0 3h0m0 13h0M733 510.5h0m0 5.5h0m0 13h0m0 24h0m0 3v5m0 3v5M734 508v5m0 8h0m0 3v5m0 3h0m0 5h0m0 3h0m0 5h0m0 11h0M735 518.5h0m0 5.5v2.5m0 5.5h0m0 5h0m0 3v2.5m0 8v2.5m0 3h0m0 5h0M736 513h0m0 3h0m0 5h0m0 3h0m0 8h0m0 13h0m0 3v5m0 3h0M737 513h0m0 3v5m0 3h0m0 5h0m0 5.5h0m0 5.5v2.5m0 8h0m0 8h0M738 505h0m0 3v2.5m0 8v2.5m0 5.5v2.5m0 5.5h0m0 10.5h0m0 3h0m0 5h0m0 11v2.5m0 5.5h0M739 513h0m0 3v2.5m0 5.5h0m0 13h0m0 8h0m0 3v2.5m0 5.5v2.5M740 510.5h0m0 8v2.5m0 8h0m0 3h0m0 8v5m0 5.5v2.5m0 3v2.5m0 5.5h0m0 5h0m0 3h0M741 518.5h0m0 8v2.5m0 3v2.5m0 8v2.5m0 3h0m0 8h0m0 5h0M742 521h0m0 3h0m0 13h0m0 5.5v2.5m0 3v2.5m0 8v2.5m0 5.5h0m0 5.5h0M743 516v5m0 3h0m0 5h0m0 8h0m0 8h0m0 3v2.5m0 5.5v2.5M744 502.5v2.5m0 5.5v2.5m0 3h0m0 5h0m0 3h0m0 8v2.5m0 5.5v2.5m0 5.5h0M745 529h0m0 3h0m0 8v5m0 3v5M746 516v5m0 3v5m0 3v5m0 3h0m0 8h0M747 510.5h0m0 5.5v2.5m0 5.5v5m0 3h0m0 8v5m0 3v2.5M748 497h0m0 3v5m0 5.5h0m0 21.5h0m0 10.5v2.5m0 3v2.5M749 510.5h0m0 5.5v2.5m0 5.5v2.5m0 8v2.5m0 11v2.5M750 508h0m0 5h0m0 3h0m0 5h0m0 5.5v2.5m0 3h0m0 5h0m0 13.5v2.5m0 5.5v2.5m0 5.5h0m0 5.5h0M751 502.5v2.5m0 3h0m0 8v5m0 3h0m0 8v5m0 11h0m0 8h0M752 532v2.5m0 8h0m0 5.5v2.5m0 5.5v5m0 3v2.5M753 516h0m0 5h0m0 5.5v2.5m0 5.5v2.5m0 5.5v2.5m0 3v5m0 3v2.5M754 508v2.5m0 5.5v5m0 8h0m0 3h0m0 5h0m0 13.5v2.5m0 5.5v2.5m0 3h0M755 513h0m0 5.5v2.5m0 3v2.5m0 8v2.5m0 3h0m0 5h0m0 3h0M756 516v5m0 3v2.5m0 10.5h0m0 3h0m0 5h0m0 3v2.5m0 5.5h0m0 5h0M757 521h0m0 11v5m0 11h0m0 5h0m0 3h0m0 5h0m0 8h0M758 521h0m0 3v5m0 3v2.5m0 10.5h0m0 8h0m0 5.5v2.5m0 3v2.5M759 510.5h0m0 10.5h0m0 8h0m0 5.5v2.5m0 3v5m0 3v5m0 3h0m0 5h0M760 508h0m0 10.5v2.5m0 3v5m0 5.5h0m0 10.5h0m0 3v5m0 3h0M761 513h0m0 3v5m0 3h0m0 5h0m0 3v2.5m0 8h0m0 5.5v5m0 3h0m0 5h0M762 508h0m0 5h0m0 3v5m0 3v5m0 3v2.5m0 5.5h0m0 13h0M763 505h0m0 3v5m0 3h0m0 16h0m0 16v5m0 3v2.5m0 5.5h0m0 5h0M764 518.5v2.5m0 3v5m0 3v5m0 3v2.5m0 5.5v2.5M765 516h0m0 5h0m0 3h0m0 13h0m0 3v2.5m0 5.5v2.5m0 5.5v2.5M766 502.5v2.5m0 3v2.5m0 5.5h0m0 10.5h0m0 5.5h0m0 8h0m0 8v5m0 3h0M767 510.5h0m0 5.5h0m0 5h0m0 3v2.5m0 8v2.5m0 5.5v2.5m0 5.5h0m0 5.5v5m0 3h0M768 505h0m0 3v5m0 3v5M769 513h0m0 3h0m0 13h0m0 3h0m0 5h0m0 3h0m0 5h0m0 5.5v2.5m0 3h0M770 505h0m0 5.5h0m0 5.5v2.5m0 8v2.5m0 3v5m0 8h0m0 3h0m0 5h0m0 8h0M771 494.5v2.5m0 3v2.5m0 8h0m0 8v2.5m0 5.5h0m0 5.5h0m0 8v2.5M772 502.5v2.5m0 8h0m0 8h0m0 3v5m0 5.5h0m0 13.5v5M773 508v2.5m0 5.5h0m0 10.5h0m0 8v2.5m0 3h0m0 5h0m0 3v5m0 5.5v2.5M774 505h0m0 5.5h0m0 5.5v2.5m0 5.5v5m0 3v5m0 8h0m0 3h0M775 500h0m0 5h0m0 5.5v2.5m0 3h0m0 5h0m0 3h0m0 5h0m0 8h0m0 11h0m0 5h0m0 5.5h0m0 8h0M776 516v2.5m0 5.5h0m0 5h0m0 3v5m0 3h0m0 5h0m0 3v2.5m0 8h0M777 516h0m0 5h0m0 5.5h0m0 5.5v2.5m0 10.5h0m0 5.5v2.5m0 5.5h0m0 5.5h0M778 508h0m0 5h0m0 3h0m0 8h0m0 8h0m0 5h0m0 3h0m0 10.5h0m0 5.5v2.5m0 5.5v2.5m0 5.5h0M779 505h0m0 5.5v2.5m0 8h0m0 3h0m0 10.5h0m0 5.5h0m0 5h0m0 3v5m0 3h0m0 8h0M780 508v5m0 5.5v2.5m0 5.5h0m0 5.5v2.5m0 5.5v5m0 3h0M781 500v5m0 3v5m0 3h0m0 10.5h0m0 5.5v2.5m0 5.5h0m0 8h0M782 513h0m0 8h0m0 3h0m0 8h0m0 10.5h0m0 5.5v5m0 3v5m0 3h0M783 508v5m0 5.5v2.5m0 3v5m0 5.5v2.5m0 5.5h0m0 5.5h0m0 5h0M784 508h0m0 8v2.5m0 5.5v5m0 5.5v2.5m0 11v5m0 5.5h0M785 526.5h0m0 8v2.5m0 3v5m0 3v5m0 3v2.5M786 508h0m0 5h0m0 3v2.5m0 5.5v5m0 3v2.5m0 5.5v2.5M787 524h0m0 10.5h0m0 5.5v2.5m0 5.5v5m0 3v2.5M788 508v5m0 5.5h0m0 8h0m0 5.5v5m0 3h0M789 510.5v2.5m0 8h0m0 3v5m0 8h0m0 5.5v2.5m0 3h0M790 513h0m0 5.5h0m0 8v2.5m0 8h0m0 3h0m0 10.5v2.5M791 526.5v2.5m0 3v2.5m0 5.5h0m0 8v5m0 3h0M792 492h0m0 8v5m0 5.5h0m0 5.5v2.5m0 5.5h0m0 5h0m0 5.5v2.5m0 5.5h0M793 494.5h0m0 8h0m0 5.5v2.5m0 13.5v2.5m0 10.5h0m0 3h0m0 5h0m0 3v5M794 494.5v2.5m0 5.5v2.5m0 3h0m0 5h0m0 5.5v2.5m0 8h0m0 8h0m0 5.5h0m0 8v2.5m0 13.5h0m0 5.5h0M795 524v2.5m0 5.5v5m0 3v2.5m0 5.5h0m0 8h0m0 5h0m0 8h0m0 3h0M796 513h0m0 3h0m0 10.5v2.5m0 5.5h0m0 16v2.5m0 5.5v2.5m0 3v2.5m0 5.5h0M797 516h0m0 5h0m0 5.5v2.5m0 3v2.5m0 8v2.5m0 3h0m0 10.5h0m0 5.5h0M798 502.5v2.5m0 3v2.5m0 8h0m0 16h0m0 5.5h0m0 5h0m0 3v2.5m0 5.5v2.5M799 508v5m0 5.5v2.5m0 3v2.5m0 16v2.5m0 3h0m0 8h0M800 508v5m0 3v2.5m0 5.5h0m0 5h0m0 8h0m0 5.5h0m0 5.5h0m0 5h0m0 3h0M801 510.5v2.5m0 8h0m0 11v2.5m0 8v2.5m0 5.5h0m0 5.5h0M802 510.5v2.5m0 5.5h0m0 13.5h0m0 13h0m0 3v5m0 3v5m0 3h0M803 500v5m0 5.5v2.5m0 3v2.5m0 5.5h0m0 5h0m0 3h0m0 5h0M804 513h0m0 8h0m0 5.5v2.5m0 3v5m0 3h0M805 502.5v2.5m0 3v5m0 8h0m0 5.5v2.5m0 5.5h0m0 5.5h0m0 5h0M806 508h0m0 8h0m0 10.5h0m0 10.5h0m0 3h0m0 5h0m0 3h0m0 8v2.5M807 502.5v2.5m0 3h0m0 10.5v2.5m0 3v2.5m0 5.5h0m0 10.5v2.5m0 5.5h0M808 545h0m0 3v5m0 3h0m0 5h0m0 3v2.5m0 5.5h0M809 513h0m0 3v5m0 5.5v2.5m0 3v2.5m0 10.5h0m0 5.5h0m0 8v2.5M810 521h0m0 5.5v2.5m0 3h0m0 8h0m0 8v5m0 3h0m0 5h0m0 3v5M811 497h0m0 5.5v2.5m0 3v2.5m0 5.5h0m0 13h0m0 19h0m0 10.5v2.5m0 3h0m0 10.5v2.5M812 505h0m0 5.5h0m0 8h0m0 8v2.5m0 3v2.5m0 5.5h0M813 484v5m0 5.5h0m0 5.5v5m0 5.5v2.5m0 11h0m0 5h0M814 478.5v2.5m0 3h0m0 10.5h0m0 13.5h0m0 8v5m0 3v2.5M815 489h0m0 3h0m0 10.5h0m0 8h0m0 5.5h0m0 5h0m0 3v5M816 489h0m0 3v5m0 3h0m0 8h0m0 8h0m0 5h0m0 3h0M817 489h0m0 5.5v2.5m0 5.5v2.5m0 5.5h0m0 10.5h0m0 5.5v2.5M818 489h0m0 3v5m0 5.5h0m0 5.5h0m0 5h0m0 3v5m0 3h0M819 476h0m0 8h0m0 5h0m0 8h0m0 3h0m0 5h0m0 3h0m0 10.5v2.5m0 3v5M820 484h0m0 8v5m0 5.5v2.5m0 11v5m0 5.5h0M821 489h0m0 3v2.5m0 8h0m0 13.5h0m0 10.5v2.5m0 3v5m0 3h0M822 489h0m0 3v2.5m0 8v2.5m0 11h0m0 5h0m0 3v5m0 3v2.5M823 500v5m0 3h0m0 8v5m0 3v2.5M824 497h0m0 3h0m0 5h0m0 5.5h0m0 5.5h0m0 5h0m0 3h0m0 5h0m0 3v2.5M825 502.5h0m0 5.5v5m0 5.5h0m0 10.5h0m0 5.5v2.5m0 3v2.5M826 500h0m0 5h0m0 3v5m0 3v2.5m0 5.5h0m0 5h0m0 5.5v2.5M827 500h0m0 5h0m0 3h0m0 13h0m0 3h0m0 5h0m0 3v5M828 481h0m0 3v5m0 3v5m0 3h0m0 8v2.5M829 484h0m0 5h0m0 3h0m0 13h0m0 8h0m0 5.5v2.5m0 3h0m0 10.5h0M830 484h0m0 8h0m0 8h0m0 5h0m0 11v2.5m0 5.5v5m0 3h0m0 5h0M831 486.5h0m0 5.5v5m0 5.5v2.5m0 5.5h0m0 8h0m0 5.5v5m0 3h0M832 489h0m0 3v5m0 8h0m0 5.5h0m0 8h0m0 8v2.5M833 476h0m0 8v2.5m0 5.5v2.5m0 8h0m0 5.5v2.5m0 5.5v2.5m0 5.5v2.5m0 5.5h0M834 481h0m0 8h0m0 5.5v2.5m0 5.5h0m0 8v2.5m0 3v2.5M835 481h0m0 5.5v2.5m0 5.5h0m0 5.5v5m0 8h0m0 5.5v2.5m0 3h0M836 478.5v2.5m0 5.5h0m0 5.5v5m0 3h0m0 13h0m0 5.5h0m0 10.5h0M837 478.5h0m0 5.5h0m0 5h0m0 3v2.5m0 5.5h0m0 5h0m0 3h0m0 5h0m0 5.5h0m0 8h0m0 8h0M838 494.5v2.5m0 3v5m0 3h0m0 5h0m0 5.5h0m0 5.5h0m0 5h0m0 5.5h0M839 481h0m0 8h0m0 5.5v2.5m0 5.5v2.5m0 3v2.5m0 8v2.5m0 3h0m0 5h0m0 3h0M840 500h0m0 5h0m0 3v5m0 5.5v2.5m0 5.5v2.5m0 5.5v2.5m0 3h0m0 5h0M841 497h0m0 5.5v2.5m0 3v5m0 3v5m0 5.5h0m0 16h0M842 494.5h0m0 10.5h0m0 3h0m0 10.5h0m0 8h0m0 5.5v5m0 3v5M843 492v5m0 5.5v2.5m0 3v2.5m0 5.5v5m0 3h0M844 486.5h0m0 5.5v2.5m0 5.5v5m0 5.5v2.5m0 5.5v2.5m0 5.5h0M845 484h0m0 8h0m0 5h0m0 5.5v2.5m0 3h0m0 16v5m0 5.5h0M846 492h0m0 5h0m0 5.5v2.5m0 5.5h0m0 10.5h0m0 3h0m0 5h0m0 3h0M847 486.5v2.5m0 3h0m0 5h0m0 3v2.5m0 5.5v2.5m0 5.5v5M848 481h0m0 3h0m0 5h0m0 16h0m0 8h0m0 3h0m0 5h0m0 3v2.5m0 5.5h0M849 478.5h0m0 8h0m0 5.5v2.5m0 10.5h0m0 3h0m0 10.5v2.5m0 5.5v2.5m0 3v2.5M850 484h0m0 5h0m0 3h0m0 5h0m0 3h0m0 5h0m0 8h0m0 3h0m0 8v5m0 3h0M851 497h0m0 3h0m0 5h0m0 3h0m0 8v5m0 3h0m0 5h0m0 5.5h0M852 505h0m0 5.5h0m0 5.5v5m0 3v5m0 3v2.5M853 489h0m0 5.5h0m0 5.5h0m0 5h0m0 3h0m0 10.5v2.5m0 5.5v2.5m0 5.5v2.5m0 3h0M854 494.5h0m0 5.5h0m0 8h0m0 8v2.5m0 5.5h0m0 5h0m0 3h0M855 500v5m0 3h0m0 5h0m0 3v5m0 11h0m0 5h0m0 3h0M856 508v2.5m0 8h0m0 5.5v5m0 11h0m0 5h0m0 3v5M857 494.5v2.5m0 3h0m0 5h0m0 5.5v2.5m0 3h0m0 8h0m0 5h0m0 3v5m0 5.5h0M858 481h0m0 5.5v2.5m0 3v2.5m0 5.5h0m0 5h0m0 5.5h0m0 10.5h0m0 5.5v2.5m0 5.5h0M859 494.5h0m0 5.5v2.5m0 5.5v2.5m0 5.5v5m0 3h0m0 5h0M860 497h0m0 3v2.5m0 5.5v5m0 5.5v2.5m0 5.5v2.5m0 5.5h0M861 484h0m0 5h0m0 3v2.5m0 8v2.5m0 5.5h0m0 5.5v5m0 8h0M862 502.5v2.5m0 3h0m0 8v2.5m0 8v2.5m0 3v5M863 481h0m0 3v5m0 5.5h0m0 5.5v5m0 8h0m0 5.5h0M864 486.5h0m0 5.5v2.5m0 5.5v5m0 3h0m0 8v2.5m0 8v2.5m0 3h0M865 486.5v2.5m0 5.5h0m0 8h0m0 5.5h0m0 5h0m0 5.5h0m0 10.5h0m0 3v5m0 3v5M866 486.5v2.5m0 3v5m0 3h0m0 8v2.5m0 8v2.5M867 497h0m0 5.5v2.5m0 3h0m0 5h0m0 3v5m0 3h0m0 5h0m0 5.5h0M868 489h0m0 3v5m0 5.5v2.5m0 3v2.5m0 8h0m0 5.5h0m0 5h0m0 3h0M869 476v5m0 5.5v2.5m0 3h0m0 5h0m0 8h0m0 8h0m0 3h0M870 476h0m0 5h0m0 3v5m0 8h0m0 8h0m0 3h0m0 5h0m0 3v5M871 481h0m0 3v2.5m0 5.5v5m0 11v5m0 3h0M872 481h0m0 13.5h0m0 5.5h0m0 16v5m0 3v5m0 3v2.5M873 497h0m0 3v5m0 3h0m0 5h0m0 8h0m0 5.5v2.5m0 8h0m0 3h0M874 494.5v2.5m0 3v2.5m0 5.5h0m0 8h0m0 5h0m0 5.5h0m0 5.5h0m0 5h0m0 5.5h0M875 486.5v2.5m0 5.5v2.5m0 3v2.5m0 8h0m0 5.5h0m0 8h0M876 505h0m0 3v2.5m0 5.5v5m0 3v5m0 3h0m0 5h0m0 5.5h0M877 484v5m0 3h0m0 5h0m0 3v5m0 13.5h0M878 476v2.5m0 5.5v5m0 3v2.5m0 5.5v2.5m0 5.5h0m0 5h0m0 3v2.5M879 476h0m0 8h0m0 13h0m0 8h0m0 5.5v2.5m0 3v5m0 3v2.5M880 478.5h0m0 8v2.5m0 3v2.5m0 5.5h0m0 8v2.5m0 5.5h0m0 5h0M881 502.5v2.5m0 3h0m0 5h0m0 3h0m0 5h0m0 5.5v2.5M882 476h0m0 5h0m0 3v2.5m0 5.5h0m0 5h0m0 3v5m0 3h0M883 502.5h0m0 8v2.5m0 3h0m0 5h0m0 5.5v2.5m0 3h0M884 486.5v2.5m0 3v5m0 3v5m0 5.5v2.5m0 11h0M885 518.5h0m0 5.5h0m0 5h0m0 3v5M886 489h0m0 3v5m0 3v5m0 3h0m0 16h0M887 505h0m0 13.5v2.5m0 3v5m0 3v5M888 486.5v2.5m0 5.5h0m0 8v2.5m0 3v2.5m0 13.5v5M889 494.5h0m0 5.5v5m0 5.5v2.5m0 3v5m0 3h0m0 5h0m0 3h0M890 476v2.5m0 5.5h0m0 5h0m0 5.5h0m0 8h0m0 13.5v2.5m0 5.5h0m0 10.5h0m0 5.5h0M891 497h0m0 3h0m0 5h0m0 5.5h0m0 5.5v2.5m0 5.5v2.5m0 5.5v2.5M892 486.5v2.5m0 13.5h0m0 5.5v5m0 5.5v2.5m0 3h0m0 5h0M893 476v5m0 3v2.5m0 5.5h0m0 8h0m0 5h0m0 5.5v2.5m0 3v2.5M894 470.5h0m0 5.5v2.5m0 5.5v2.5m0 10.5h0m0 3h0m0 8v2.5M895 478.5h0m0 5.5h0m0 5h0m0 3v2.5m0 5.5h0m0 16v2.5M896 497h0m0 8h0m0 5.5v2.5m0 3v2.5m0 5.5v5M897 486.5v2.5m0 3h0m0 5h0m0 3v5m0 3v5m0 3h0M898 494.5v2.5m0 5.5v2.5m0 5.5h0m0 5.5v5m0 5.5v2.5m0 5.5h0m0 8h0M899 484v5m0 3h0m0 5h0m0 3h0m0 16h0m0 5h0m0 3h0m0 5h0m0 5.5v2.5M900 484h0m0 5h0m0 3v2.5m0 13.5v5m0 5.5v2.5m0 3h0m0 5h0m0 11h0M901 484v5m0 3v5m0 5.5h0m0 5.5h0m0 5h0m0 3h0m0 13h0m0 3h0M902 476h0m0 8v5m0 3h0m0 5h0m0 19v2.5m0 8h0m0 5.5h0M903 492h0m0 5h0m0 8h0m0 3v5m0 3v2.5m0 5.5h0M904 486.5v2.5m0 5.5v2.5m0 5.5v2.5m0 5.5h0m0 5.5h0m0 5h0m0 3h0m0 8h0m0 5h0M905 484h0m0 13h0m0 3h0m0 8h0m0 5h0m0 3h0m0 8v2.5m0 5.5h0M906 489h0m0 3h0m0 8v2.5m0 8h0m0 8h0m0 5.5v5m0 3v2.5M907 476v5m0 3v5m0 3h0m0 5h0m0 3v5m0 3v5m0 13.5h0M908 486.5h0m0 5.5v5m0 3h0m0 10.5h0m0 8v2.5m0 3v2.5m0 5.5h0M909 476v2.5m0 5.5v2.5m0 5.5v5m0 3h0m0 8h0m0 5h0m0 5.5h0M910 476h0m0 10.5h0m0 8v2.5m0 3v5m0 11v5m0 3v2.5M911 486.5h0m0 5.5v5m0 11h0m0 8v5m0 3v2.5M912 486.5v2.5m0 3v2.5m0 8h0m0 21.5v5m0 3v2.5M913 484v2.5m0 5.5v5m0 3v2.5m0 8h0m0 8v2.5m0 3h0m0 5h0M914 489h0m0 5.5h0m0 5.5v5m0 3v5m0 3v2.5M915 489h0m0 3h0m0 5h0m0 3v2.5m0 8v2.5m0 11v5M916 489h0m0 3v5m0 3h0m0 5h0m0 3h0m0 5h0m0 11v2.5M917 494.5h0m0 5.5v2.5m0 8h0m0 10.5h0m0 3v5m0 3v5M918 489h0m0 11v5m0 3v2.5m0 8h0M919 494.5h0m0 10.5h0m0 8h0m0 11v5m0 3v5m0 8h0M920 484v5m0 5.5v2.5m0 3v2.5m0 5.5v5m0 3v2.5m0 8h0M921 468h0m0 5h0m0 3h0m0 5h0m0 5.5v2.5m0 11h0m0 8h0m0 5h0m0 3h0M922 481h0m0 3h0m0 5h0m0 3h0m0 5h0m0 3v5m0 3h0M923 476v5m0 3v5m0 3v2.5m0 13.5h0M924 476v5m0 8h0m0 11h0m0 10.5v2.5m0 3v5m0 3h0M925 492v2.5m0 8h0m0 8v2.5m0 3h0m0 5h0m0 3v5m0 3v2.5M926 486.5h0m0 5.5v5m0 3v5m0 3v5m0 5.5v2.5m0 3h0M927 489h0m0 3v5m0 3h0m0 5h0m0 3h0m0 5h0m0 3h0M928 478.5v2.5m0 3v2.5m0 5.5h0m0 8h0m0 5h0m0 11v5M929 481h0m0 8h0m0 3v2.5m0 5.5h0m0 5h0m0 3v5m0 3v5m0 5.5h0M930 494.5v2.5m0 5.5v2.5m0 3h0m0 5h0m0 8h0m0 3v5m0 5.5h0M931 497h0m0 5.5v2.5m0 3v2.5m0 16h0m0 5.5v2.5m0 5.5v5M932 492v5m0 3v5m0 8h0m0 3h0m0 13h0M933 478.5v2.5m0 3v5m0 3v5m0 3h0m0 8v2.5M934 486.5h0m0 8h0m0 8h0m0 8v2.5m0 3v5m0 3h0M935 468v5m0 3v5m0 3v5m0 5.5h0M936 508v5m0 3v5m0 5.5v2.5M937 468v5m0 5.5v2.5m0 3v5m0 3h0m0 5h0m0 5.5h0M938 478.5h0m0 10.5h0m0 5.5h0m0 5.5v5m0 3v5m0 3v2.5M939 473h0m0 3v5m0 3h0m0 5h0m0 11v2.5M940 473h0m0 5.5v2.5m0 3v5m0 3h0m0 10.5v2.5m0 5.5v2.5m0 3h0M941 478.5v2.5m0 5.5v2.5m0 3h0m0 5h0m0 13.5h0m0 8v2.5m0 3v2.5M942 489h0m0 3v5m0 8h0m0 8h0m0 3h0m0 5h0m0 3v2.5M943 502.5v2.5m0 3v2.5m0 5.5v2.5m0 5.5v2.5M944 486.5h0m0 5.5h0m0 8v5m0 3h0m0 5h0m0 3h0m0 5h0m0 8h0m0 5.5h0M945 478.5v2.5m0 3v2.5m0 8v2.5m0 3h0m0 8h0m0 5h0M946 484h0m0 5h0m0 8h0m0 3v5m0 3h0m0 8h0M947 478.5h0m0 8h0m0 5.5v2.5m0 10.5h0m0 16h0m0 3v5M948 481h0m0 3v2.5m0 5.5v5m0 3h0m0 8v2.5m0 8v2.5M949 476v2.5m0 8h0m0 13.5v5m0 3v5m0 5.5v2.5m0 3v2.5M950 478.5v2.5m0 3h0m0 5h0m0 8h0m0 3h0m0 5h0m0 16h0m0 5.5h0M951 476h0m0 5h0m0 3v5m0 3v5m0 8h0m0 8h0m0 3h0M952 476h0m0 8h0m0 5h0m0 3h0m0 18.5v2.5m0 3v2.5m0 8h0M953 478.5v2.5m0 3h0m0 5h0m0 3v5m0 5.5v2.5m0 5.5h0m0 5.5h0m0 5h0M954 470.5v2.5m0 3h0m0 8v5m0 16h0m0 8h0m0 3v5M955 478.5v2.5m0 3v5m0 3v5m0 5.5h0m0 16h0m0 5.5h0M956 481h0m0 3v2.5m0 10.5h0m0 5.5v2.5m0 5.5v2.5m0 3v2.5M957 486.5v2.5m0 3v5m0 3h0m0 8h0m0 5h0M958 481h0m0 3h0m0 5h0m0 5.5h0m0 5.5v2.5m0 5.5v2.5m0 8h0m0 5.5v2.5M959 481h0m0 8h0m0 3h0m0 8h0m0 8h0m0 5h0m0 3v2.5M960 486.5h0m0 5.5v5m0 3v2.5m0 5.5h0m0 8h0M961 500h0m0 8v5m0 3v5m0 3h0m0 5h0m0 3v2.5M962 484h0m0 5h0m0 3v5m0 3v5M963 489h0m0 11v5m0 5.5v2.5m0 3v2.5m0 5.5v5M964 476v5m0 3h0m0 5h0m0 5.5h0m0 5.5v5m0 3h0m0 8v2.5M965 473h0m0 3h0m0 5h0m0 3v2.5m0 8v2.5m0 3h0m0 5h0m0 3v2.5M966 484h0m0 5h0m0 3h0m0 5h0m0 3h0m0 5h0m0 5.5v2.5m0 3v5M967 481h0m0 5.5v2.5m0 5.5h0m0 5.5v5m0 3h0m0 5h0m0 3v2.5m0 5.5h0M968 478.5h0m0 5.5v2.5m0 8h0m0 8h0m0 13.5v5m0 3v2.5M969 489h0m0 3h0m0 5h0m0 8h0m0 3v5m0 3v5M970 494.5v2.5m0 8h0m0 3h0m0 5h0m0 5.5v2.5m0 3v5M971 484h0m0 8v5m0 8h0m0 8h0m0 3h0M972 478.5v2.5m0 3v2.5m0 5.5h0m0 10.5v2.5m0 3h0m0 5h0m0 5.5v2.5M973 465h0m0 3h0m0 10.5v2.5m0 8h0m0 3h0m0 5h0m0 3v5m0 3h0m0 5h0M974 473h0m0 8h0m0 3v2.5m0 5.5v2.5m0 5.5h0m0 5h0m0 3h0m0 5h0m0 3v5M975 481h0m0 3v5m0 5.5v2.5m0 11h0m0 16v5m0 11h0M976 484h0m0 5h0m0 3v2.5m0 5.5v5m0 11h0m0 13h0m0 3h0M977 489h0m0 3v5m0 11v5m0 5.5v2.5m0 5.5h0M978 516v5m0 5.5v2.5m0 3h0M979 476h0m0 5h0m0 3v5m0 3h0m0 5h0m0 3v2.5m0 5.5v2.5M980 494.5h0m0 5.5v5m0 3v5m0 3v2.5M981 473h0m0 3v2.5m0 5.5h0m0 5h0m0 11h0m0 10.5h0m0 8h0m0 5.5h0M982 478.5h0m0 5.5v5m0 5.5h0m0 5.5v5m0 5.5h0m0 10.5h0M983 476v2.5m0 5.5h0m0 5h0m0 5.5v2.5m0 3v5m0 3v5M984 476h0m0 16v5m0 3h0m0 8v5m0 3v2.5M985 478.5v2.5m0 5.5v2.5m0 8h0m0 3v5m0 3h0m0 8h0M986 468h0m0 5h0m0 3v5m0 5.5v2.5m0 8h0m0 3v5M987 478.5v2.5m0 3v5m0 3v5m0 3v2.5m0 5.5h0m0 5h0M988 481h0m0 11h0m0 5h0m0 3v5m0 3v5m0 8h0m0 3h0M989 502.5v2.5m0 3h0m0 8v5m0 3v2.5M990 484v5m0 3v5m0 3h0m0 8h0M991 492v5m0 3h0m0 8h0m0 5h0m0 3v5m0 3h0m0 5h0M992 500h0m0 5h0m0 3v5m0 3v2.5m0 5.5h0M993 476v5m0 5.5h0m0 5.5v2.5m0 5.5v5m0 3h0M994 481h0m0 3v5m0 3h0m0 10.5v2.5m0 3h0m0 5h0m0 3v5M995 484v2.5m0 13.5v5m0 3v5m0 3h0m0 5h0M996 473h0m0 3v5m0 3v2.5m0 10.5h0m0 3h0M997 476v5m0 3h0m0 5h0m0 3v5m0 5.5v2.5M998 462.5v2.5m0 3v5m0 3h0m0 5h0m0 8h0m0 13.5h0m0 8h0M999 478.5v2.5m0 3v5m0 3v2.5m0 10.5h0m0 3v5M1000 486.5h0m0 5.5h0m0 8h0m0 8h0m0 5h0m0 3v5m0 3h0M1001 476v5m0 3v5m0 3v5m0 3h0m0 5h0M1002 489h0m0 13.5h0m0 5.5h0m0 5h0m0 3v5m0 3h0m0 5h0M1003 476v2.5m0 5.5v2.5m0 5.5h0m0 5h0m0 3h0m0 8h0m0 5h0m0 3v2.5M1004 481h0m0 3v2.5m0 8h0m0 13.5v5m0 5.5v2.5m0 3h0M1005 484v5m0 3h0m0 8v5m0 5.5v2.5m0 11h0m0 8h0m0 8h0M1006 494.5v2.5m0 3v2.5m0 5.5v5m0 3h0m0 5h0m0 3v2.5m0 10.5h0M1007 502.5h0m0 10.5h0m0 3h0m0 8v5m0 3h0m0 5h0m0 8h0M1008 478.5v2.5m0 5.5v2.5m0 11v5m0 3h0m0 5h0m0 5.5h0M1009 476h0m0 8v2.5m0 5.5v5m0 3h0m0 5h0m0 5.5h0m0 5.5v5m0 5.5h0M1010 478.5h0m0 5.5v2.5m0 5.5v2.5m0 8h0m0 5.5h0m0 5h0m0 3v2.5m0 13.5h0M1011 476v5m0 3h0m0 5h0m0 5.5v2.5m0 3v2.5m0 5.5v5m0 8h0M1012 470.5h0m0 5.5v2.5m0 5.5h0m0 5h0m0 11h0m0 8v5m0 3v5M1013 481h0m0 5.5v2.5m0 5.5h0m0 5.5v2.5m0 5.5v5m0 3v2.5M1014 481h0m0 5.5v2.5m0 3v5m0 3h0m0 5h0m0 3h0M1015 505h0m0 5.5v2.5m0 5.5v2.5m0 3h0m0 8h0M1016 486.5v2.5m0 3v5m0 3v5m0 5.5h0M1017 492h0m0 5h0m0 3h0m0 5h0m0 3v5m0 3v5m0 3h0M1018 470.5h0m0 5.5h0m0 8v5m0 3v5m0 3v5m0 3v5M1019 478.5v2.5m0 3v2.5m0 5.5h0m0 8v5m0 5.5h0m0 8v2.5m0 11h0M1020 494.5h0m0 5.5v2.5m0 5.5h0m0 5h0m0 3v5m0 3h0M1021 494.5h0m0 5.5v5m0 3h0m0 5h0m0 5.5v2.5m0 8h0m0 3v5m0 3h0M1022 497h0m0 3v2.5m0 5.5h0m0 5h0m0 3h0m0 5h0m0 8h0m0 3v2.5m0 5.5h0M1023 470.5h0m0 8h0m0 5.5h0m0 8v2.5m0 5.5v5m0 11h0m0 8h0M1024 476v5m0 5.5h0m0 5.5v5m0 8h0m0 5.5v2.5m0 8h0m0 3h0M1025 476v5m0 8h0m0 5.5h0m0 5.5h0m0 5h0m0 5.5v2.5m0 5.5h0m0 10.5h0M1026 484v2.5m0 5.5h0m0 13h0m0 3h0m0 5h0m0 3v5m0 3v2.5M1027 481h0m0 5.5v2.5m0 11v5m0 3v2.5M1028 473h0m0 3v2.5m0 5.5v2.5m0 13.5h0m0 5h0m0 3h0m0 5h0m0 3v2.5M1029 478.5v2.5m0 3v5m0 5.5h0m0 5.5v5m0 5.5h0M1030 489h0m0 8h0m0 3v2.5m0 10.5h0m0 3v5m0 3h0M1031 478.5h0m0 8v2.5m0 3h0m0 5h0m0 3h0m0 5h0m0 3v5m0 3h0M1032 481h0m0 11v5m0 3v5m0 3h0M1033 505h0m0 8h0m0 3v5m0 3v2.5m0 5.5h0M1034 500v5m0 8h0m0 3v2.5m0 5.5v2.5m0 5.5h0M1035 484h0m0 5h0m0 5.5h0m0 18.5h0m0 3v2.5m0 5.5v5m0 3v2.5m0 8h0M1036 478.5h0m0 5.5v5m0 5.5v2.5m0 3v2.5m0 10.5h0m0 5.5v2.5m0 3v2.5M1037 486.5v2.5m0 3h0m0 10.5v2.5m0 3v5m0 5.5h0M1038 470.5v2.5m0 3h0m0 5h0m0 3h0m0 5h0m0 5.5v2.5m0 8h0m0 5.5h0M1039 489h0m0 3v5m0 5.5v2.5m0 3h0m0 10.5h0M1040 473h0m0 3h0m0 5h0m0 3v2.5m0 5.5h0m0 5h0m0 3v5m0 3v2.5M1041 470.5v2.5m0 3h0m0 5h0m0 3h0m0 5h0m0 3v5M1042 481h0m0 5.5h0m0 5.5v2.5m0 5.5v5m0 3v5M1043 478.5v2.5m0 3h0m0 5h0m0 3v2.5m0 13.5h0m0 5h0m0 3h0M1044 478.5v2.5m0 3v5m0 3h0m0 5h0m0 3v2.5m0 5.5h0m0 5h0m0 3v2.5M1045 484h0m0 10.5v2.5m0 3h0m0 8v5m0 3v5M1046 489h0m0 8h0m0 3v5m0 3h0m0 8v5m0 3h0M1047 476h0m0 5h0m0 5.5v2.5m0 5.5v2.5m0 3h0m0 5h0m0 5.5v2.5m0 3v2.5M1048 462.5h0m0 5.5h0m0 8v5m0 5.5h0m0 5.5h0m0 5h0m0 3h0m0 8h0m0 8h0m0 8h0M1049 478.5h0m0 8v2.5m0 3h0m0 5h0m0 3v2.5m0 5.5v5m0 3v2.5m0 5.5h0M1050 494.5h0m0 5.5v5m0 5.5v2.5m0 5.5h0m0 5.5v2.5M1051 473h0m0 5.5v2.5m0 3v5m0 8h0m0 11h0m0 5h0m0 3h0m0 8v2.5M1052 481h0m0 5.5v2.5m0 3v5m0 5.5h0m0 5.5h0m0 5h0m0 3v5M1053 473h0m0 3v5m0 3h0m0 5h0m0 3h0m0 5h0m0 8h0m0 3h0M1054 492v5m0 3v5m0 3v5M1055 481h0m0 3v5m0 3v5m0 5.5v2.5m0 5.5v2.5m0 3h0M1056 468h0m0 5h0m0 5.5h0m0 5.5v2.5m0 8v2.5m0 5.5v2.5m0 3v2.5m0 8v2.5m0 3v2.5M1057 476h0m0 10.5v2.5m0 3v2.5m0 5.5h0m0 5h0m0 3h0m0 5h0M1058 476v2.5m0 5.5v5m0 8h0m0 5.5v2.5m0 5.5h0m0 5.5v5m0 11h0M1059 476v5m0 3h0m0 10.5v2.5m0 5.5v2.5m0 8h0m0 3v2.5m0 5.5v2.5m0 8h0M1060 486.5h0m0 5.5v2.5m0 8v2.5m0 3h0m0 5h0m0 3v5M1061 476h0m0 5h0m0 5.5v2.5m0 3h0m0 8h0m0 5h0m0 3h0m0 5h0m0 3h0m0 8h0m0 5h0M1062 478.5v2.5m0 8h0m0 13.5h0m0 5.5v2.5m0 5.5v5m0 3v2.5m0 5.5v2.5M1063 489h0m0 3h0m0 5h0m0 3v5m0 5.5h0m0 5.5h0M1064 489h0m0 3v2.5m0 10.5h0m0 3h0m0 5h0m0 3h0m0 10.5v2.5m0 3v5M1065 478.5h0m0 5.5v5m0 5.5h0m0 5.5v5m0 8h0m0 13.5h0m0 5.5h0m0 5h0M1066 489h0m0 3v2.5m0 10.5h0m0 11h0m0 5h0m0 3h0m0 5h0M1067 492v2.5m0 5.5v5m0 8h0m0 5.5v2.5m0 3h0M1068 478.5v2.5m0 3v5m0 3v2.5m0 5.5v5m0 11h0M1069 478.5v2.5m0 13.5h0m0 8v2.5m0 3h0m0 5h0m0 3v2.5m0 5.5v2.5m0 5.5h0M1070 465h0m0 8h0m0 3h0m0 5h0m0 5.5v2.5m0 5.5h0m0 13.5h0m0 5h0m0 3v5M1071 478.5h0m0 5.5h0m0 10.5v2.5m0 5.5v2.5m0 3v5M1072 473h0m0 5.5v2.5m0 5.5v2.5m0 13.5h0m0 5.5v2.5m0 8v2.5m0 3h0M1073 476v2.5m0 5.5v2.5m0 5.5h0m0 5h0m0 3v2.5m0 5.5v2.5m0 10.5h0m0 3h0M1074 481h0m0 3h0m0 10.5h0m0 10.5h0m0 5.5v2.5m0 3v5m0 11h0M1075 476h0m0 5h0m0 5.5h0m0 5.5h0m0 5h0m0 3v5m0 16h0m0 5.5v2.5M1076 492v2.5m0 8v2.5m0 3v2.5m0 5.5v5m0 3h0M1077 494.5v2.5m0 8h0m0 8h0m0 3v5m0 3h0m0 5h0M1078 478.5v2.5m0 5.5h0m0 5.5h0m0 10.5v2.5m0 3v2.5m0 5.5v2.5M1079 478.5v2.5m0 8h0m0 3h0m0 13h0m0 5.5v2.5m0 3h0m0 5h0m0 3v5M1080 470.5v2.5m0 5.5h0m0 5.5v5m0 5.5v2.5m0 3v5m0 3v2.5M1081 468h0m0 5h0m0 3v2.5m0 10.5h0m0 3v2.5m0 8v2.5m0 3v5M1082 478.5v2.5m0 8h0m0 3h0m0 5h0m0 3h0m0 10.5v2.5m0 11h0M1083 484v5m0 3v5m0 3h0m0 5h0m0 5.5v2.5m0 8h0M1084 481h0m0 3v5m0 8h0m0 13.5v2.5m0 3v2.5m0 8h0m0 5.5h0M1085 492v2.5m0 8h0m0 8h0m0 8v2.5m0 3v2.5M1086 478.5v2.5m0 3v2.5m0 8v2.5m0 3h0m0 8v2.5m0 13.5v5M1087 470.5v2.5m0 3v2.5m0 5.5v5m0 8h0m0 16h0m0 5.5h0m0 5.5h0M1088 478.5h0m0 5.5h0m0 5h0m0 5.5v2.5m0 3v5m0 3v2.5m0 5.5h0M1089 473h0m0 3h0m0 5h0m0 3v2.5m0 13.5h0m0 5h0m0 5.5h0m0 13.5v5M1090 476v5m0 3h0m0 10.5h0m0 8v2.5m0 5.5h0m0 8v2.5m0 3h0m0 5h0m0 3v2.5M1091 476v2.5m0 5.5h0m0 8h0m0 8h0m0 5h0m0 8h0m0 5.5v2.5m0 3v5M1092 478.5h0m0 5.5v5m0 3v2.5m0 8v2.5m0 3h0m0 10.5h0M1093 500v5m0 3h0m0 8v5m0 5.5v2.5m0 3h0M1094 481h0m0 3v2.5m0 8v2.5m0 3h0m0 13h0m0 8h0m0 5.5v2.5m0 8h0M1095 486.5v2.5m0 3h0m0 8v2.5m0 8v2.5m0 3h0m0 5h0m0 3h0M1096 484v5m0 3h0m0 8v2.5m0 8v2.5m0 3v2.5m0 13.5h0M1097 457h0m0 13.5v2.5m0 3h0m0 18.5h0m0 5.5v5m0 3h0m0 8v5M1098 470.5h0m0 5.5h0m0 5h0m0 3h0m0 5h0m0 3v5m0 8h0m0 3h0m0 8v2.5M1099 473h0m0 3h0m0 5h0m0 8h0m0 3v5m0 5.5v2.5m0 3h0m0 5h0M1100 468v2.5m0 10.5h0m0 5.5h0m0 10.5h0m0 3h0m0 10.5v2.5m0 3v5m0 5.5h0M1101 473h0m0 3v5m0 3v5m0 8h0m0 3v5m0 8h0M1102 470.5h0m0 5.5v5m0 3v5m0 5.5h0m0 5.5v2.5M1103 476v5m0 3h0m0 8h0m0 5h0m0 5.5v2.5m0 3v2.5m0 5.5h0M1104 478.5h0m0 5.5h0m0 5h0m0 3v5m0 3h0m0 8h0m0 5h0m0 11h0m0 10.5h0M1105 489h0m0 3v5m0 8h0m0 3v2.5m0 10.5h0m0 3v2.5m0 5.5h0M1106 489h0m0 3v5m0 3v5m0 3h0m0 5h0m0 3h0M1107 484h0m0 5h0m0 3v5m0 3v5m0 5.5v2.5m0 3h0m0 5h0m0 3h0m0 5h0m0 3h0M1108 481h0m0 5.5v2.5m0 3h0m0 5h0m0 3v2.5m0 10.5h0m0 3v2.5m0 8v2.5m0 3h0M1109 478.5v2.5m0 8h0m0 3h0m0 8h0m0 5h0m0 3v5m0 3h0m0 10.5h0M1110 484h0m0 5h0m0 3v5m0 3v5m0 3v5m0 3h0M1111 478.5v2.5m0 8h0m0 5.5v2.5m0 3h0m0 8h0m0 5h0m0 3v5m0 5.5h0m0 8h0M1112 473h0m0 3v2.5m0 5.5v5m0 11v5m0 5.5h0m0 5.5h0M1113 473h0m0 3v2.5m0 5.5h0m0 5h0m0 5.5h0m0 5.5v5m0 5.5v2.5m0 13.5h0M1114 473h0m0 13.5v2.5m0 3h0m0 8v5m0 3v5M1115 476h0m0 5h0m0 3v5m0 3h0m0 5h0m0 3h0m0 8h0m0 8v2.5M1116 476v5m0 3v2.5m0 13.5v5m0 5.5h0m0 5.5h0m0 5h0M1117 484v2.5m0 13.5h0m0 8h0m0 5h0m0 3v2.5m0 8v2.5M1118 473h0m0 3h0m0 5h0m0 5.5v2.5m0 8h0m0 13.5h0m0 5.5v5m0 3v5M1119 476v2.5m0 5.5v2.5m0 5.5v2.5m0 8v2.5m0 3h0m0 5h0m0 3h0m0 5h0m0 3h0m0 5h0M1120 481h0m0 5.5v2.5m0 3h0m0 5h0m0 5.5v2.5m0 5.5v2.5m0 5.5h0M1121 478.5v2.5m0 11h0m0 8h0m0 10.5v2.5m0 3v5M1122 478.5h0m0 5.5v5m0 3v5m0 8h0m0 3h0m0 5h0m0 3h0M1123 484v5m0 3h0m0 5h0m0 3v5m0 3v2.5m0 5.5h0M1124 484h0m0 5h0m0 11v5m0 3v2.5m0 5.5v5m0 3h0m0 5h0M1125 476v5m0 3h0m0 5h0m0 3h0m0 5h0m0 3h0m0 5h0m0 5.5h0m0 5.5h0m0 5h0m0 3h0M1126 489h0m0 13.5h0m0 5.5v5m0 5.5v2.5m0 3v2.5M1127 481h0m0 8h0m0 3v5m0 3v2.5M1128 484h0m0 8h0m0 8v5m0 3v5m0 5.5v2.5m0 8h0M1129 476v5m0 3v5m0 5.5h0m0 10.5h0m0 3h0m0 8v2.5M1130 497h0m0 5.5h0m0 5.5h0m0 5h0m0 3v5m0 5.5h0M1131 481h0m0 3v5m0 3v5m0 3v2.5M1132 500v5m0 3h0m0 5h0m0 3v2.5m0 5.5v2.5M1133 476h0m0 5h0m0 3v5m0 3v2.5m0 5.5h0m0 5h0M1134 481h0m0 3h0m0 5h0m0 3h0m0 5h0m0 3v5m0 3v5M1135 468v5m0 3h0m0 8v2.5m0 16v2.5m0 8h0m0 3h0M1136 484v2.5m0 5.5v5m0 5.5h0m0 5.5v2.5m0 8v2.5m0 8h0M1137 481h0m0 3v5m0 5.5h0m0 5.5v2.5m0 8h0m0 8h0m0 5.5v5m0 3h0m0 8h0M1138 481h0m0 3v2.5m0 8v2.5m0 5.5h0m0 5.5h0m0 5h0m0 3v2.5m0 5.5v5M1139 484v2.5m0 5.5h0m0 5h0m0 5.5v2.5m0 3h0m0 5h0m0 5.5h0m0 8v2.5m0 3h0M1140 481h0m0 3h0m0 10.5v2.5m0 13.5h0m0 8h0m0 5.5v5m0 5.5h0M1141 478.5v2.5m0 3v5m0 3h0m0 5h0m0 5.5v2.5m0 8h0m0 3v2.5M1142 492v5m0 5.5h0m0 5.5v5m0 3v5M1143 481h0m0 5.5v2.5m0 3v2.5m0 5.5v2.5m0 16v2.5M1144 462.5h0m0 8v2.5m0 5.5h0m0 8h0m0 5.5h0m0 10.5h0m0 8v2.5m0 3v2.5m0 5.5h0M1145 462.5h0m0 10.5h0m0 19v2.5m0 5.5v5m0 3v5m0 3v5M1146 476v5m0 11h0m0 5h0m0 3h0M1147 494.5v2.5m0 3v5m0 3v5m0 5.5h0M1148 476v5m0 3v5m0 3v2.5m0 8h0M1149 497h0m0 5.5v2.5m0 5.5v2.5m0 3v5m0 3v2.5M1150 481h0m0 3v5m0 3v5m0 11v5M1151 497h0m0 3v2.5m0 8v2.5m0 3v5M1152 476h0m0 5h0m0 3v5m0 5.5v2.5m0 11h0m0 5h0M1153 476h0m0 5h0m0 5.5v2.5m0 3h0m0 10.5h0m0 10.5h0m0 3v5m0 3v2.5M1154 484v5m0 3h0m0 5h0m0 3h0m0 5h0m0 5.5v2.5m0 3h0M1155 478.5v2.5m0 3v5m0 5.5v2.5m0 3h0m0 8v2.5M1156 476v5m0 5.5h0m0 8v2.5m0 8h0m0 5.5v2.5m0 3h0m0 5h0M1157 486.5v2.5m0 3h0m0 5h0m0 5.5v2.5m0 8h0m0 3h0M1158 473h0m0 5.5v2.5m0 3v2.5m0 5.5v5m0 3h0m0 5h0M1159 478.5v2.5m0 3v2.5m0 5.5v2.5m0 10.5h0m0 5.5v2.5m0 3v5m0 3h0M1160 486.5h0m0 5.5v2.5m0 8v2.5m0 5.5v2.5m0 3h0m0 5h0m0 5.5v2.5M1161 481h0m0 3v5m0 3h0m0 5h0m0 16h0m0 11h0M1162 478.5v2.5m0 3h0m0 5h0m0 3v5m0 16h0M1163 492v5m0 3h0m0 5h0m0 5.5h0m0 5.5v5m0 3v2.5M1164 484v5m0 3v2.5m0 8h0m0 8v2.5m0 3v5M1165 481h0m0 11v5m0 3v5m0 3v2.5M1166 478.5v2.5m0 3v5m0 3v2.5m0 5.5h0m0 10.5h0M1167 494.5v2.5m0 3v2.5m0 5.5h0m0 8v5m0 5.5h0M1168 473h0m0 3v2.5m0 5.5v5m0 5.5v2.5M1169 500v2.5m0 8v2.5m0 3v5m0 3v2.5m0 5.5h0M1170 476v5m0 3v5m0 3h0m0 8h0m0 5h0m0 8h0m0 5.5h0M1171 481h0m0 3v5m0 5.5h0m0 18.5h0m0 5.5v2.5m0 3v5m0 5.5h0M1172 486.5v2.5m0 3h0m0 5h0m0 5.5v2.5m0 3h0m0 5h0m0 3v2.5m0 5.5h0M1173 462.5h0m0 13.5h0m0 5h0m0 3h0m0 8h0m0 8h0m0 16h0m0 5h0m0 3v2.5M1174 484h0m0 5h0m0 3v5m0 11v5m0 3v2.5M1175 473h0m0 3v2.5m0 5.5v2.5m0 8v2.5m0 5.5v2.5m0 8h0m0 3h0m0 5h0M1176 473h0m0 5.5v2.5m0 3h0m0 10.5h0m0 13.5v5m0 3h0m0 5h0m0 3h0M1177 473h0m0 3v2.5m0 8h0m0 5.5h0m0 8v2.5m0 10.5h0m0 3v5M1178 489h0m0 3h0m0 5h0m0 3v2.5m0 5.5h0m0 8v5m0 3h0M1179 478.5h0m0 5.5v2.5m0 5.5h0m0 5h0m0 3h0m0 5h0m0 3h0m0 8v2.5m0 5.5h0M1180 481h0m0 3v5m0 3v5m0 3h0m0 8h0m0 5h0M1181 486.5v2.5m0 5.5v2.5m0 5.5v2.5m0 3v5M1182 489h0m0 3h0m0 5h0m0 5.5v2.5m0 3v5m0 3v2.5M1183 473h0m0 3v5m0 8h0m0 3h0m0 8h0m0 8h0m0 5h0m0 5.5h0M1184 481h0m0 3h0m0 5h0m0 3h0m0 8h0m0 10.5v2.5m0 5.5v2.5m0 3h0m0 5h0M1185 486.5v2.5m0 3v5m0 5.5v2.5M1186 473h0m0 3v5m0 5.5h0m0 16h0m0 5.5v5m0 3h0M1187 481h0m0 3v5m0 5.5v2.5m0 5.5v2.5m0 3v5M1188 473h0m0 3h0m0 5h0m0 3v5m0 3v2.5m0 5.5h0m0 5h0M1189 497h0m0 3v5m0 5.5v2.5m0 3h0M1190 484v5m0 5.5v2.5m0 8h0m0 3h0m0 5h0m0 8h0m0 5.5v2.5m0 3h0M1191 481h0m0 3v2.5m0 8v2.5m0 5.5v2.5m0 3h0m0 5h0m0 3v2.5M1192 478.5v2.5m0 3h0m0 5h0m0 3v5m0 3v5m0 3v2.5M1193 481h0m0 3h0m0 5h0m0 3v2.5m0 8h0m0 8v2.5m0 3h0m0 5h0m0 3h0M1194 494.5v2.5m0 3v5m0 5.5v2.5m0 5.5v2.5m0 5.5v2.5M1195 489h0m0 3v2.5m0 5.5h0m0 5h0m0 5.5v2.5m0 5.5h0m0 5.5h0M1196 476v5m0 3v5m0 3h0m0 5h0m0 5.5v2.5m0 3h0M1197 473h0m0 3h0m0 5h0m0 5.5h0m0 5.5h0m0 10.5h0m0 8v2.5m0 3v5m0 5.5h0M1198 478.5h0m0 5.5h0m0 5h0m0 3h0m0 5h0m0 3v5m0 3h0m0 5h0M1199 468h0m0 8v2.5m0 8v2.5m0 11h0m0 5h0m0 3v5m0 5.5h0M1200 473h0m0 3v5m0 3v5m0 5.5v2.5m0 8h0m0 3h0M1201 476v2.5m0 5.5h0m0 5h0m0 3h0m0 5h0m0 3h0m0 8v5m0 5.5v2.5M1202 473h0m0 3v2.5m0 5.5h0m0 5h0m0 3v2.5m0 5.5v5m0 3v2.5m0 5.5h0M1203 470.5h0m0 5.5v5m0 3v2.5m0 8h0m0 16h0M1204 476h0m0 8v2.5m0 16v2.5m0 3v2.5m0 10.5h0M1205 476v2.5m0 5.5v5m0 5.5h0m0 8v2.5m0 5.5h0m0 5.5h0m0 8h0M1206 462.5v2.5m0 3v2.5m0 16v2.5m0 3h0m0 13h0m0 3v2.5M1207 468v2.5m0 5.5v5m0 11v5m0 3v5m0 3v2.5M1208 462.5h0m0 5.5h0m0 5h0m0 3h0m0 5h0m0 3v2.5m0 10.5h0m0 3h0m0 8v2.5m0 5.5v2.5M1209 476v5m0 3v5m0 3v2.5m0 8h0m0 8v2.5m0 5.5h0M1210 481h0m0 5.5v2.5m0 5.5v2.5m0 3v5m0 3h0m0 8h0M1211 470.5h0m0 5.5v5m0 5.5v2.5m0 13.5v2.5m0 3v2.5m0 8h0m0 5.5h0M1212 478.5v2.5m0 5.5v2.5m0 5.5h0m0 5.5v5m0 3v2.5m0 5.5v2.5M1213 484v5m0 11v5m0 3v5m0 5.5h0M1214 484v5m0 3h0m0 5h0m0 3h0m0 5h0m0 8h0m0 3h0M1215 481h0m0 3v5m0 3v2.5m0 5.5h0m0 5h0m0 3h0m0 5h0M1216 478.5v2.5m0 5.5v2.5m0 8h0m0 3v2.5m0 8v2.5m0 3v5m0 3h0m0 5h0M1217 470.5v2.5m0 3v5m0 3h0m0 8v5m0 3v5M1218 470.5h0m0 5.5v2.5m0 5.5h0m0 5h0m0 8h0m0 3v5m0 3v2.5M1219 478.5v2.5m0 3v5m0 3h0m0 5h0m0 3h0m0 5h0M1220 481h0m0 5.5v2.5m0 3h0m0 8h0m0 8v5m0 3v2.5m0 5.5v2.5M1221 478.5h0m0 8h0m0 5.5v2.5m0 8v2.5m0 3v5m0 5.5h0M1222 502.5v2.5m0 3v5m0 3h0M1223 473h0m0 5.5v2.5m0 5.5v2.5m0 3v5m0 3h0m0 8h0M1224 486.5v2.5m0 3v5m0 3v5m0 3h0m0 5h0m0 3h0M1225 470.5v2.5m0 3v5m0 3v5m0 5.5h0m0 5.5v2.5M1226 473h0m0 3v5m0 3v5m0 5.5v2.5m0 3h0M1227 470.5h0m0 8h0m0 8h0m0 5.5h0m0 5h0m0 3h0m0 5h0m0 3v5M1228 473h0m0 3v5m0 3v5m0 3v5m0 3h0M1229 478.5h0m0 5.5v2.5m0 8v2.5m0 3v5m0 3v2.5M1230 473h0m0 5.5v2.5m0 13.5v2.5m0 3v5m0 3v5m0 3v2.5M1231 481h0m0 3v2.5m0 5.5v5m0 3v5m0 3v2.5m0 8h0M1232 473h0m0 3h0m0 5h0m0 3v2.5m0 5.5h0m0 5h0m0 3v2.5m0 8h0m0 5.5h0m0 5h0M1233 486.5h0m0 5.5v5m0 3v2.5m0 8v2.5M1234 494.5h0m0 8v2.5m0 3v5m0 3h0M1235 473h0m0 3v5m0 5.5v2.5m0 13.5h0m0 8v2.5m0 3v5M1236 468h0m0 5h0m0 3h0m0 5h0m0 5.5h0m0 5.5v2.5m0 5.5h0m0 5h0M1237 468v5m0 5.5h0m0 13.5v5m0 3h0m0 5h0m0 3h0M1238 465h0m0 5.5v2.5m0 5.5v2.5m0 3h0m0 8h0m0 5h0m0 3h0m0 8h0M1239 468h0m0 8v5m0 3v2.5m0 16v2.5m0 3v5m0 3h0M1240 476h0m0 5h0m0 3v2.5m0 5.5h0m0 5h0m0 3h0m0 5h0m0 3v5M1241 468v5m0 3v5m0 3h0m0 13h0m0 3v2.5M1242 468h0m0 5h0m0 3h0m0 10.5h0m0 5.5v2.5m0 5.5v5m0 3h0M1243 476h0m0 8h0m0 5h0m0 13.5h0m0 5.5v5m0 3v5m0 3h0M1244 476v5m0 5.5h0m0 5.5h0m0 5h0m0 3v2.5m0 5.5h0m0 5h0M1245 478.5h0m0 5.5v2.5m0 5.5v5m0 3v5m0 3h0m0 5h0m0 5.5h0M1246 481h0m0 3v5m0 3v2.5m0 8v2.5m0 3v2.5m0 8h0M1247 478.5v2.5m0 3v5m0 3h0m0 8h0M1248 478.5v2.5m0 5.5h0m0 5.5h0m0 5h0m0 8h0m0 3v2.5m0 5.5h0m0 5h0m0 3v2.5M1249 476h0m0 5h0m0 5.5h0m0 5.5v2.5m0 5.5v5m0 3v5M1250 473h0m0 3v5m0 8h0m0 3h0m0 5h0m0 3h0m0 5h0m0 8h0M1251 465h0m0 5.5v2.5m0 3v5m0 5.5v2.5m0 5.5v2.5m0 3h0m0 5h0M1252 457h0m0 8h0m0 3v5m0 3h0m0 8h0m0 5h0m0 5.5h0m0 8h0M1253 465h0m0 3v5m0 3h0m0 10.5v2.5m0 5.5v2.5m0 5.5h0M1254 478.5h0m0 5.5h0m0 5h0m0 3v5m0 5.5h0m0 5.5v5M1255 473h0m0 3v2.5m0 13.5h0m0 8v5m0 3h0M1256 478.5v2.5m0 3h0m0 5h0m0 3h0m0 5h0m0 3h0m0 5h0m0 5.5h0M1257 470.5v2.5m0 5.5h0m0 5.5v5m0 5.5v2.5m0 3v5m0 3v2.5M1258 478.5v2.5m0 5.5h0m0 5.5h0m0 8h0m0 5h0m0 3v5m0 3v2.5M1259 473h0m0 3v5m0 3h0m0 5h0m0 3h0m0 5h0m0 5.5v2.5m0 11h0M1260 478.5v2.5m0 3v2.5m0 5.5h0m0 8v5m0 3h0m0 5h0m0 3h0M1261 465h0m0 3v5m0 5.5h0m0 5.5v2.5m0 5.5h0m0 5h0M1262 484v2.5m0 10.5h0m0 3v5m0 3h0M1263 478.5v2.5m0 3v5m0 3v2.5m0 13.5h0M1264 500h0m0 8v5m0 3h0M1265 473h0m0 3v5m0 3v2.5m0 10.5h0m0 3v5m0 5.5h0M1266 465h0m0 5.5h0m0 5.5h0m0 5h0m0 3h0m0 10.5h0m0 5.5h0m0 5h0m0 5.5h0M1267 460h0m0 5h0m0 3h0m0 5h0m0 13.5v2.5m0 3h0m0 5h0m0 5.5v2.5m0 3h0M1268 462.5h0m0 10.5h0m0 5.5h0m0 5.5v5m0 8h0m0 3h0m0 5h0m0 3h0M1269 468v5m0 3v2.5m0 16v2.5m0 3v5M1270 460v5m0 3h0m0 8v5m0 8h0m0 3v2.5m0 5.5h0M1271 478.5v2.5m0 3v5m0 3v5m0 3h0M1272 465h0m0 11v5m0 3h0m0 10.5v2.5m0 3v2.5M1273 473h0m0 3v2.5m0 8v2.5m0 8h0m0 5.5v2.5m0 5.5v2.5m0 3h0M1274 473h0m0 5.5h0m0 8v2.5m0 3v5m0 3h0m0 5h0m0 8h0M1275 476h0m0 5h0m0 3h0m0 10.5v2.5m0 11h0m0 5h0m0 3v2.5M1276 470.5v2.5m0 3h0m0 8h0m0 5h0m0 3v2.5m0 5.5h0m0 5h0m0 3v5m0 3h0M1277 470.5v2.5m0 3v2.5m0 13.5h0m0 5h0m0 5.5h0m0 5.5v5m0 3h0M1278 465h0m0 3v5m0 3v5m0 3v5m0 5.5v2.5m0 5.5h0M1279 476v5m0 5.5v2.5m0 8h0m0 3v5m0 3h0M1280 465h0m0 5.5v2.5m0 3v5m0 8h0m0 8h0M1281 465h0m0 8h0m0 11v5m0 3h0m0 5h0m0 3v5M1282 473h0m0 3v5m0 3v2.5m0 5.5h0m0 10.5v2.5M1283 481h0m0 5.5v2.5m0 3h0m0 5h0m0 3h0m0 5h0m0 3v2.5M1284 478.5v2.5m0 3v5m0 5.5v2.5M1285 470.5h0m0 5.5h0m0 5h0m0 11h0m0 5h0m0 3v5m0 5.5v2.5M1286 484v5m0 3v2.5m0 5.5v5m0 3h0m0 5h0M1287 470.5v2.5m0 5.5v2.5m0 3h0m0 8v2.5m0 10.5h0m0 5.5h0M1288 473h0m0 11v5m0 3v2.5m0 8v2.5m0 3v5m0 3h0M1289 486.5v2.5m0 3h0m0 8v2.5m0 5.5v5m0 3h0m0 5h0m0 3h0m0 5h0M1290 484v2.5m0 8v2.5m0 5.5h0m0 5.5v2.5m0 5.5v5M1291 476v5m0 3v5m0 5.5h0m0 8v2.5m0 8h0m0 3h0M1292 465h0m0 8h0m0 5.5h0m0 5.5h0m0 13h0m0 5.5v2.5m0 5.5h0m0 8h0M1293 476h0m0 5h0m0 3h0m0 8h0m0 8h0m0 5h0m0 5.5v2.5m0 11h0M1294 473h0m0 5.5v2.5m0 3v2.5m0 8v2.5m0 5.5v2.5m0 3v5m0 3h0M1295 484h0m0 5h0m0 3h0m0 5h0m0 3h0m0 10.5v2.5m0 3h0m0 5h0M1296 478.5v2.5m0 3h0m0 5h0m0 3h0m0 10.5h0m0 8v2.5m0 3h0M1297 473h0m0 5.5v2.5m0 3v2.5m0 5.5v2.5m0 5.5v2.5m0 8h0M1298 492v2.5m0 8v2.5m0 3v5m0 5.5h0M1299 473h0m0 5.5v2.5m0 3v2.5m0 5.5v2.5m0 5.5h0m0 5h0M1300 484v5m0 3v5m0 3v5m0 3h0M1301 470.5v2.5m0 3v5m0 3h0m0 8h0m0 5h0m0 3h0M1302 468v5m0 3h0m0 8h0m0 8v2.5m0 5.5v5M1303 473h0m0 5.5v2.5m0 13.5h0m0 5.5h0m0 8h0m0 10.5v2.5" stroke="#000" stroke-width="3.58" stroke-linecap="round" fill="none"/>
<rect x="105.5" y="499" width="1255.5" height="48.8" fill="#f00" fill-opacity="0.1"/>
<path d="M162.1 554.4H358.1" stroke="#ffa500" stroke-width="2.9" stroke-linecap="square"/>
<path d="M358.1 531.5H811.11" stroke="#ffa500" stroke-width="2.9" stroke-linecap="square"/>
<path d="M811.11 507.5H1057.09" stroke="#ffa500" stroke-width="2.9" stroke-linecap="square"/>
<path d="M1057.09 501.5H1303.13" stroke="#ffa500" stroke-width="2.9" stroke-linecap="square"/>
<path d="M105.5 522.9H1361" stroke="#f00" stroke-width="2.083"/>
<rect x="162.1" y="539.4" width="196" height="30" fill="#ffa500" fill-opacity="0.1"/>
<rect x="358.1" y="515.5" width="453" height="32" fill="#ffa500" fill-opacity="0.1"/>
<rect x="811.11" y="492.0" width="245.98" height="31.0" fill="#ffa500" fill-opacity="0.1"/>
<rect x="1057.09" y="487.5" width="246.04" height="28" fill="#ffa500" fill-opacity="0.1"/>
<path d="M162 666.5V380.5M358 666.5V380.5M811 666.5V380.5M1057 666.5V380.5M1303 666.5V380.5" stroke="#800080" stroke-width="2.083" stroke-dasharray="2.083 3.4375" fill="none"/>
</g>
<text x="260.1" y="656.78" font-size="13.889" text-anchor="middle">20483</text>
<text x="584.6" y="636.76" font-size="13.889" text-anchor="middle">25218</text>
<text x="934.1" y="616.74" font-size="13.889" text-anchor="middle">25219</text>
<text x="1179.21" y="656.78" font-size="13.889" text-anchor="middle">27567</text>
<rect x="105.5" y="380.5" width="1380.0" height="286.0" fill="none" stroke="#000" stroke-width="1.111"/>
<path d="M162.5 666.5V671.86" stroke="#000" stroke-width="1.111"/>
<text x="163.3" y="686.78" font-size="13.889" text-anchor="middle">0</text>
<path d="M468.5 666.5V671.86" stroke="#000" stroke-width="1.111"/>
<text x="468.35" y="686.78" font-size="13.889" text-anchor="middle">5000</text>
<path d="M775.5 666.5V671.86" stroke="#000" stroke-width="1.111"/>
<text x="774.6" y="686.78" font-size="13.889" text-anchor="middle">10000</text>
<path d="M1081.5 666.5V671.86" stroke="#000" stroke-width="1.111"/>
<text x="1080.85" y="686.78" font-size="13.889" text-anchor="middle">15000</text>
<path d="M1387.5 666.5V671.86" stroke="#000" stroke-width="1.111"/>
<text x="1387.1" y="686.78" font-size="13.889" text-anchor="middle">20000</text>
<path d="M100.14 657.5H105.5" stroke="#000" stroke-width="1.111"/>
<text x="95.2" y="662.1" font-size="13.889" text-anchor="end">6.90</text>
<path d="M100.14 611.5H105.5" stroke="#000" stroke-width="1.111"/>
<text x="95.2" y="615.7" font-size="13.889" text-anchor="end">6.92</text>
<path d="M100.14 564.5H105.5" stroke="#000" stroke-width="1.111"/>
<text x="95.2" y="569.3" font-size="13.889" text-anchor="end">6.94</text>
<path d="M100.14 518.5H105.5" stroke="#000" stroke-width="1.111"/>
<text x="95.2" y="522.9" font-size="13.889" text-anchor="end">6.96</text>
<path d="M100.14 472.5H105.5" stroke="#000" stroke-width="1.111"/>
<text x="95.2" y="476.5" font-size="13.889" text-anchor="end">6.98</text>
<path d="M100.14 425.5H105.5" stroke="#000" stroke-width="1.111"/>
<text x="95.2" y="430.1" font-size="13.889" text-anchor="end">7.00</text>
<text x="795.05" y="371.9" font-size="16.667" text-anchor="middle">Magnitude Estimates</text>
<rect x="1348.4" y="613.9" width="130.2" height="45.4" rx="2.78" ry="2.78" fill="#fff" fill-opacity="0.8" stroke="#ccc" stroke-opacity="0.8" stroke-width="1.389"/>
<circle cx="1367.5" cy="626.5" r="1.79" fill="#ffa500"/>
<circle cx="1367.5" cy="647.4" r="1.79" fill="#000"/>
<text x="1392.8" y="629.7" font-size="13.889" text-anchor="start">Highlighted</text>
<text x="1392.43" y="650.9" font-size="13.889" text-anchor="start">OK</text>
<rect x="1365.2" y="387.4" width="113.4" height="47.9" rx="2.78" ry="2.78" fill="#fff" fill-opacity="0.8" stroke="#ccc" stroke-opacity="0.8" stroke-width="1.389"/>
<path d="M1370.4 399.4H1398.4" stroke="#ffa500" stroke-width="2.9" stroke-linecap="square"/>
<text x="1410" y="404.24" font-size="13.889">mag<tspan dy="2.0" font-size="9.722" font-style="oblique">OBSID</tspan></text>
<path d="M1370.1 421.9H1398" stroke="#f00" stroke-width="2.083" stroke-linecap="square"/>
<text x="1409.4" y="427" font-size="13.889" text-anchor="start">mag</text>
<g clip-path="url(#c2)">
<path d="M105.5 763.5H1485.5M105.5 802.5H1485.5M105.5 840.5H1485.5M105.5 878.5H1485.5M105.5 916.5H1485.5" stroke="#b0b0b0" stroke-width="1.111" stroke-dasharray="1.111 1.833" fill="none"/>
<circle cx="811.5" cy="763.4" r="1.5" fill="#000"/>
<path d="M162 954.5V725.5M358 954.5V725.5M811 954.5V725.5M1057 954.5V725.5M1303 954.5V725.5" stroke="#800080" stroke-width="2.083" stroke-dasharray="2.083 3.4375" fill="none"/>
</g>
<g clip-path="url(#c3)">
<path d="M105.5 957.5H1485.5M105.5 983.5H1485.5M105.5 1009.5H1485.5" stroke="#b0b0b0" stroke-width="1.111" stroke-dasharray="1.111 1.833" fill="none"/>
<path d="M162 1009.0L162 1006.17L163 1006.13L164 1006.23L165 1006.14L166 1006.24L167 1006.7L168 1006.81L169 1006.63L170 1006.69L171 1006.86L172 1006.52L173 1005.98L174 1005.62L175 1005.61L176 1006.3L177 1006.69L178 1006.51L179 1006.3L180 1005.43L181 1004.3L182 1004.19L183 1005.09L184 1006.08L185 1006.42L186 1006.23L187 1005.87L188 1005.66L189 1005.7L190 1005.8L191 1005.99L192 1006.29L193 1006.49L194 1006.4L195 1006.1L196 1005.89L197 1006.1L198 1006.44L199 1006.57L200 1006.41L201 1006.17L202 1006.12L203 1005.88L204 1005.8L205 1005.79L206 1005.78L207 1006.37L208 1006.76L209 1006.55L210 1006.22L211 1006.07L212 1006.06L213 1006.01L214 1005.98L215 1005.96L216 1005.99L217 1006.07L218 1005.97L219 1005.6L220 1005.22L221 1005.48L222 1006.16L223 1006.4L224 1006.02L225 1005.66L226 1005.75L227 1005.84L228 1006.25L229 1006.88L230 1006.42L231 1005.58L232 1005.77L233 1006.3L234 1006.35L235 1005.9L236 1005.21L237 1005.22L238 1005.97L239 1006.52L240 1006.42L241 1006.11L242 1006.28L243 1006.68L244 1006.85L245 1006.65L246 1006.21L247 1006.11L248 1006.37L249 1006.52L250 1006.5L251 1006.49L252 1006.43L253 1006.21L254 1005.97L255 1006.03L256 1006.51L257 1006.81L258 1006.6L259 1005.98L260 1005.03L261 1004.83L262 1005.48L263 1005.65L264 1005.33L265 1005.43L266 1006.11L267 1006.75L268 1006.73L269 1006.38L270 1006.24L271 1006.29L272 1006.5L273 1006.07L274 1005.03L275 1004.92L276 1005.27L277 1005.69L278 1006.27L279 1006.29L280 1006.29L281 1006.18L282 1005.95L283 1006.32L284 1006.77L285 1006.46L286 1005.79L287 1005.92L288 1006.26L289 1006.07L290 1006.06L291 1006.45L292 1006.53L293 1006.07L294 1005.94L295 1006.1L296 1005.91L297 1005.91L298 1006.21L299 1006.42L300 1006.35L301 1006.15L302 1006.04L303 1006.09L304 1006.21L305 1005.99L306 1005.74L307 1006.04L308 1006.45L309 1006.52L310 1006.42L311 1006.1L312 1005.61L313 1005.65L314 1006.44L315 1006.86L316 1006.51L317 1006.22L318 1006.22L319 1006.23L320 1006.17L321 1006.18L322 1006.41L323 1006.52L324 1006.16L325 1005.88L326 1006.02L327 1005.91L328 1005.68L329 1006.02L330 1006.65L331 1006.86L332 1006.54L333 1006.2L334 1005.74L335 1004.81L336 1004.35L337 1005.28L338 1006.08L339 1006.05L340 1005.97L341 1006.03L342 1006.34L343 1006.48L344 1006.42L345 1006.41L346 1006.48L347 1006.19L348 1005.64L349 1005.84L350 1006.34L351 1006.59L352 1006.57L353 1006.37L354 1006.53L355 1006.39L356 1005.91L357 1006.19L358 1006.6L359 1006.55L360 1006.41L361 1006.32L362 1006.33L363 1006.12L364 1005.81L365 1006.08L366 1006.34L367 1006.12L368 1006.03L369 1006.15L370 1005.81L371 1005.17L372 1005.13L373 1005.24L374 1005.33L375 1005.45L376 1005.39L377 1005.87L378 1006.29L379 1006.19L380 1006.24L381 1006.33L382 1006.28L383 1006.11L384 1005.99L385 1006.31L386 1006.72L387 1006.42L388 1005.83L389 1005.65L390 1005.74L391 1005.78L392 1005.99L393 1006.48L394 1006.57L395 1006.08L396 1005.89L397 1006.25L398 1006.44L399 1006.53L400 1006.77L401 1006.72L402 1006.5L403 1006.47L404 1006.44L405 1006.53L406 1006.47L407 1005.92L408 1005.61L409 1005.56L410 1005.6L411 1005.74L412 1005.7L413 1005.48L414 1005.34L415 1005.88L416 1006.57L417 1006.7L418 1006.7L419 1006.64L420 1006.49L421 1006.43L422 1006.59L423 1006.74L424 1006.52L425 1006.48L426 1006.56L427 1006.18L428 1005.98L429 1006.14L430 1006.24L431 1006.48L432 1006.54L433 1006.17L434 1005.76L435 1005.55L436 1005.77L437 1005.99L438 1005.72L439 1005.56L440 1006L441 1006.51L442 1006.67L443 1006.79L444 1006.94L445 1006.95L446 1006.61L447 1005.87L448 1005.11L449 1005.12L450 1005.8L451 1005.87L452 1005.62L453 1006.05L454 1006.4L455 1006.29L456 1006.37L457 1006.57L458 1006.61L459 1006.56L460 1006.42L461 1006.37L462 1006.47L463 1006.39L464 1006.33L465 1005.96L466 1005.22L467 1005L468 1005.11L469 1005.14L470 1005.54L471 1005.78L472 1005.51L473 1005.68L474 1006.14L475 1006.18L476 1006.22L477 1006.51L478 1006.37L479 1005.97L480 1005.95L481 1006.08L482 1006.04L483 1006.18L484 1006.53L485 1006.74L486 1006.75L487 1006.32L488 1005.99L489 1006.21L490 1006.34L491 1006.26L492 1006.4L493 1006.52L494 1006.42L495 1006.8L496 1006.94L497 1006.36L498 1006L499 1005.95L500 1006.01L501 1006.05L502 1005.79L503 1005.58L504 1006.02L505 1006.53L506 1006.45L507 1006.26L508 1006.29L509 1006.33L510 1006.4L511 1006.39L512 1006.18L513 1005.88L514 1005.91L515 1006.2L516 1006.11L517 1006.07L518 1006.37L519 1006.59L520 1006.6L521 1006.29L522 1006.1L523 1006.25L524 1006.46L525 1006.73L526 1006.84L527 1006.78L528 1006.69L529 1006.56L530 1006.48L531 1006.42L532 1006.11L533 1005.87L534 1006.07L535 1006.29L536 1006.25L537 1006.17L538 1005.96L539 1005.92L540 1006.1L541 1006.18L542 1006.39L543 1006.19L544 1005.61L545 1005.54L546 1005.8L547 1005.71L548 1005.63L549 1006.08L550 1006.44L551 1006.29L552 1005.85L553 1005.96L554 1006.66L555 1007.04L556 1006.88L557 1006.79L558 1006.84L559 1006.75L560 1006.71L561 1006.59L562 1006.16L563 1006.05L564 1006.22L565 1006.23L566 1006.42L567 1006.58L568 1006.65L569 1006.74L570 1006.65L571 1006.64L572 1006.65L573 1006.59L574 1006.62L575 1006.18L576 1005.75L577 1005.84L578 1005.8L579 1005.91L580 1006.26L581 1006.35L582 1006.33L583 1006.52L584 1006.77L585 1006.68L586 1006.17L587 1005.85L588 1006.28L589 1006.54L590 1006.25L591 1006.29L592 1006.48L593 1006.24L594 1005.97L595 1006.19L596 1006.5L597 1006.49L598 1006.25L599 1005.95L600 1005.74L601 1005.61L602 1005.95L603 1006.53L604 1006.45L605 1005.88L606 1005.69L607 1006.18L608 1006.6L609 1006.25L610 1005.71L611 1005.85L612 1006.43L613 1006.73L614 1006.54L615 1006.2L616 1006L617 1005.98L618 1006.36L619 1006.81L620 1006.74L621 1006.33L622 1006L623 1006.19L624 1006.48L625 1006.46L626 1006.2L627 1005.51L628 1004.8L629 1004.81L630 1005.49L631 1005.96L632 1005.66L633 1005.66L634 1006.21L635 1006.4L636 1006.47L637 1006.57L638 1006.48L639 1006.35L640 1006.28L641 1006.16L642 1006.35L643 1006.68L644 1006.6L645 1006.54L646 1006.65L647 1006.53L648 1005.92L649 1005.18L650 1004.78L651 1005.15L652 1005.96L653 1006.32L654 1006.14L655 1005.83L656 1005.94L657 1006.49L658 1006.72L659 1006.35L660 1005.77L661 1005.56L662 1005.71L663 1005.87L664 1006.08L665 1006.15L666 1006.05L667 1005.78L668 1005.52L669 1005.26L670 1005.01L671 1005.39L672 1005.99L673 1006.43L674 1006.63L675 1006.39L676 1006.12L677 1006.13L678 1006.4L679 1006.34L680 1006.02L681 1005.98L682 1006.06L683 1006.31L684 1006.29L685 1006.01L686 1006.16L687 1006.09L688 1005.67L689 1005.64L690 1006.13L691 1006.63L692 1006.63L693 1006.37L694 1006.16L695 1006.09L696 1006.16L697 1005.55L698 1004.81L699 1005.26L700 1005.9L701 1006.03L702 1006.38L703 1007.01L704 1007.18L705 1006.82L706 1006.17L707 1005.53L708 1005.36L709 1005.82L710 1006.5L711 1006.61L712 1006.6L713 1006.4L714 1005.74L715 1005.45L716 1005.57L717 1005.88L718 1005.84L719 1005.54L720 1005.84L721 1006.36L722 1006.6L723 1006.59L724 1006.27L725 1006.04L726 1006.42L727 1006.89L728 1006.82L729 1006.38L730 1006.45L731 1007.04L732 1006.89L733 1006.49L734 1006.64L735 1006.59L736 1006.19L737 1005.96L738 1005.85L739 1005.75L740 1005.93L741 1006.15L742 1006.26L743 1006.22L744 1005.87L745 1005.83L746 1006.23L747 1006.58L748 1006.59L749 1006.39L750 1006.61L751 1006.88L752 1006.59L753 1006.2L754 1006.19L755 1006.28L756 1006.16L757 1006.29L758 1006.81L759 1006.92L760 1006.55L761 1006.57L762 1006.32L763 1005.54L764 1005.6L765 1006.05L766 1006.26L767 1006.66L768 1006.93L769 1006.76L770 1006.58L771 1006.65L772 1006.66L773 1006.42L774 1006.25L775 1005.81L776 1005.65L777 1006.41L778 1006.73L779 1006.39L780 1006.26L781 1006.5L782 1006.7L783 1006.37L784 1006.05L785 1006.04L786 1006.04L787 1005.61L788 1005.34L789 1006.22L790 1006.85L791 1006.44L792 1006.18L793 1006.56L794 1006.95L795 1006.64L796 1006.03L797 1005.84L798 1005.73L799 1005.56L800 1005.89L801 1006.52L802 1006.64L803 1006.34L804 1006.35L805 1006.52L806 1006.42L807 1006.38L808 1006.04L809 1005.38L810 1005.14L811 1005.3L812 1005.69L813 1005.87L814 1005.97L815 1006.42L816 1006.51L817 1006.23L818 1006.12L819 1006.29L820 1006.47L821 1006.35L822 1006.48L823 1006.48L824 1005.92L825 1005.84L826 1006.01L827 1005.99L828 1006.35L829 1006.84L830 1006.83L831 1006.52L832 1006.38L833 1006.31L834 1006.4L835 1006.56L836 1006.47L837 1006.66L838 1007.03L839 1006.95L840 1006.61L841 1006.33L842 1006.26L843 1006.02L844 1005.71L845 1005.87L846 1006.13L847 1006.3L848 1006.14L849 1005.93L850 1006.48L851 1006.92L852 1006.42L853 1005.84L854 1005.98L855 1006.55L856 1006.89L857 1006.8L858 1006.71L859 1006.52L860 1005.71L861 1004.97L862 1005.16L863 1005.66L864 1005.9L865 1005.95L866 1006.13L867 1006.56L868 1006.88L869 1006.81L870 1006.4L871 1005.96L872 1005.63L873 1005.4L874 1005.36L875 1005.56L876 1005.71L877 1005.71L878 1005.59L879 1005.64L880 1006.08L881 1006.29L882 1006.25L883 1006.41L884 1006.46L885 1006.19L886 1005.95L887 1005.94L888 1006.17L889 1006.23L890 1006.07L891 1006.21L892 1006.35L893 1006.43L894 1006.41L895 1005.93L896 1005.47L897 1005.34L898 1005.35L899 1005.52L900 1006.01L901 1006.41L902 1006.3L903 1006.21L904 1006.22L905 1006.16L906 1006.26L907 1006.45L908 1006.69L909 1007.06L910 1006.95L911 1006.37L912 1005.67L913 1004.77L914 1004.27L915 1004.78L916 1005.69L917 1006.15L918 1006.38L919 1006.57L920 1006.48L921 1006.33L922 1006.22L923 1006.26L924 1006.33L925 1006.18L926 1006.22L927 1006.33L928 1006.1L929 1006.28L930 1006.69L931 1006.57L932 1006.49L933 1006.54L934 1006.48L935 1006.25L936 1005.72L937 1005.68L938 1005.87L939 1005.85L940 1006.15L941 1006.38L942 1006.51L943 1006.78L944 1006.23L945 1005.21L946 1005.02L947 1005.26L948 1005.56L949 1005.98L950 1006.03L951 1005.92L952 1005.79L953 1005.68L954 1006.1L955 1006.74L956 1006.87L957 1006.43L958 1006.18L959 1006.35L960 1006.31L961 1006.3L962 1006.56L963 1006.6L964 1006.25L965 1006.1L966 1006.57L967 1006.93L968 1006.76L969 1006.63L970 1006.7L971 1006.27L972 1005.61L973 1005.71L974 1006.09L975 1006.22L976 1006.19L977 1006L978 1005.91L979 1005.99L980 1006.14L981 1006.44L982 1006.71L983 1006.62L984 1006.4L985 1006.53L986 1006.84L987 1006.87L988 1006.82L989 1006.46L990 1005.61L991 1005.37L992 1005.85L993 1006.25L994 1006.12L995 1005.75L996 1005.44L997 1005.33L998 1005.94L999 1006.67L1000 1006.46L1001 1006.04L1002 1006.01L1003 1005.69L1004 1005.18L1005 1005.27L1006 1005.69L1007 1005.83L1008 1005.98L1009 1006.34L1010 1006.45L1011 1006.05L1012 1006.01L1013 1006.74L1014 1007.14L1015 1006.98L1016 1006.76L1017 1006.67L1018 1006.69L1019 1006.51L1020 1006.18L1021 1005.89L1022 1005.79L1023 1005.85L1024 1006.01L1025 1006.23L1026 1006.37L1027 1006.4L1028 1006.35L1029 1006.29L1030 1006.48L1031 1006.54L1032 1006.36L1033 1006.43L1034 1006.5L1035 1006.57L1036 1006.55L1037 1006.11L1038 1005.78L1039 1005.91L1040 1006.29L1041 1006.62L1042 1006.42L1043 1005.88L1044 1005.32L1045 1005.2L1046 1005.79L1047 1006.13L1048 1006.36L1049 1006.89L1050 1006.74L1051 1006.42L1052 1006.43L1053 1006.18L1054 1006.17L1055 1006.36L1056 1006.15L1057 1005.99L1058 1005.96L1059 1006.13L1060 1006.67L1061 1006.47L1062 1005.71L1063 1005.71L1064 1006.07L1065 1006.42L1066 1006.64L1067 1006.73L1068 1006.95L1069 1006.8L1070 1006.48L1071 1006.36L1072 1005.99L1073 1006.01L1074 1006.5L1075 1006.54L1076 1006.07L1077 1005.37L1078 1005.31L1079 1006.02L1080 1006.3L1081 1006.23L1082 1006.25L1083 1006.06L1084 1006.1L1085 1006.51L1086 1006.75L1087 1006.99L1088 1006.88L1089 1006.47L1090 1006.73L1091 1007.16L1092 1006.7L1093 1006.02L1094 1006.04L1095 1006.21L1096 1006.13L1097 1005.96L1098 1005.8L1099 1005.78L1100 1005.72L1101 1005.69L1102 1006.15L1103 1006.59L1104 1006.56L1105 1006.29L1106 1006.25L1107 1006.55L1108 1006.4L1109 1006.08L1110 1006.15L1111 1006.22L1112 1006.21L1113 1006.13L1114 1005.99L1115 1006.04L1116 1006.22L1117 1006.47L1118 1006.71L1119 1006.51L1120 1006.19L1121 1006.25L1122 1006.38L1123 1006.58L1124 1006.65L1125 1006.45L1126 1006.38L1127 1006.56L1128 1006.72L1129 1006.71L1130 1006.68L1131 1006.54L1132 1006.47L1133 1006.6L1134 1006.71L1135 1006.75L1136 1006.49L1137 1005.89L1138 1005.69L1139 1006.07L1140 1006.41L1141 1006.51L1142 1006.46L1143 1006.16L1144 1005.85L1145 1005.92L1146 1006.13L1147 1006.26L1148 1006.22L1149 1006.14L1150 1006.31L1151 1006.22L1152 1005.83L1153 1005.78L1154 1006.17L1155 1006.25L1156 1006.01L1157 1006.06L1158 1006.3L1159 1006.74L1160 1006.95L1161 1006.41L1162 1005.63L1163 1005.64L1164 1006.3L1165 1006.64L1166 1006.62L1167 1006.31L1168 1006.09L1169 1006.42L1170 1006.69L1171 1006.73L1172 1006.87L1173 1006.72L1174 1006.27L1175 1005.59L1176 1005.11L1177 1005.35L1178 1005.46L1179 1005.49L1180 1005.88L1181 1006.06L1182 1005.81L1183 1005.67L1184 1005.8L1185 1005.75L1186 1005.92L1187 1006.34L1188 1006.48L1189 1006.34L1190 1006.04L1191 1006.12L1192 1006.51L1193 1006.53L1194 1006.37L1195 1006.47L1196 1006.72L1197 1006.82L1198 1006.72L1199 1006.16L1200 1005.67L1201 1006.1L1202 1006.65L1203 1006.79L1204 1006.8L1205 1006.73L1206 1006.68L1207 1006.65L1208 1006.52L1209 1006.11L1210 1005.79L1211 1005.94L1212 1005.88L1213 1005.82L1214 1006.27L1215 1006.4L1216 1006.19L1217 1006.18L1218 1006L1219 1005.74L1220 1006.01L1221 1006.4L1222 1006.32L1223 1005.98L1224 1005.96L1225 1006.02L1226 1005.96L1227 1006.14L1228 1006.16L1229 1006.17L1230 1006.09L1231 1005.69L1232 1005.7L1233 1005.91L1234 1005.66L1235 1005.48L1236 1006.13L1237 1006.8L1238 1006.67L1239 1006.06L1240 1005.55L1241 1005.35L1242 1005.61L1243 1006.26L1244 1006.56L1245 1006.3L1246 1006.15L1247 1006.01L1248 1005.95L1249 1006.16L1250 1005.83L1251 1005.54L1252 1005.97L1253 1006.29L1254 1006.22L1255 1006.27L1256 1006.54L1257 1006.54L1258 1006.03L1259 1005.48L1260 1005.3L1261 1005.36L1262 1005.35L1263 1005.2L1264 1005.48L1265 1006.15L1266 1006.67L1267 1006.91L1268 1006.88L1269 1006.7L1270 1006.7L1271 1006.72L1272 1006.08L1273 1005.39L1274 1005.6L1275 1006.17L1276 1006.27L1277 1006.05L1278 1006.25L1279 1006.49L1280 1006.13L1281 1005.6L1282 1005.55L1283 1005.76L1284 1005.55L1285 1005.66L1286 1006.1L1287 1006.07L1288 1006.22L1289 1006.57L1290 1006.53L1291 1006.38L1292 1006.31L1293 1006.51L1294 1006.73L1295 1006.62L1296 1006.7L1297 1006.62L1298 1006.18L1299 1006.23L1300 1006.2L1301 1005.64L1302 1005.77L1303 1006.38L1303 1009.0Z" fill="#000" stroke="#000" stroke-width="2.0" stroke-linejoin="round"/><circle cx="811" cy="1001.6" r="1.3" fill="#000"/><path d="M811 955.4l2 3.6h-4z" fill="#f00"/>
<path d="M162 1011.5V954.5M358 1011.5V954.5M811 1011.5V954.5M1057 1011.5V954.5M1303 1011.5V954.5" stroke="#800080" stroke-width="2.083" stroke-dasharray="2.083 3.4375" fill="none"/>
</g>
<rect x="105.5" y="725.5" width="1380.0" height="229.0" fill="none" stroke="#000" stroke-width="1.111"/>
<rect x="105.5" y="954.5" width="1380.0" height="57.0" fill="none" stroke="#000" stroke-width="1.111"/>
<path d="M162.5 1011.5V1016.86" stroke="#000" stroke-width="1.111"/>
<text x="163.3" y="1031.78" font-size="13.889" text-anchor="middle">0</text>
<path d="M468.5 1011.5V1016.86" stroke="#000" stroke-width="1.111"/>
<text x="468.35" y="1031.78" font-size="13.889" text-anchor="middle">5000</text>
<path d="M775.5 1011.5V1016.86" stroke="#000" stroke-width="1.111"/>
<text x="774.6" y="1031.78" font-size="13.889" text-anchor="middle">10000</text>
<path d="M1081.5 1011.5V1016.86" stroke="#000" stroke-width="1.111"/>
<text x="1080.85" y="1031.78" font-size="13.889" text-anchor="middle">15000</text>
<path d="M1387.5 1011.5V1016.86" stroke="#000" stroke-width="1.111"/>
<text x="1387.1" y="1031.78" font-size="13.889" text-anchor="middle">20000</text>
<path d="M100.14 763.5H105.5" stroke="#000" stroke-width="1.111"/>
<text x="95.2" y="769" font-size="13.889" text-anchor="end">not Kalman</text>
<path d="M100.14 802.5H105.5" stroke="#000" stroke-width="1.111"/>
<text x="95.2" y="807" font-size="13.889" text-anchor="end">not track</text>
<path d="M100.14 840.5H105.5" stroke="#000" stroke-width="1.111"/>
<text x="95.2" y="845.1" font-size="13.889" text-anchor="end">Ion. rad.</text>
<path d="M100.14 878.5H105.5" stroke="#000" stroke-width="1.111"/>
<text x="95.2" y="883.1" font-size="13.889" text-anchor="end">dr &gt; 5</text>
<path d="M100.14 916.5H105.5" stroke="#000" stroke-width="1.111"/>
<text x="95.2" y="921.1" font-size="13.889" text-anchor="end">OBS not OK</text>
<path d="M100.14 957.5H105.5" stroke="#000" stroke-width="1.111"/>
<text x="95.2" y="962.1" font-size="13.889" text-anchor="end">10</text>
<path d="M100.14 983.5H105.5" stroke="#000" stroke-width="1.111"/>
<text x="95.2" y="988.1" font-size="13.889" text-anchor="end">5</text>
<path d="M100.14 1009.5H105.5" stroke="#000" stroke-width="1.111"/>
<text x="95.2" y="1014.1" font-size="13.889" text-anchor="end">0</text>
<path d="M102.22 970.5H105.5" stroke="#000" stroke-width="0.833"/>
<path d="M102.22 996.5H105.5" stroke="#000" stroke-width="0.833"/>
<text transform="translate(69.26 982.72) rotate(-90)" font-size="13.889" text-anchor="middle">dr</text>
</svg>
</body></html>
